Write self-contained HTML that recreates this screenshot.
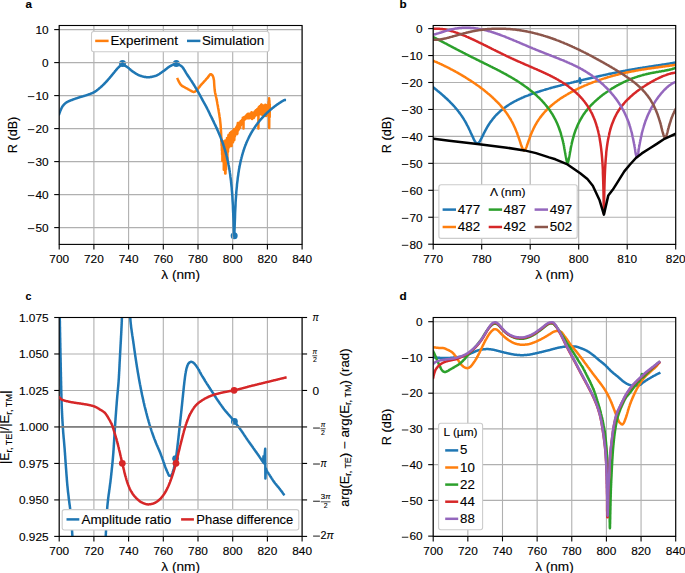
<!DOCTYPE html>
<html><head><meta charset="utf-8"><style>
html,body{margin:0;padding:0;background:#fff;}
svg{display:block;}
text{font-family:"Liberation Sans", sans-serif;fill:#000;stroke:#000;stroke-width:0.12px;}
</style></head><body>
<svg width="685" height="573" viewBox="0 0 685 573">
<rect width="685" height="573" fill="#fff"/>
<defs><clipPath id="ca"><rect x="59.2" y="25.5" width="242.90" height="218.90"/></clipPath><clipPath id="cb"><rect x="433.2" y="25.5" width="242.50" height="218.90"/></clipPath><clipPath id="cc"><rect x="59.2" y="317.5" width="242.90" height="218.90"/></clipPath><clipPath id="cd"><rect x="433.2" y="317.5" width="242.50" height="218.90"/></clipPath></defs>
<g>
<circle cx="122.53" cy="63.59" r="3.5" fill="#1f77b4" clip-path="url(#ca)"/>
<circle cx="176.31" cy="63.43" r="3.5" fill="#1f77b4" clip-path="url(#ca)"/>
<circle cx="234.17" cy="235.85" r="3.5" fill="#1f77b4" clip-path="url(#ca)"/>
<line x1="59.20" y1="25.50" x2="59.20" y2="244.40" stroke="#b0b0b0" stroke-width="1.1" />
<line x1="93.90" y1="25.50" x2="93.90" y2="244.40" stroke="#b0b0b0" stroke-width="1.1" />
<line x1="128.60" y1="25.50" x2="128.60" y2="244.40" stroke="#b0b0b0" stroke-width="1.1" />
<line x1="163.30" y1="25.50" x2="163.30" y2="244.40" stroke="#b0b0b0" stroke-width="1.1" />
<line x1="198.00" y1="25.50" x2="198.00" y2="244.40" stroke="#b0b0b0" stroke-width="1.1" />
<line x1="232.70" y1="25.50" x2="232.70" y2="244.40" stroke="#b0b0b0" stroke-width="1.1" />
<line x1="267.40" y1="25.50" x2="267.40" y2="244.40" stroke="#b0b0b0" stroke-width="1.1" />
<line x1="302.10" y1="25.50" x2="302.10" y2="244.40" stroke="#b0b0b0" stroke-width="1.1" />
<line x1="59.20" y1="29.60" x2="302.10" y2="29.60" stroke="#b0b0b0" stroke-width="1.1" />
<line x1="59.20" y1="62.60" x2="302.10" y2="62.60" stroke="#b0b0b0" stroke-width="1.1" />
<line x1="59.20" y1="95.60" x2="302.10" y2="95.60" stroke="#b0b0b0" stroke-width="1.1" />
<line x1="59.20" y1="128.60" x2="302.10" y2="128.60" stroke="#b0b0b0" stroke-width="1.1" />
<line x1="59.20" y1="161.60" x2="302.10" y2="161.60" stroke="#b0b0b0" stroke-width="1.1" />
<line x1="59.20" y1="194.60" x2="302.10" y2="194.60" stroke="#b0b0b0" stroke-width="1.1" />
<line x1="59.20" y1="227.60" x2="302.10" y2="227.60" stroke="#b0b0b0" stroke-width="1.1" />
<path d="M177.2,77.8L177.5,78.7L177.9,79.5L178.2,80.3L178.6,81.1L178.9,81.8L179.3,82.4L179.6,83.0L180.0,83.6L180.3,84.1L180.7,84.5L181.0,84.8L181.3,85.2L181.7,85.5L182.0,85.8L182.4,86.0L182.7,86.3L183.1,86.5L183.4,86.6L183.8,86.8L184.1,87.0L184.5,87.2L184.8,87.4L185.2,87.6L185.5,87.8L185.9,88.0L186.2,88.2L186.5,88.3L186.9,88.5L187.2,88.7L187.6,88.9L187.9,89.1L188.3,89.3L188.6,89.5L189.0,89.7L189.3,89.9L189.7,90.1L190.0,90.3L190.4,90.5L190.7,90.7L191.1,90.9L191.4,91.1L191.8,91.2L192.1,91.4L192.4,91.6L192.8,91.7L193.1,91.9L193.5,92.0L193.8,92.0L194.2,91.9L194.5,91.8L194.9,91.6L195.2,91.4L195.6,91.2L195.9,91.0L196.3,90.6L196.6,90.3L197.0,89.9L197.3,89.5L197.7,89.1L198.0,88.6L198.3,88.2L198.7,87.8L199.0,87.4L199.4,87.0L199.7,86.5L200.1,86.1L200.4,85.6L200.8,85.2L201.1,84.8L201.5,84.4L201.8,84.0L202.2,83.6L202.5,83.2L202.9,82.9L203.2,82.5L203.6,82.1L203.9,81.8L204.2,81.4L204.6,81.0L204.9,80.7L205.3,80.3L205.6,79.9L206.0,79.5L206.3,79.1L206.7,78.7L207.0,78.4L207.4,78.0L207.7,77.6L208.1,77.1L208.4,76.6L208.8,76.1L209.1,75.6L209.5,75.2L209.8,74.8L210.1,74.4L210.5,74.2L210.8,74.2L211.2,74.2L211.5,74.5L211.9,74.8L212.2,75.1L212.6,75.6L212.9,76.3L213.3,77.2L213.6,78.4L214.0,80.5L214.3,85.6L214.7,90.0L215.0,92.2L215.4,93.9L215.7,95.3L216.0,96.7L216.4,98.2L216.7,100.1L217.1,101.9L217.4,103.9L217.8,105.8L218.1,107.8L218.5,109.8L218.8,111.8L219.2,113.9L219.5,116.2L219.9,118.5L220.2,121.3L220.6,125.0L220.9,129.4L221.2,135.2L221.3,141.6L221.4,137.2L221.6,145.4L221.7,140.1L221.9,150.6L222.0,142.7L222.1,154.5L222.3,141.8L222.4,160.9L222.6,143.3L222.7,156.4L222.8,143.8L223.0,159.2L223.1,141.4L223.2,160.9L223.4,141.6L223.5,161.8L223.7,145.8L223.8,169.7L223.9,143.9L224.1,169.7L224.2,144.5L224.4,162.7L224.5,144.4L224.6,168.3L224.8,146.3L224.9,163.2L225.0,149.8L225.2,173.4L225.3,140.5L225.5,173.5L225.6,146.8L225.7,161.6L225.9,144.5L226.0,169.6L226.2,146.1L226.3,159.0L226.4,148.1L226.6,163.5L226.7,148.0L226.9,162.5L227.0,138.0L227.1,155.2L227.3,144.5L227.4,159.0L227.5,138.3L227.7,151.9L227.8,137.7L228.0,151.7L228.1,137.7L228.2,144.6L228.4,135.3L228.5,144.4L228.7,134.7L228.8,147.4L228.9,135.9L229.1,143.4L229.2,137.3L229.4,146.4L229.5,137.0L229.6,144.7L229.8,133.8L229.9,144.5L230.0,133.0L230.2,141.5L230.3,136.9L230.5,145.9L230.6,136.3L230.7,145.0L230.9,136.6L231.0,142.3L231.2,132.3L231.3,142.3L231.4,131.7L231.6,145.9L231.7,133.9L231.8,142.4L232.0,135.4L232.1,141.5L232.3,134.9L232.4,141.9L232.5,131.1L232.7,141.6L232.8,133.2L233.0,142.2L233.1,131.7L233.2,141.4L233.4,131.4L233.5,140.0L233.7,133.0L233.8,138.3L233.9,129.3L234.1,137.8L234.2,129.0L234.3,139.9L234.5,131.1L234.6,136.3L234.8,130.3L234.9,136.6L235.0,128.9L235.2,135.2L235.3,130.3L235.5,134.7L235.6,128.9L235.7,133.2L235.9,128.8L236.0,133.9L236.2,127.6L236.3,131.6L236.4,127.3L236.6,131.9L236.7,126.8L236.8,130.4L237.0,127.2L237.1,134.1L237.3,125.2L237.4,133.5L237.5,125.2L237.7,131.1L237.8,122.9L238.0,129.7L238.1,123.8L238.2,130.1L238.4,124.1L238.5,128.6L238.7,124.0L238.8,129.5L238.9,123.9L239.1,128.2L239.2,123.3L239.3,127.6L239.5,122.5L239.6,127.9L239.8,124.0L239.9,128.0L240.0,122.6L240.2,127.5L240.3,122.3L240.5,125.5L240.6,121.3L240.7,124.8L240.9,122.0L241.0,124.9L241.1,120.9L241.3,123.7L241.4,121.3L241.6,123.9L241.7,120.4L241.8,122.6L242.0,120.0L242.1,122.6L242.3,119.9L242.4,121.9L242.5,119.7L242.7,122.0L242.8,117.8L243.0,120.9L243.1,118.7L243.2,121.3L243.4,117.5L243.5,121.1L243.5,128.6L243.6,117.9L243.8,119.7L243.9,117.9L244.1,119.6L244.2,117.0L244.3,120.1L244.5,117.6L244.6,118.7L244.8,116.8L244.9,119.3L245.0,117.1L245.2,118.3L245.3,116.9L245.5,119.0L245.6,116.4L245.7,118.2L245.9,115.7L246.0,117.9L246.1,115.7L246.3,117.6L246.4,116.1L246.6,118.3L246.7,115.0L246.8,117.8L247.0,115.1L247.1,118.1L247.3,115.5L247.4,117.4L247.5,113.9L247.7,118.3L247.8,115.3L248.0,116.6L248.1,114.0L248.2,117.0L248.4,113.9L248.5,117.2L248.6,114.4L248.8,117.9L248.9,114.1L249.1,116.6L249.2,114.3L249.3,118.3L249.5,113.7L249.6,117.4L249.8,113.9L249.9,117.7L250.0,114.5L250.2,117.1L250.3,113.4L250.4,118.0L250.6,114.1L250.7,116.9L250.9,114.2L251.0,117.5L251.1,114.5L251.3,117.7L251.4,112.5L251.6,117.2L251.7,112.2L251.8,117.4L252.0,114.0L252.1,118.9L252.3,113.6L252.4,117.8L252.5,113.4L252.7,117.7L252.8,113.5L252.9,117.1L253.1,114.5L253.2,117.8L253.4,113.4L253.5,117.2L253.6,113.5L253.8,117.9L253.9,113.2L254.1,117.6L254.2,112.4L254.3,115.7L254.5,111.8L254.6,116.5L254.8,111.8L254.9,116.2L255.0,112.4L255.2,115.8L255.3,111.0L255.4,114.4L255.6,110.8L255.7,113.9L255.9,110.2L256.0,114.8L256.1,111.6L256.3,114.4L256.4,111.1L256.6,115.0L256.7,111.0L256.8,114.3L257.0,109.8L257.1,113.3L257.3,109.1L257.4,113.8L257.5,109.7L257.7,114.0L257.8,110.3L257.9,115.0L258.1,110.2L258.2,113.9L258.4,108.1L258.4,128.6L258.5,112.7L258.6,108.1L258.8,114.1L258.9,107.1L259.1,112.6L259.2,107.9L259.3,113.9L259.5,106.7L259.6,114.2L259.7,106.2L259.9,111.8L260.0,107.4L260.2,114.2L260.3,106.6L260.4,112.4L260.6,107.2L260.7,111.7L260.9,105.5L261.0,112.2L261.1,104.8L261.3,111.5L261.4,104.7L261.6,111.6L261.7,104.7L261.8,112.7L262.0,105.5L262.1,113.3L262.2,107.6L262.4,115.3L262.5,105.7L262.7,112.3L262.8,105.7L262.9,112.6L263.1,106.3L263.2,114.4L263.4,105.4L263.5,112.1L263.6,107.4L263.8,113.1L263.9,106.2L264.1,114.6L264.2,106.0L264.3,114.5L264.5,107.0L264.6,111.5L264.7,107.3L264.9,111.0L265.0,107.1L265.2,113.2L265.3,104.8L265.4,112.5L265.6,105.3L265.7,114.9L265.9,105.4L266.0,115.9L266.1,105.1L266.3,113.6L266.4,105.3L266.5,111.7L266.7,107.7L266.8,113.8L267.0,107.2L267.1,112.5L267.2,107.2L267.4,115.0L267.5,106.5L267.7,113.7L267.8,105.7L267.9,111.5L268.1,105.2L268.2,114.2L268.4,106.5L268.5,114.2L268.6,101.9L268.8,115.1L268.9,103.1L269.0,115.3L269.2,101.5L269.3,116.4L269.5,105.6L269.6,110.6L269.1,98.2L269.2,127.9L269.4,100.5L269.7,117.0L269.8,103.8" fill="none" stroke="#ff7f0e" stroke-width="2.5" stroke-linejoin="round" stroke-linecap="butt" clip-path="url(#ca)"/>
<path d="M59.2,114.1L59.4,113.6L59.5,113.0L59.7,112.5L59.9,112.1L60.1,111.6L60.2,111.1L60.4,110.7L60.6,110.3L60.8,109.9L60.9,109.5L61.1,109.1L61.3,108.7L61.5,108.3L61.6,108.0L61.8,107.6L62.0,107.3L62.1,107.0L62.3,106.7L62.5,106.4L62.7,106.2L62.8,105.9L63.0,105.7L63.2,105.5L63.4,105.3L63.5,105.1L63.7,104.9L63.9,104.7L64.1,104.5L64.2,104.3L64.4,104.1L64.6,103.9L64.8,103.8L64.9,103.6L65.1,103.5L65.3,103.3L65.4,103.2L65.6,103.0L65.8,102.9L66.0,102.8L66.1,102.6L66.3,102.5L66.5,102.4L66.7,102.3L66.8,102.2L67.0,102.1L67.2,102.0L67.4,101.9L67.5,101.8L67.7,101.7L67.9,101.6L68.0,101.5L68.2,101.5L68.4,101.4L68.6,101.3L68.7,101.2L68.9,101.1L69.1,101.1L69.3,101.0L69.4,100.9L69.6,100.8L69.8,100.8L70.0,100.7L70.1,100.6L70.3,100.6L70.5,100.5L70.7,100.4L70.8,100.4L71.0,100.3L71.2,100.2L71.3,100.2L71.5,100.1L71.7,100.0L71.9,100.0L72.0,99.9L72.2,99.8L72.4,99.8L72.6,99.7L72.7,99.6L72.9,99.6L73.1,99.5L73.3,99.4L73.4,99.4L73.6,99.3L73.8,99.2L73.9,99.2L74.1,99.1L74.3,99.0L74.5,99.0L74.6,98.9L74.8,98.9L75.0,98.8L75.2,98.7L75.3,98.7L75.5,98.6L75.7,98.6L75.9,98.5L76.0,98.4L76.2,98.4L76.4,98.3L76.6,98.3L76.7,98.2L76.9,98.2L77.1,98.1L77.2,98.0L77.4,98.0L77.6,97.9L77.8,97.9L77.9,97.8L78.1,97.8L78.3,97.7L78.5,97.6L78.6,97.6L78.8,97.5L79.0,97.5L79.2,97.4L79.3,97.4L79.5,97.3L79.7,97.2L79.8,97.2L80.0,97.1L80.2,97.1L80.4,97.0L80.5,97.0L80.7,96.9L80.9,96.9L81.1,96.8L81.2,96.8L81.4,96.7L81.6,96.7L81.8,96.6L81.9,96.6L82.1,96.5L82.3,96.5L82.4,96.4L82.6,96.4L82.8,96.3L83.0,96.3L83.1,96.2L83.3,96.2L83.5,96.1L83.7,96.1L83.8,96.0L84.0,96.0L84.2,95.9L84.4,95.9L84.5,95.8L84.7,95.8L84.9,95.7L85.1,95.7L85.2,95.6L85.4,95.6L85.6,95.5L85.7,95.5L85.9,95.4L86.1,95.3L86.3,95.3L86.4,95.2L86.6,95.2L86.8,95.1L87.0,95.1L87.1,95.0L87.3,94.9L87.5,94.9L87.7,94.8L87.8,94.8L88.0,94.7L88.2,94.6L88.3,94.6L88.5,94.5L88.7,94.5L88.9,94.4L89.0,94.3L89.2,94.3L89.4,94.2L89.6,94.2L89.7,94.1L89.9,94.0L90.1,94.0L90.3,93.9L90.4,93.8L90.6,93.8L90.8,93.7L91.0,93.6L91.1,93.6L91.3,93.5L91.5,93.4L91.6,93.3L91.8,93.3L92.0,93.2L92.2,93.1L92.3,93.1L92.5,93.0L92.7,92.9L92.9,92.8L93.0,92.7L93.2,92.6L93.4,92.6L93.6,92.5L93.7,92.4L93.9,92.3L94.1,92.2L94.2,92.1L94.4,92.0L94.6,91.9L94.8,91.8L94.9,91.7L95.1,91.6L95.3,91.5L95.5,91.4L95.6,91.2L95.8,91.1L96.0,91.0L96.2,90.9L96.3,90.8L96.5,90.6L96.7,90.5L96.8,90.4L97.0,90.2L97.2,90.1L97.4,90.0L97.5,89.8L97.7,89.7L97.9,89.5L98.1,89.4L98.2,89.3L98.4,89.1L98.6,89.0L98.8,88.8L98.9,88.7L99.1,88.5L99.3,88.4L99.5,88.2L99.6,88.1L99.8,87.9L100.0,87.8L100.1,87.6L100.3,87.5L100.5,87.3L100.7,87.2L100.8,87.1L101.0,86.9L101.2,86.7L101.4,86.6L101.5,86.4L101.7,86.3L101.9,86.1L102.1,85.9L102.2,85.8L102.4,85.6L102.6,85.5L102.7,85.3L102.9,85.1L103.1,84.9L103.3,84.8L103.4,84.6L103.6,84.4L103.8,84.3L104.0,84.1L104.1,83.9L104.3,83.7L104.5,83.6L104.7,83.4L104.8,83.2L105.0,83.0L105.2,82.8L105.4,82.7L105.5,82.5L105.7,82.3L105.9,82.1L106.0,81.9L106.2,81.7L106.4,81.6L106.6,81.4L106.7,81.2L106.9,81.0L107.1,80.8L107.3,80.6L107.4,80.4L107.6,80.2L107.8,80.0L108.0,79.8L108.1,79.6L108.3,79.4L108.5,79.2L108.6,79.0L108.8,78.8L109.0,78.6L109.2,78.4L109.3,78.2L109.5,78.0L109.7,77.8L109.9,77.6L110.0,77.4L110.2,77.2L110.4,77.0L110.6,76.8L110.7,76.6L110.9,76.4L111.1,76.2L111.3,76.0L111.4,75.8L111.6,75.6L111.8,75.3L111.9,75.1L112.1,74.9L112.3,74.7L112.5,74.5L112.6,74.3L112.8,74.1L113.0,73.9L113.2,73.7L113.3,73.4L113.5,73.2L113.7,73.0L113.9,72.8L114.0,72.6L114.2,72.4L114.4,72.1L114.5,71.9L114.7,71.7L114.9,71.5L115.1,71.3L115.2,71.0L115.4,70.8L115.6,70.6L115.8,70.4L115.9,70.2L116.1,70.0L116.3,69.8L116.5,69.6L116.6,69.4L116.8,69.2L117.0,69.0L117.1,68.8L117.3,68.6L117.5,68.4L117.7,68.2L117.8,68.0L118.0,67.9L118.2,67.7L118.4,67.5L118.5,67.3L118.7,67.2L118.9,67.0L119.1,66.8L119.2,66.7L119.4,66.5L119.6,66.4L119.8,66.2L119.9,66.0L120.1,65.9L120.3,65.7L120.4,65.6L120.6,65.4L120.8,65.2L121.0,65.1L121.1,64.9L121.3,64.7L121.5,64.5L121.7,64.3L121.8,64.0L122.0,63.9L122.2,63.7L122.4,63.6L122.5,63.6L122.7,63.6L122.9,63.7L123.0,63.9L123.2,64.1L123.4,64.3L123.6,64.5L123.7,64.7L123.9,64.9L124.1,65.1L124.3,65.2L124.4,65.3L124.6,65.4L124.8,65.6L125.0,65.7L125.1,65.8L125.3,65.9L125.5,66.0L125.7,66.1L125.8,66.2L126.0,66.3L126.2,66.4L126.3,66.5L126.5,66.6L126.7,66.7L126.9,66.8L127.0,66.9L127.2,67.0L127.4,67.1L127.6,67.3L127.7,67.4L127.9,67.5L128.1,67.7L128.3,67.8L128.4,68.0L128.6,68.1L128.8,68.2L128.9,68.4L129.1,68.5L129.3,68.7L129.5,68.8L129.6,69.0L129.8,69.1L130.0,69.3L130.2,69.4L130.3,69.6L130.5,69.7L130.7,69.9L130.9,70.0L131.0,70.2L131.2,70.3L131.4,70.5L131.5,70.6L131.7,70.7L131.9,70.9L132.1,71.0L132.2,71.1L132.4,71.3L132.6,71.4L132.8,71.5L132.9,71.6L133.1,71.7L133.3,71.9L133.5,72.0L133.6,72.1L133.8,72.2L134.0,72.3L134.2,72.4L134.3,72.6L134.5,72.7L134.7,72.8L134.8,72.9L135.0,73.0L135.2,73.1L135.4,73.3L135.5,73.4L135.7,73.5L135.9,73.6L136.1,73.7L136.2,73.8L136.4,73.9L136.6,74.0L136.8,74.1L136.9,74.2L137.1,74.3L137.3,74.4L137.4,74.5L137.6,74.6L137.8,74.7L138.0,74.8L138.1,74.9L138.3,75.0L138.5,75.1L138.7,75.1L138.8,75.2L139.0,75.3L139.2,75.4L139.4,75.4L139.5,75.5L139.7,75.6L139.9,75.6L140.1,75.7L140.2,75.7L140.4,75.8L140.6,75.9L140.7,75.9L140.9,76.0L141.1,76.0L141.3,76.1L141.4,76.1L141.6,76.1L141.8,76.2L142.0,76.2L142.1,76.3L142.3,76.3L142.5,76.4L142.7,76.4L142.8,76.5L143.0,76.5L143.2,76.6L143.3,76.6L143.5,76.7L143.7,76.7L143.9,76.7L144.0,76.8L144.2,76.8L144.4,76.9L144.6,76.9L144.7,76.9L144.9,77.0L145.1,77.0L145.3,77.0L145.4,77.1L145.6,77.1L145.8,77.1L146.0,77.1L146.1,77.2L146.3,77.2L146.5,77.2L146.6,77.2L146.8,77.2L147.0,77.2L147.2,77.3L147.3,77.3L147.5,77.3L147.7,77.3L147.9,77.3L148.0,77.3L148.2,77.3L148.4,77.3L148.6,77.3L148.7,77.3L148.9,77.3L149.1,77.2L149.2,77.2L149.4,77.2L149.6,77.2L149.8,77.2L149.9,77.2L150.1,77.1L150.3,77.1L150.5,77.1L150.6,77.1L150.8,77.0L151.0,77.0L151.2,77.0L151.3,76.9L151.5,76.9L151.7,76.9L151.8,76.8L152.0,76.8L152.2,76.7L152.4,76.7L152.5,76.7L152.7,76.6L152.9,76.6L153.1,76.5L153.2,76.5L153.4,76.4L153.6,76.4L153.8,76.3L153.9,76.3L154.1,76.3L154.3,76.2L154.5,76.2L154.6,76.1L154.8,76.1L155.0,76.0L155.1,76.0L155.3,75.9L155.5,75.9L155.7,75.8L155.8,75.7L156.0,75.7L156.2,75.6L156.4,75.6L156.5,75.5L156.7,75.4L156.9,75.3L157.1,75.3L157.2,75.2L157.4,75.1L157.6,75.0L157.7,74.9L157.9,74.8L158.1,74.7L158.3,74.6L158.4,74.5L158.6,74.4L158.8,74.3L159.0,74.2L159.1,74.1L159.3,74.0L159.5,73.8L159.7,73.7L159.8,73.6L160.0,73.5L160.2,73.4L160.4,73.2L160.5,73.1L160.7,73.0L160.9,72.9L161.0,72.8L161.2,72.6L161.4,72.5L161.6,72.4L161.7,72.3L161.9,72.1L162.1,72.0L162.3,71.9L162.4,71.8L162.6,71.6L162.8,71.5L163.0,71.4L163.1,71.3L163.3,71.2L163.5,71.1L163.6,70.9L163.8,70.8L164.0,70.7L164.2,70.6L164.3,70.5L164.5,70.3L164.7,70.2L164.9,70.1L165.0,69.9L165.2,69.8L165.4,69.7L165.6,69.5L165.7,69.4L165.9,69.2L166.1,69.1L166.2,69.0L166.4,68.8L166.6,68.7L166.8,68.6L166.9,68.4L167.1,68.3L167.3,68.2L167.5,68.0L167.6,67.9L167.8,67.7L168.0,67.6L168.2,67.5L168.3,67.4L168.5,67.2L168.7,67.1L168.9,67.0L169.0,66.9L169.2,66.7L169.4,66.6L169.5,66.5L169.7,66.4L169.9,66.3L170.1,66.2L170.2,66.1L170.4,66.0L170.6,65.9L170.8,65.8L170.9,65.7L171.1,65.6L171.3,65.6L171.5,65.5L171.6,65.4L171.8,65.3L172.0,65.2L172.1,65.2L172.3,65.1L172.5,65.0L172.7,64.9L172.8,64.9L173.0,64.8L173.2,64.7L173.4,64.7L173.5,64.6L173.7,64.5L173.9,64.4L174.1,64.4L174.2,64.3L174.4,64.2L174.6,64.2L174.8,64.1L174.9,64.0L175.1,63.9L175.3,63.8L175.4,63.7L175.6,63.6L175.8,63.5L176.0,63.5L176.1,63.4L176.3,63.4L176.5,63.4L176.7,63.5L176.8,63.6L177.0,63.6L177.2,63.7L177.4,63.8L177.5,64.0L177.7,64.1L177.9,64.2L178.0,64.3L178.2,64.4L178.4,64.5L178.6,64.6L178.7,64.7L178.9,64.8L179.1,64.8L179.3,64.9L179.4,65.0L179.6,65.1L179.8,65.2L180.0,65.3L180.1,65.4L180.3,65.4L180.5,65.5L180.7,65.6L180.8,65.7L181.0,65.9L181.2,66.0L181.3,66.1L181.5,66.2L181.7,66.4L181.9,66.5L182.0,66.7L182.2,66.9L182.4,67.1L182.6,67.3L182.7,67.5L182.9,67.7L183.1,68.0L183.3,68.2L183.4,68.5L183.6,68.7L183.8,69.0L183.9,69.3L184.1,69.6L184.3,69.9L184.5,70.1L184.6,70.4L184.8,70.7L185.0,71.0L185.2,71.3L185.3,71.6L185.5,71.9L185.7,72.2L185.9,72.5L186.0,72.8L186.2,73.1L186.4,73.4L186.5,73.7L186.7,73.9L186.9,74.2L187.1,74.5L187.2,74.7L187.4,75.0L187.6,75.3L187.8,75.5L187.9,75.8L188.1,76.0L188.3,76.3L188.5,76.5L188.6,76.8L188.8,77.0L189.0,77.3L189.2,77.6L189.3,77.8L189.5,78.1L189.7,78.3L189.8,78.6L190.0,78.8L190.2,79.1L190.4,79.4L190.5,79.6L190.7,79.9L190.9,80.1L191.1,80.4L191.2,80.7L191.4,80.9L191.6,81.2L191.8,81.4L191.9,81.7L192.1,82.0L192.3,82.2L192.4,82.5L192.6,82.8L192.8,83.1L193.0,83.3L193.1,83.6L193.3,83.9L193.5,84.2L193.7,84.4L193.8,84.7L194.0,85.0L194.2,85.3L194.4,85.6L194.5,85.9L194.7,86.1L194.9,86.4L195.1,86.7L195.2,87.0L195.4,87.3L195.6,87.6L195.7,87.9L195.9,88.2L196.1,88.4L196.3,88.7L196.4,89.0L196.6,89.3L196.8,89.6L197.0,89.9L197.1,90.2L197.3,90.5L197.5,90.8L197.7,91.1L197.8,91.4L198.0,91.7L198.2,92.0L198.3,92.3L198.5,92.6L198.7,92.9L198.9,93.2L199.0,93.6L199.2,93.9L199.4,94.2L199.6,94.5L199.7,94.8L199.9,95.1L200.1,95.4L200.3,95.8L200.4,96.1L200.6,96.4L200.8,96.7L200.9,97.1L201.1,97.4L201.3,97.7L201.5,98.0L201.6,98.4L201.8,98.7L202.0,99.0L202.2,99.3L202.3,99.7L202.5,100.0L202.7,100.3L202.9,100.6L203.0,101.0L203.2,101.3L203.4,101.6L203.6,101.9L203.7,102.2L203.9,102.5L204.1,102.8L204.2,103.1L204.4,103.4L204.6,103.8L204.8,104.1L204.9,104.4L205.1,104.7L205.3,105.0L205.5,105.3L205.6,105.6L205.8,105.9L206.0,106.2L206.2,106.6L206.3,106.9L206.5,107.2L206.7,107.5L206.8,107.9L207.0,108.2L207.2,108.5L207.4,108.9L207.5,109.2L207.7,109.6L207.9,109.9L208.1,110.3L208.2,110.6L208.4,111.0L208.6,111.4L208.8,111.7L208.9,112.1L209.1,112.4L209.3,112.8L209.5,113.2L209.6,113.6L209.8,113.9L210.0,114.3L210.1,114.7L210.3,115.0L210.5,115.4L210.7,115.7L210.8,116.1L211.0,116.4L211.2,116.8L211.4,117.1L211.5,117.5L211.7,117.8L211.9,118.2L212.1,118.5L212.2,118.9L212.4,119.3L212.6,119.6L212.7,120.0L212.9,120.3L213.1,120.7L213.3,121.0L213.4,121.4L213.6,121.8L213.8,122.1L214.0,122.5L214.1,122.9L214.3,123.2L214.5,123.6L214.7,123.9L214.8,124.3L215.0,124.7L215.2,125.0L215.4,125.4L215.5,125.8L215.7,126.2L215.9,126.5L216.0,126.9L216.2,127.3L216.4,127.7L216.6,128.0L216.7,128.4L216.9,128.8L217.1,129.2L217.3,129.6L217.4,130.0L217.6,130.3L217.8,130.7L218.0,131.1L218.1,131.5L218.3,131.9L218.5,132.3L218.6,132.7L218.8,133.1L219.0,133.5L219.2,133.9L219.3,134.4L219.5,134.8L219.7,135.2L219.9,135.6L220.0,136.0L220.2,136.5L220.4,136.9L220.6,137.3L220.7,137.8L220.9,138.2L221.1,138.6L221.2,139.1L221.4,139.5L221.6,140.0L221.8,140.5L221.9,140.9L222.1,141.4L222.3,141.9L222.5,142.4L222.6,142.8L222.8,143.3L223.0,143.8L223.2,144.3L223.3,144.8L223.5,145.3L223.7,145.9L223.9,146.4L224.0,146.9L224.2,147.5L224.4,148.0L224.5,148.6L224.7,149.1L224.9,149.7L225.1,150.3L225.2,150.9L225.4,151.5L225.6,152.1L225.8,152.7L225.9,153.4L226.1,154.0L226.3,154.7L226.5,155.4L226.6,156.0L226.8,156.7L227.0,157.5L227.1,158.2L227.3,158.9L227.5,159.7L227.7,160.5L227.8,161.3L228.0,162.1L228.2,162.9L228.4,163.8L228.5,164.7L228.7,165.6L228.9,166.6L229.1,167.5L229.2,168.5L229.4,169.6L229.6,170.7L229.8,171.8L229.9,172.9L230.1,174.1L230.3,175.4L230.4,176.7L230.6,178.0L230.8,179.5L231.0,181.0L231.1,182.5L231.3,184.2L231.5,186.0L231.7,187.8L231.8,189.8L232.0,191.9L232.2,194.2L232.4,196.7L232.5,199.4L232.7,202.3L232.9,205.5L233.0,209.1L233.2,213.0L233.4,217.5L233.6,222.3L233.7,227.5L233.9,232.4L234.1,235.7L234.3,235.7L234.4,232.4L234.6,227.5L234.8,222.4L235.0,217.5L235.1,213.1L235.3,209.2L235.5,205.6L235.6,202.4L235.8,199.5L236.0,196.8L236.2,194.4L236.3,192.1L236.5,190.0L236.7,188.0L236.9,186.2L237.0,184.4L237.2,182.8L237.4,181.3L237.6,179.8L237.7,178.4L237.9,177.0L238.1,175.7L238.3,174.5L238.4,173.3L238.6,172.2L238.8,171.1L238.9,170.1L239.1,169.0L239.3,168.1L239.5,167.1L239.6,166.2L239.8,165.3L240.0,164.4L240.2,163.6L240.3,162.8L240.5,162.0L240.7,161.2L240.9,160.4L241.0,159.7L241.2,159.0L241.4,158.3L241.5,157.6L241.7,156.9L241.9,156.3L242.1,155.6L242.2,155.0L242.4,154.4L242.6,153.8L242.8,153.2L242.9,152.6L243.1,152.0L243.3,151.5L243.5,150.9L243.6,150.4L243.8,149.8L244.0,149.3L244.2,148.8L244.3,148.3L244.5,147.8L244.7,147.3L244.8,146.9L245.0,146.4L245.2,145.9L245.4,145.5L245.5,145.0L245.7,144.6L245.9,144.1L246.1,143.7L246.2,143.3L246.4,142.8L246.6,142.4L246.8,142.0L246.9,141.6L247.1,141.2L247.3,140.8L247.4,140.4L247.6,140.1L247.8,139.7L248.0,139.3L248.1,138.9L248.3,138.6L248.5,138.2L248.7,137.8L248.8,137.5L249.0,137.1L249.2,136.8L249.4,136.5L249.5,136.1L249.7,135.8L249.9,135.4L250.1,135.1L250.2,134.8L250.4,134.5L250.6,134.2L250.7,133.8L250.9,133.5L251.1,133.2L251.3,132.9L251.4,132.6L251.6,132.3L251.8,132.0L252.0,131.7L252.1,131.4L252.3,131.1L252.5,130.9L252.7,130.6L252.8,130.3L253.0,130.0L253.2,129.7L253.3,129.5L253.5,129.2L253.7,128.9L253.9,128.6L254.0,128.4L254.2,128.1L254.4,127.9L254.6,127.6L254.7,127.3L254.9,127.1L255.1,126.8L255.3,126.6L255.4,126.3L255.6,126.1L255.8,125.8L255.9,125.6L256.1,125.4L256.3,125.1L256.5,124.9L256.6,124.6L256.8,124.4L257.0,124.2L257.2,123.9L257.3,123.7L257.5,123.5L257.7,123.2L257.9,123.0L258.0,122.8L258.2,122.6L258.4,122.4L258.6,122.1L258.7,121.9L258.9,121.7L259.1,121.5L259.2,121.3L259.4,121.1L259.6,120.9L259.8,120.6L259.9,120.4L260.1,120.2L260.3,120.0L260.5,119.8L260.6,119.6L260.8,119.4L261.0,119.2L261.2,119.0L261.3,118.8L261.5,118.6L261.7,118.4L261.8,118.2L262.0,118.0L262.2,117.8L262.4,117.6L262.5,117.5L262.7,117.3L262.9,117.1L263.1,116.9L263.2,116.7L263.4,116.5L263.6,116.3L263.8,116.2L263.9,116.0L264.1,115.8L264.3,115.6L264.5,115.4L264.6,115.3L264.8,115.1L265.0,114.9L265.1,114.7L265.3,114.6L265.5,114.4L265.7,114.2L265.8,114.0L266.0,113.9L266.2,113.7L266.4,113.5L266.5,113.4L266.7,113.2L266.9,113.0L267.1,112.9L267.2,112.7L267.4,112.5L267.6,112.4L267.7,112.2L267.9,112.1L268.1,111.9L268.3,111.7L268.4,111.6L268.6,111.4L268.8,111.3L269.0,111.1L269.1,111.0L269.3,110.8L269.5,110.6L269.7,110.5L269.8,110.3L270.0,110.2L270.2,110.0L270.3,109.9L270.5,109.7L270.7,109.6L270.9,109.4L271.0,109.3L271.2,109.2L271.4,109.0L271.6,108.9L271.7,108.7L271.9,108.6L272.1,108.4L272.3,108.3L272.4,108.1L272.6,108.0L272.8,107.9L273.0,107.7L273.1,107.6L273.3,107.5L273.5,107.3L273.6,107.2L273.8,107.0L274.0,106.9L274.2,106.8L274.3,106.6L274.5,106.5L274.7,106.4L274.9,106.2L275.0,106.1L275.2,106.0L275.4,105.9L275.6,105.7L275.7,105.6L275.9,105.5L276.1,105.3L276.2,105.2L276.4,105.1L276.6,105.0L276.8,104.8L276.9,104.7L277.1,104.6L277.3,104.5L277.5,104.3L277.6,104.2L277.8,104.1L278.0,104.0L278.2,103.9L278.3,103.8L278.5,103.6L278.7,103.5L278.9,103.4L279.0,103.3L279.2,103.2L279.4,103.1L279.5,102.9L279.7,102.8L279.9,102.7L280.1,102.6L280.2,102.5L280.4,102.4L280.6,102.3L280.8,102.2L280.9,102.1L281.1,101.9L281.3,101.8L281.5,101.7L281.6,101.6L281.8,101.5L282.0,101.4L282.1,101.3L282.3,101.2L282.5,101.1L282.7,101.0L282.8,100.9L283.0,100.8L283.2,100.7L283.4,100.6L283.5,100.5L283.7,100.4L283.9,100.3L284.1,100.2L284.2,100.1L284.4,100.0L284.6,99.9L284.8,99.9" fill="none" stroke="#1f77b4" stroke-width="2.5" stroke-linejoin="round" stroke-linecap="square" clip-path="url(#ca)"/>
<rect x="59.20" y="25.50" width="242.90" height="218.90" fill="none" stroke="#000" stroke-width="1.1" stroke-linejoin="miter"/>
<line x1="59.20" y1="244.40" x2="59.20" y2="249.40" stroke="#000" stroke-width="1.1" />
<text x="49.32" y="262.80" font-size="10.76" textLength="19.75" lengthAdjust="spacingAndGlyphs">700</text>
<line x1="93.90" y1="244.40" x2="93.90" y2="249.40" stroke="#000" stroke-width="1.1" />
<text x="84.02" y="262.80" font-size="10.76" textLength="19.75" lengthAdjust="spacingAndGlyphs">720</text>
<line x1="128.60" y1="244.40" x2="128.60" y2="249.40" stroke="#000" stroke-width="1.1" />
<text x="118.72" y="262.80" font-size="10.76" textLength="19.75" lengthAdjust="spacingAndGlyphs">740</text>
<line x1="163.30" y1="244.40" x2="163.30" y2="249.40" stroke="#000" stroke-width="1.1" />
<text x="153.42" y="262.80" font-size="10.76" textLength="19.75" lengthAdjust="spacingAndGlyphs">760</text>
<line x1="198.00" y1="244.40" x2="198.00" y2="249.40" stroke="#000" stroke-width="1.1" />
<text x="188.12" y="262.80" font-size="10.76" textLength="19.75" lengthAdjust="spacingAndGlyphs">780</text>
<line x1="232.70" y1="244.40" x2="232.70" y2="249.40" stroke="#000" stroke-width="1.1" />
<text x="222.82" y="262.80" font-size="10.76" textLength="19.75" lengthAdjust="spacingAndGlyphs">800</text>
<line x1="267.40" y1="244.40" x2="267.40" y2="249.40" stroke="#000" stroke-width="1.1" />
<text x="257.52" y="262.80" font-size="10.76" textLength="19.75" lengthAdjust="spacingAndGlyphs">820</text>
<line x1="302.10" y1="244.40" x2="302.10" y2="249.40" stroke="#000" stroke-width="1.1" />
<text x="292.22" y="262.80" font-size="10.76" textLength="19.75" lengthAdjust="spacingAndGlyphs">840</text>
<line x1="54.20" y1="29.60" x2="59.20" y2="29.60" stroke="#000" stroke-width="1.1" />
<text x="35.43" y="33.90" font-size="10.76" textLength="13.17" lengthAdjust="spacingAndGlyphs">10</text>
<line x1="54.20" y1="62.60" x2="59.20" y2="62.60" stroke="#000" stroke-width="1.1" />
<text x="42.02" y="66.90" font-size="10.76" textLength="6.58" lengthAdjust="spacingAndGlyphs">0</text>
<line x1="54.20" y1="95.60" x2="59.20" y2="95.60" stroke="#000" stroke-width="1.1" />
<rect x="27.85" y="96.23" width="6.48" height="0.86" fill="#000"/>
<text x="35.43" y="99.90" font-size="10.76" textLength="13.17" lengthAdjust="spacingAndGlyphs">10</text>
<line x1="54.20" y1="128.60" x2="59.20" y2="128.60" stroke="#000" stroke-width="1.1" />
<rect x="27.85" y="129.23" width="6.48" height="0.86" fill="#000"/>
<text x="35.43" y="132.90" font-size="10.76" textLength="13.17" lengthAdjust="spacingAndGlyphs">20</text>
<line x1="54.20" y1="161.60" x2="59.20" y2="161.60" stroke="#000" stroke-width="1.1" />
<rect x="27.85" y="162.23" width="6.48" height="0.86" fill="#000"/>
<text x="35.43" y="165.90" font-size="10.76" textLength="13.17" lengthAdjust="spacingAndGlyphs">30</text>
<line x1="54.20" y1="194.60" x2="59.20" y2="194.60" stroke="#000" stroke-width="1.1" />
<rect x="27.85" y="195.23" width="6.48" height="0.86" fill="#000"/>
<text x="35.43" y="198.90" font-size="10.76" textLength="13.17" lengthAdjust="spacingAndGlyphs">40</text>
<line x1="54.20" y1="227.60" x2="59.20" y2="227.60" stroke="#000" stroke-width="1.1" />
<rect x="27.85" y="228.23" width="6.48" height="0.86" fill="#000"/>
<text x="35.43" y="231.90" font-size="10.76" textLength="13.17" lengthAdjust="spacingAndGlyphs">50</text>
<text x="161.36" y="279.10" font-size="12.17" textLength="38.58" lengthAdjust="spacingAndGlyphs">λ (nm)</text>
<text transform="translate(17.00,134.95) rotate(-90)" x="-18.22" y="0" font-size="12.17" textLength="36.43" lengthAdjust="spacingAndGlyphs">R (dB)</text>
<text x="25.60" y="7.90" font-size="11.56" textLength="6.45" lengthAdjust="spacingAndGlyphs" font-weight="bold">a</text>
<rect x="91.50" y="31.50" width="177.50" height="20.30" rx="2.2" ry="2.2" fill="#fff" stroke="#cccccc" stroke-width="1.1"/>
<line x1="95.20" y1="40.90" x2="108.60" y2="40.90" stroke="#ff7f0e" stroke-width="2.5" stroke-linecap="butt"/>
<text x="110.40" y="44.60" font-size="12.17" textLength="67.60" lengthAdjust="spacingAndGlyphs">Experiment</text>
<line x1="187.00" y1="40.90" x2="200.40" y2="40.90" stroke="#1f77b4" stroke-width="2.5" stroke-linecap="butt"/>
<text x="201.90" y="44.60" font-size="12.17" textLength="62.32" lengthAdjust="spacingAndGlyphs">Simulation</text>
</g>
<g>
<line x1="433.20" y1="25.50" x2="433.20" y2="244.40" stroke="#b0b0b0" stroke-width="1.1" />
<line x1="481.70" y1="25.50" x2="481.70" y2="244.40" stroke="#b0b0b0" stroke-width="1.1" />
<line x1="530.20" y1="25.50" x2="530.20" y2="244.40" stroke="#b0b0b0" stroke-width="1.1" />
<line x1="578.70" y1="25.50" x2="578.70" y2="244.40" stroke="#b0b0b0" stroke-width="1.1" />
<line x1="627.20" y1="25.50" x2="627.20" y2="244.40" stroke="#b0b0b0" stroke-width="1.1" />
<line x1="675.70" y1="25.50" x2="675.70" y2="244.40" stroke="#b0b0b0" stroke-width="1.1" />
<line x1="433.20" y1="28.60" x2="675.70" y2="28.60" stroke="#b0b0b0" stroke-width="1.1" />
<line x1="433.20" y1="55.55" x2="675.70" y2="55.55" stroke="#b0b0b0" stroke-width="1.1" />
<line x1="433.20" y1="82.50" x2="675.70" y2="82.50" stroke="#b0b0b0" stroke-width="1.1" />
<line x1="433.20" y1="109.45" x2="675.70" y2="109.45" stroke="#b0b0b0" stroke-width="1.1" />
<line x1="433.20" y1="136.40" x2="675.70" y2="136.40" stroke="#b0b0b0" stroke-width="1.1" />
<line x1="433.20" y1="163.35" x2="675.70" y2="163.35" stroke="#b0b0b0" stroke-width="1.1" />
<line x1="433.20" y1="190.30" x2="675.70" y2="190.30" stroke="#b0b0b0" stroke-width="1.1" />
<line x1="433.20" y1="217.25" x2="675.70" y2="217.25" stroke="#b0b0b0" stroke-width="1.1" />
<line x1="433.20" y1="244.20" x2="675.70" y2="244.20" stroke="#b0b0b0" stroke-width="1.1" />
<path d="M430.8,85.3L431.5,85.9L432.2,86.5L433.0,87.0L433.7,87.6L434.4,88.2L435.1,88.8L435.9,89.4L436.6,90.0L437.3,90.6L438.0,91.2L438.8,91.8L439.5,92.4L440.2,93.0L441.0,93.6L441.7,94.3L442.4,94.9L443.1,95.5L443.9,96.2L444.6,96.8L445.3,97.5L446.1,98.2L446.8,98.8L447.5,99.5L448.2,100.2L449.0,100.9L449.7,101.6L450.4,102.4L451.1,103.1L451.9,103.9L452.6,104.6L453.3,105.4L454.1,106.2L454.8,107.0L455.5,107.9L456.2,108.7L457.0,109.6L457.7,110.5L458.4,111.4L459.1,112.4L459.9,113.4L460.6,114.4L461.3,115.4L462.1,116.5L462.8,117.6L463.5,118.7L464.2,119.9L465.0,121.1L465.7,122.4L466.4,123.7L467.1,125.1L467.9,126.5L468.6,128.0L469.3,129.5L470.1,131.0L470.1,131.0L470.2,131.2L470.3,131.5L470.4,131.7L470.4,131.9L470.5,132.1L470.6,132.3L470.7,132.5L470.8,132.7L470.9,133.0L471.0,133.2L471.1,133.4L471.2,133.6L471.3,133.8L471.4,134.0L471.5,134.3L471.6,134.5L471.7,134.7L471.8,134.9L471.9,135.1L472.0,135.3L472.1,135.6L472.2,135.8L472.3,136.0L472.4,136.2L472.5,136.4L472.6,136.6L472.7,136.8L472.8,137.1L472.9,137.3L473.0,137.5L473.1,137.7L473.2,137.9L473.3,138.1L473.4,138.3L473.5,138.5L473.6,138.7L473.6,138.9L473.7,139.1L473.8,139.3L473.9,139.5L474.0,139.7L474.1,139.9L474.2,140.1L474.3,140.3L474.4,140.4L474.5,140.6L474.6,140.8L474.7,141.0L474.8,141.1L474.9,141.3L475.0,141.4L475.1,141.6L475.2,141.7L475.3,141.9L475.4,142.0L475.5,142.1L475.6,142.3L475.7,142.4L475.8,142.5L475.9,142.6L476.0,142.7L476.1,142.8L476.2,142.9L476.3,143.0L476.4,143.0L476.5,143.1L476.6,143.2L476.7,143.2L476.8,143.3L476.8,143.3L476.9,143.3L477.0,143.4L477.1,143.4L477.2,143.4L477.3,143.4L477.4,143.4L477.5,143.4L477.6,143.4L477.7,143.3L477.8,143.3L477.9,143.3L478.0,143.2L478.1,143.2L478.2,143.1L478.3,143.0L478.4,143.0L478.5,142.9L478.6,142.8L478.7,142.7L478.8,142.6L478.9,142.5L479.0,142.4L479.1,142.3L479.2,142.2L479.3,142.0L479.4,141.9L479.5,141.8L479.6,141.6L479.7,141.5L479.8,141.4L479.9,141.2L480.0,141.0L480.1,140.9L480.1,140.7L480.2,140.6L480.3,140.4L480.4,140.2L480.5,140.1L480.6,139.9L480.7,139.7L480.8,139.5L480.9,139.3L481.0,139.1L481.1,139.0L481.2,138.8L481.3,138.6L481.4,138.4L481.5,138.2L481.6,138.0L481.7,137.8L481.8,137.6L481.9,137.4L482.0,137.2L482.1,137.0L482.2,136.8L482.3,136.6L482.4,136.4L482.5,136.2L482.6,136.0L482.7,135.9L482.8,135.7L482.9,135.5L483.0,135.3L483.1,135.1L483.2,134.9L483.3,134.7L483.3,134.5L483.4,134.3L483.5,134.1L483.6,133.9L483.7,133.7L483.8,133.5L483.9,133.3L484.0,133.1L484.1,132.9L484.2,132.7L484.3,132.5L484.4,132.3L484.5,132.1L484.6,132.0L485.3,130.6L486.1,129.2L486.8,127.9L487.5,126.7L488.2,125.5L489.0,124.3L489.7,123.2L490.4,122.1L491.2,121.1L491.9,120.2L492.6,119.2L493.3,118.3L494.1,117.5L494.8,116.6L495.5,115.8L496.2,115.0L497.0,114.3L497.7,113.6L498.4,112.9L499.2,112.2L499.9,111.5L500.6,110.9L501.3,110.3L502.1,109.7L502.8,109.1L503.5,108.5L504.3,108.0L505.0,107.4L505.7,106.9L506.4,106.4L507.2,105.9L507.9,105.4L508.6,104.9L509.3,104.5L510.1,104.0L510.8,103.6L511.5,103.2L512.3,102.7L513.0,102.3L513.7,101.9L514.4,101.5L515.2,101.1L515.9,100.8L516.6,100.4L517.3,100.0L518.1,99.7L518.8,99.3L519.5,99.0L520.3,98.6L521.0,98.3L521.7,98.0L522.4,97.7L523.2,97.4L523.9,97.0L524.6,96.7L525.3,96.4L526.1,96.1L526.8,95.9L527.5,95.6L528.3,95.3L529.0,95.0L529.7,94.7L530.4,94.5L531.2,94.2L531.9,93.9L532.6,93.7L533.4,93.4L534.1,93.2L534.8,92.9L535.5,92.7L536.3,92.4L537.0,92.2L537.7,92.0L538.4,91.7L539.2,91.5L539.9,91.3L540.6,91.0L541.4,90.8L542.1,90.6L542.8,90.4L543.5,90.1L544.3,89.9L545.0,89.7L545.7,89.5L546.4,89.3L547.2,89.1L547.9,88.9L548.6,88.6L549.4,88.4L550.1,88.2L550.8,88.0L551.5,87.8L552.3,87.6L553.0,87.4L553.7,87.2L554.4,87.0L555.2,86.8L555.9,86.6L556.6,86.4L557.4,86.3L558.1,86.1L558.8,85.9L559.5,85.7L560.3,85.5L561.0,85.3L561.7,85.1L562.5,84.9L563.2,84.7L563.9,84.6L564.6,84.4L565.4,84.2L566.1,84.0L566.8,83.8L567.5,83.6L568.3,83.5L569.0,83.3L569.7,83.1L570.5,82.9L571.2,82.7L571.9,82.6L572.6,82.4L573.4,82.2L574.1,82.0L574.8,81.8L575.5,81.7L576.3,81.5L577.0,81.3L577.7,81.1L578.5,81.0L579.2,80.8L579.9,78.4L580.2,83.0L580.5,80.6L580.6,80.4L581.4,80.3L582.1,80.1L582.8,79.9L583.5,79.7L584.3,79.6L585.0,79.4L585.7,79.2L586.5,79.0L587.2,78.9L587.9,78.7L588.6,78.5L589.4,78.4L590.1,78.2L590.8,78.0L591.6,77.9L592.3,77.7L593.0,77.5L593.7,77.4L594.5,77.2L595.2,77.0L595.9,76.9L596.6,76.7L597.4,76.5L598.1,76.4L598.8,76.2L599.6,76.0L600.3,75.9L601.0,75.7L601.7,75.6L602.5,75.4L603.2,75.2L603.9,75.1L604.6,74.9L605.4,74.8L606.1,74.6L606.8,74.4L607.6,74.3L608.3,74.1L609.0,74.0L609.7,73.8L610.5,73.7L611.2,73.5L611.9,73.4L612.6,73.2L613.4,73.1L614.1,72.9L614.8,72.8L615.6,72.6L616.3,72.5L617.0,72.3L617.7,72.2L618.5,72.0L619.2,71.9L619.9,71.7L620.7,71.6L621.4,71.5L622.1,71.3L622.8,71.2L623.6,71.0L624.3,70.9L625.0,70.8L625.7,70.6L626.5,70.5L627.2,70.4L627.9,70.2L628.7,70.1L629.4,70.0L630.1,69.8L630.8,69.7L631.6,69.6L632.3,69.4L633.0,69.3L633.7,69.2L634.5,69.1L635.2,68.9L635.9,68.8L636.7,68.7L637.4,68.6L638.1,68.5L638.8,68.3L639.6,68.2L640.3,68.1L641.0,68.0L641.7,67.9L642.5,67.7L643.2,67.6L643.9,67.5L644.7,67.4L645.4,67.3L646.1,67.2L646.8,67.1L647.6,66.9L648.3,66.8L649.0,66.7L649.8,66.6L650.5,66.5L651.2,66.4L651.9,66.3L652.7,66.2L653.4,66.0L654.1,65.9L654.8,65.8L655.6,65.7L656.3,65.6L657.0,65.5L657.8,65.4L658.5,65.3L659.2,65.2L659.9,65.1L660.7,64.9L661.4,64.8L662.1,64.7L662.8,64.6L663.6,64.5L664.3,64.4L665.0,64.3L665.8,64.2L666.5,64.0L667.2,63.9L667.9,63.8L668.7,63.7L669.4,63.6L670.1,63.4L670.8,63.3L671.6,63.2L672.3,63.1L673.0,62.9L673.8,62.8L674.5,62.7L675.2,62.5L675.9,62.4L676.7,62.3L677.4,62.1L678.1,62.0" fill="none" stroke="#1f77b4" stroke-width="2.5" stroke-linejoin="round" stroke-linecap="square" clip-path="url(#cb)"/>
<path d="M430.8,59.8L431.5,60.1L432.2,60.4L433.0,60.7L433.7,61.0L434.4,61.3L435.1,61.6L435.9,61.9L436.6,62.2L437.3,62.5L438.0,62.9L438.8,63.2L439.5,63.5L440.2,63.9L441.0,64.2L441.7,64.5L442.4,64.9L443.1,65.2L443.9,65.6L444.6,65.9L445.3,66.3L446.1,66.6L446.8,67.0L447.5,67.4L448.2,67.7L449.0,68.1L449.7,68.5L450.4,68.9L451.1,69.3L451.9,69.6L452.6,70.0L453.3,70.4L454.1,70.8L454.8,71.2L455.5,71.6L456.2,72.0L457.0,72.4L457.7,72.8L458.4,73.2L459.1,73.7L459.9,74.1L460.6,74.5L461.3,74.9L462.1,75.4L462.8,75.8L463.5,76.2L464.2,76.7L465.0,77.1L465.7,77.6L466.4,78.0L467.1,78.5L467.9,78.9L468.6,79.4L469.3,79.9L470.1,80.3L470.8,80.8L471.5,81.3L472.2,81.8L473.0,82.2L473.7,82.7L474.4,83.2L475.2,83.7L475.9,84.2L476.6,84.8L477.3,85.3L478.1,85.8L478.8,86.3L479.5,86.8L480.2,87.4L481.0,87.9L481.7,88.5L482.4,89.0L483.2,89.6L483.9,90.1L484.6,90.7L485.3,91.3L486.1,91.9L486.8,92.5L487.5,93.1L488.2,93.7L489.0,94.3L489.7,94.9L490.4,95.6L491.2,96.2L491.9,96.9L492.6,97.5L493.3,98.2L494.1,98.9L494.8,99.6L495.5,100.3L496.2,101.0L497.0,101.7L497.7,102.5L498.4,103.2L499.2,104.0L499.9,104.8L500.6,105.6L501.3,106.5L502.1,107.3L502.8,108.2L503.5,109.1L504.3,110.0L505.0,111.0L505.7,111.9L506.4,112.9L507.2,114.0L507.9,115.1L508.6,116.2L509.3,117.3L510.1,118.5L510.8,119.7L511.5,121.0L512.3,122.4L513.0,123.8L513.7,125.3L514.4,126.8L515.2,128.5L515.9,130.2L516.6,132.0L516.9,132.6L517.0,132.9L517.1,133.1L517.2,133.4L517.3,133.6L517.3,133.9L517.4,134.2L517.5,134.4L517.6,134.7L517.7,135.0L517.8,135.2L517.9,135.5L518.0,135.8L518.1,136.0L518.2,136.3L518.3,136.6L518.4,136.9L518.5,137.1L518.6,137.4L518.7,137.7L518.8,138.0L518.9,138.3L519.0,138.6L519.1,138.8L519.2,139.1L519.3,139.4L519.4,139.7L519.5,140.0L519.6,140.3L519.7,140.6L519.8,140.9L519.9,141.2L520.0,141.5L520.1,141.8L520.2,142.1L520.3,142.4L520.4,142.7L520.5,143.0L520.5,143.2L520.6,143.5L520.7,143.8L520.8,144.1L520.9,144.4L521.0,144.7L521.1,145.0L521.2,145.3L521.3,145.5L521.4,145.8L521.5,146.1L521.6,146.4L521.7,146.6L521.8,146.9L521.9,147.1L522.0,147.4L522.1,147.6L522.2,147.9L522.3,148.1L522.4,148.3L522.5,148.5L522.6,148.7L522.7,148.9L522.8,149.1L522.9,149.3L523.0,149.4L523.1,149.6L523.2,149.7L523.3,149.9L523.4,150.0L523.5,150.1L523.6,150.2L523.7,150.2L523.7,150.3L523.8,150.4L523.9,150.4L524.0,150.4L524.1,150.4L524.2,150.4L524.3,150.4L524.4,150.4L524.5,150.3L524.6,150.2L524.7,150.2L524.8,150.1L524.9,150.0L525.0,149.9L525.1,149.7L525.2,149.6L525.3,149.4L525.4,149.3L525.5,149.1L525.6,148.9L525.7,148.7L525.8,148.6L525.9,148.3L526.0,148.1L526.1,147.9L526.2,147.7L526.3,147.5L526.4,147.2L526.5,147.0L526.6,146.7L526.7,146.5L526.8,146.2L526.9,145.9L527.0,145.7L527.0,145.4L527.1,145.1L527.2,144.9L527.3,144.6L527.4,144.3L527.5,144.0L527.6,143.8L527.7,143.5L527.8,143.2L527.9,142.9L528.0,142.6L528.1,142.4L528.2,142.1L528.3,141.8L528.4,141.5L528.5,141.2L528.6,140.9L528.7,140.7L528.8,140.4L528.9,140.1L529.0,139.8L529.1,139.6L529.2,139.3L529.3,139.0L529.4,138.7L529.5,138.5L529.6,138.2L529.7,137.9L529.8,137.7L529.9,137.4L530.0,137.1L530.1,136.9L530.2,136.6L530.2,136.4L530.3,136.1L530.4,135.9L530.5,135.6L530.6,135.4L530.7,135.1L530.8,134.9L530.9,134.6L531.0,134.4L531.1,134.1L531.2,133.9L531.3,133.7L531.4,133.4L532.1,131.7L532.9,130.1L533.6,128.5L534.3,127.1L535.0,125.7L535.8,124.3L536.5,123.1L537.2,121.9L538.0,120.7L538.7,119.6L539.4,118.6L540.1,117.6L540.9,116.6L541.6,115.7L542.3,114.8L543.1,113.9L543.8,113.0L544.5,112.2L545.2,111.4L546.0,110.7L546.7,109.9L547.4,109.2L548.1,108.5L548.9,107.8L549.6,107.1L550.3,106.5L551.1,105.8L551.8,105.2L552.5,104.6L553.2,104.0L554.0,103.4L554.7,102.8L555.4,102.3L556.1,101.7L556.9,101.2L557.6,100.6L558.3,100.1L559.1,99.6L559.8,99.1L560.5,98.6L561.2,98.1L562.0,97.6L562.7,97.2L563.4,96.7L564.1,96.2L564.9,95.8L565.6,95.4L566.3,94.9L567.1,94.5L567.8,94.1L568.5,93.7L569.2,93.2L570.0,92.8L570.7,92.4L571.4,92.0L572.2,91.7L572.9,91.3L573.6,90.9L574.3,90.5L575.1,90.1L575.8,89.8L576.5,89.4L577.2,89.1L578.0,88.7L578.7,88.4L579.4,88.0L580.2,87.7L580.9,87.3L581.6,87.0L582.3,86.7L583.1,86.4L583.8,86.0L584.5,85.7L585.2,85.4L586.0,85.1L586.7,84.8L587.4,84.5L588.2,84.2L588.9,83.9L589.6,83.6L590.3,83.3L591.1,83.0L591.8,82.7L592.5,82.5L593.2,82.2L594.0,81.9L594.7,81.6L595.4,81.4L596.2,81.1L596.9,80.9L597.6,80.6L598.3,80.3L599.1,80.1L599.8,79.8L600.5,79.6L601.3,79.4L602.0,79.1L602.7,78.9L603.4,78.6L604.2,78.4L604.9,78.2L605.6,78.0L606.3,77.7L607.1,77.5L607.8,77.3L608.5,77.1L609.3,76.9L610.0,76.7L610.7,76.4L611.4,76.2L612.2,76.0L612.9,75.8L613.6,75.6L614.3,75.4L615.1,75.3L615.8,75.1L616.5,74.9L617.3,74.7L618.0,74.5L618.7,74.3L619.4,74.1L620.2,74.0L620.9,73.8L621.6,73.6L622.3,73.5L623.1,73.3L623.8,73.1L624.5,73.0L625.3,72.8L626.0,72.6L626.7,72.5L627.4,72.3L628.2,72.2L628.9,72.0L629.6,71.9L630.4,71.7L631.1,71.6L631.8,71.4L632.5,71.3L633.3,71.2L634.0,71.0L634.7,70.9L635.4,70.8L636.2,70.6L636.9,70.5L637.6,70.4L638.4,70.2L639.1,70.1L639.8,70.0L640.5,69.9L641.3,69.7L642.0,69.6L642.7,69.5L643.4,69.4L644.2,69.3L644.9,69.2L645.6,69.0L646.4,68.9L647.1,68.8L647.8,68.7L648.5,68.6L649.3,68.5L650.0,68.4L650.7,68.3L651.4,68.2L652.2,68.1L652.9,68.0L653.6,67.9L654.4,67.8L655.1,67.7L655.8,67.6L656.5,67.5L657.3,67.4L658.0,67.3L658.7,67.2L659.5,67.1L660.2,67.0L660.9,66.9L661.6,66.8L662.4,66.7L663.1,66.6L663.8,66.5L664.5,66.4L665.3,66.3L666.0,66.2L666.7,66.1L667.5,66.0L668.2,65.9L668.9,65.8L669.6,65.7L670.4,65.6L671.1,65.5L671.8,65.4L672.5,65.3L673.3,65.2L674.0,65.1L674.7,65.0L675.5,64.9L676.2,64.7L676.9,64.6L677.6,64.5L678.4,64.4" fill="none" stroke="#ff7f0e" stroke-width="2.5" stroke-linejoin="round" stroke-linecap="square" clip-path="url(#cb)"/>
<path d="M430.8,35.8L431.5,36.2L432.2,36.6L433.0,36.9L433.7,37.3L434.4,37.7L435.1,38.0L435.9,38.4L436.6,38.8L437.3,39.2L438.0,39.5L438.8,39.9L439.5,40.3L440.2,40.7L441.0,41.1L441.7,41.4L442.4,41.8L443.1,42.2L443.9,42.6L444.6,43.0L445.3,43.4L446.1,43.7L446.8,44.1L447.5,44.5L448.2,44.9L449.0,45.3L449.7,45.7L450.4,46.0L451.1,46.4L451.9,46.8L452.6,47.2L453.3,47.6L454.1,48.0L454.8,48.3L455.5,48.7L456.2,49.1L457.0,49.5L457.7,49.9L458.4,50.2L459.1,50.6L459.9,51.0L460.6,51.4L461.3,51.7L462.1,52.1L462.8,52.5L463.5,52.9L464.2,53.2L465.0,53.6L465.7,54.0L466.4,54.4L467.1,54.7L467.9,55.1L468.6,55.5L469.3,55.8L470.1,56.2L470.8,56.6L471.5,56.9L472.2,57.3L473.0,57.6L473.7,58.0L474.4,58.4L475.2,58.7L475.9,59.1L476.6,59.5L477.3,59.8L478.1,60.2L478.8,60.5L479.5,60.9L480.2,61.3L481.0,61.6L481.7,62.0L482.4,62.3L483.2,62.7L483.9,63.1L484.6,63.4L485.3,63.8L486.1,64.1L486.8,64.5L487.5,64.9L488.2,65.2L489.0,65.6L489.7,65.9L490.4,66.3L491.2,66.7L491.9,67.0L492.6,67.4L493.3,67.8L494.1,68.1L494.8,68.5L495.5,68.9L496.2,69.2L497.0,69.6L497.7,70.0L498.4,70.4L499.2,70.7L499.9,71.1L500.6,71.5L501.3,71.9L502.1,72.3L502.8,72.7L503.5,73.1L504.3,73.5L505.0,73.8L505.7,74.2L506.4,74.6L507.2,75.1L507.9,75.5L508.6,75.9L509.3,76.3L510.1,76.7L510.8,77.1L511.5,77.5L512.3,78.0L513.0,78.4L513.7,78.8L514.4,79.3L515.2,79.7L515.9,80.2L516.6,80.6L517.3,81.1L518.1,81.5L518.8,82.0L519.5,82.5L520.3,83.0L521.0,83.4L521.7,83.9L522.4,84.4L523.2,84.9L523.9,85.4L524.6,86.0L525.3,86.5L526.1,87.0L526.8,87.5L527.5,88.1L528.3,88.6L529.0,89.2L529.7,89.7L530.4,90.3L531.2,90.9L531.9,91.5L532.6,92.1L533.4,92.7L534.1,93.3L534.8,93.9L535.5,94.6L536.3,95.2L537.0,95.9L537.7,96.6L538.4,97.2L539.2,97.9L539.9,98.7L540.6,99.4L541.4,100.1L542.1,100.9L542.8,101.7L543.5,102.5L544.3,103.3L545.0,104.2L545.7,105.0L546.4,105.9L547.2,106.8L547.9,107.8L548.6,108.7L549.4,109.7L550.1,110.8L550.8,111.9L551.5,113.0L552.3,114.1L553.0,115.3L553.7,116.6L554.4,117.9L555.2,119.3L555.9,120.8L556.6,122.3L557.4,124.0L558.1,125.7L558.8,127.5L559.5,129.5L560.3,131.7L560.3,131.7L560.4,132.0L560.5,132.3L560.6,132.6L560.7,132.9L560.8,133.2L560.9,133.5L560.9,133.9L561.0,134.2L561.1,134.5L561.2,134.9L561.3,135.2L561.4,135.5L561.5,135.9L561.6,136.2L561.7,136.6L561.8,136.9L561.9,137.3L562.0,137.7L562.1,138.0L562.2,138.4L562.3,138.8L562.4,139.2L562.5,139.6L562.6,140.0L562.7,140.4L562.8,140.8L562.9,141.2L563.0,141.6L563.1,142.0L563.2,142.5L563.3,142.9L563.4,143.4L563.5,143.8L563.6,144.3L563.7,144.7L563.8,145.2L563.9,145.7L564.0,146.2L564.1,146.6L564.1,147.1L564.2,147.6L564.3,148.2L564.4,148.7L564.5,149.2L564.6,149.7L564.7,150.2L564.8,150.8L564.9,151.3L565.0,151.9L565.1,152.4L565.2,153.0L565.3,153.5L565.4,154.1L565.5,154.7L565.6,155.2L565.7,155.8L565.8,156.3L565.9,156.9L566.0,157.4L566.1,158.0L566.2,158.5L566.3,159.0L566.4,159.5L566.5,160.0L566.6,160.4L566.7,160.8L566.8,161.2L566.9,161.6L567.0,161.9L567.1,162.2L567.2,162.4L567.3,162.6L567.4,162.7L567.4,162.8L567.5,162.8L567.6,162.8L567.7,162.7L567.8,162.6L567.9,162.4L568.0,162.2L568.1,161.9L568.2,161.6L568.3,161.2L568.4,160.9L568.5,160.4L568.6,160.0L568.7,159.5L568.8,159.0L568.9,158.5L569.0,158.0L569.1,157.5L569.2,157.0L569.3,156.4L569.4,155.9L569.5,155.3L569.6,154.8L569.7,154.2L569.8,153.7L569.9,153.1L570.0,152.6L570.1,152.0L570.2,151.5L570.3,151.0L570.4,150.4L570.5,149.9L570.6,149.4L570.6,148.9L570.7,148.4L570.8,147.9L570.9,147.4L571.0,146.9L571.1,146.4L571.2,146.0L571.3,145.5L571.4,145.1L571.5,144.6L571.6,144.2L571.7,143.7L571.8,143.3L571.9,142.9L572.0,142.4L572.1,142.0L572.2,141.6L572.3,141.2L572.4,140.8L572.5,140.4L572.6,140.0L572.7,139.7L572.8,139.3L572.9,138.9L573.0,138.5L573.1,138.2L573.2,137.8L573.3,137.5L573.4,137.1L573.5,136.8L573.6,136.5L573.7,136.1L573.8,135.8L573.8,135.5L573.9,135.1L574.0,134.8L574.1,134.5L574.2,134.2L574.3,133.9L574.4,133.6L574.5,133.3L574.6,133.0L574.7,132.7L574.8,132.4L575.5,130.3L576.3,128.4L577.0,126.7L577.7,125.0L578.5,123.4L579.2,122.0L579.9,120.6L580.6,119.3L581.4,118.0L582.1,116.8L582.8,115.7L583.5,114.6L584.3,113.5L585.0,112.5L585.7,111.6L586.5,110.6L587.2,109.7L587.9,108.8L588.6,108.0L589.4,107.1L590.1,106.3L590.8,105.5L591.6,104.8L592.3,104.0L593.0,103.3L593.7,102.6L594.5,101.9L595.2,101.2L595.9,100.6L596.6,99.9L597.4,99.3L598.1,98.7L598.8,98.0L599.6,97.4L600.3,96.8L601.0,96.3L601.7,95.7L602.5,95.1L603.2,94.6L603.9,94.0L604.6,93.5L605.4,93.0L606.1,92.5L606.8,92.0L607.6,91.5L608.3,91.0L609.0,90.5L609.7,90.0L610.5,89.5L611.2,89.1L611.9,88.6L612.6,88.2L613.4,87.7L614.1,87.3L614.8,86.9L615.6,86.4L616.3,86.0L617.0,85.6L617.7,85.2L618.5,84.8L619.2,84.4L619.9,84.1L620.7,83.7L621.4,83.3L622.1,82.9L622.8,82.6L623.6,82.2L624.3,81.9L625.0,81.6L625.7,81.2L626.5,80.9L627.2,80.6L627.9,80.3L628.7,79.9L629.4,79.6L630.1,79.3L630.8,79.0L631.6,78.8L632.3,78.5L633.0,78.2L633.7,77.9L634.5,77.7L635.2,77.4L635.9,77.2L636.7,76.9L637.4,76.7L638.1,76.4L638.8,76.2L639.6,76.0L640.3,75.8L641.0,75.6L641.7,75.4L642.5,75.1L643.2,75.0L643.9,74.8L644.7,74.6L645.4,74.4L646.1,74.2L646.8,74.0L647.6,73.9L648.3,73.7L649.0,73.5L649.8,73.4L650.5,73.2L651.2,73.1L651.9,72.9L652.7,72.8L653.4,72.7L654.1,72.5L654.8,72.4L655.6,72.3L656.3,72.1L657.0,72.0L657.8,71.9L658.5,71.8L659.2,71.6L659.9,71.5L660.7,71.4L661.4,71.3L662.1,71.1L662.8,71.0L663.6,70.9L664.3,70.8L665.0,70.6L665.8,70.5L666.5,70.3L667.2,70.2L667.9,70.0L668.7,69.9L669.4,69.7L670.1,69.5L670.8,69.4L671.6,69.2L672.3,69.0L673.0,68.7L673.8,68.5L674.5,68.3L675.2,68.0L675.9,67.8L676.7,67.5L677.4,67.2L678.1,66.9" fill="none" stroke="#2ca02c" stroke-width="2.5" stroke-linejoin="round" stroke-linecap="square" clip-path="url(#cb)"/>
<path d="M430.8,29.2L431.5,29.0L432.2,28.9L433.0,28.9L433.7,28.8L434.4,28.7L435.1,28.7L435.9,28.7L436.6,28.7L437.3,28.7L438.0,28.7L438.8,28.7L439.5,28.8L440.2,28.9L441.0,28.9L441.7,29.0L442.4,29.1L443.1,29.2L443.9,29.3L444.6,29.5L445.3,29.6L446.1,29.7L446.8,29.9L447.5,30.1L448.2,30.2L449.0,30.4L449.7,30.6L450.4,30.8L451.1,31.0L451.9,31.2L452.6,31.4L453.3,31.6L454.1,31.9L454.8,32.1L455.5,32.4L456.2,32.6L457.0,32.8L457.7,33.1L458.4,33.4L459.1,33.6L459.9,33.9L460.6,34.2L461.3,34.5L462.1,34.8L462.8,35.0L463.5,35.3L464.2,35.6L465.0,35.9L465.7,36.2L466.4,36.6L467.1,36.9L467.9,37.2L468.6,37.5L469.3,37.8L470.1,38.2L470.8,38.5L471.5,38.8L472.2,39.2L473.0,39.5L473.7,39.8L474.4,40.2L475.2,40.5L475.9,40.9L476.6,41.2L477.3,41.6L478.1,41.9L478.8,42.3L479.5,42.6L480.2,43.0L481.0,43.3L481.7,43.7L482.4,44.0L483.2,44.4L483.9,44.8L484.6,45.1L485.3,45.5L486.1,45.8L486.8,46.2L487.5,46.6L488.2,46.9L489.0,47.3L489.7,47.7L490.4,48.0L491.2,48.4L491.9,48.8L492.6,49.1L493.3,49.5L494.1,49.9L494.8,50.2L495.5,50.6L496.2,50.9L497.0,51.3L497.7,51.7L498.4,52.0L499.2,52.4L499.9,52.7L500.6,53.1L501.3,53.4L502.1,53.8L502.8,54.2L503.5,54.5L504.3,54.9L505.0,55.2L505.7,55.6L506.4,55.9L507.2,56.3L507.9,56.6L508.6,56.9L509.3,57.3L510.1,57.6L510.8,58.0L511.5,58.3L512.3,58.6L513.0,59.0L513.7,59.3L514.4,59.6L515.2,60.0L515.9,60.3L516.6,60.6L517.3,61.0L518.1,61.3L518.8,61.6L519.5,61.9L520.3,62.2L521.0,62.6L521.7,62.9L522.4,63.2L523.2,63.5L523.9,63.8L524.6,64.2L525.3,64.5L526.1,64.8L526.8,65.1L527.5,65.4L528.3,65.7L529.0,66.1L529.7,66.4L530.4,66.7L531.2,67.0L531.9,67.3L532.6,67.6L533.4,67.9L534.1,68.3L534.8,68.6L535.5,68.9L536.3,69.2L537.0,69.5L537.7,69.9L538.4,70.2L539.2,70.5L539.9,70.8L540.6,71.1L541.4,71.5L542.1,71.8L542.8,72.1L543.5,72.5L544.3,72.8L545.0,73.1L545.7,73.5L546.4,73.8L547.2,74.2L547.9,74.5L548.6,74.9L549.4,75.2L550.1,75.6L550.8,76.0L551.5,76.3L552.3,76.7L553.0,77.1L553.7,77.4L554.4,77.8L555.2,78.2L555.9,78.6L556.6,79.0L557.4,79.4L558.1,79.8L558.8,80.3L559.5,80.7L560.3,81.1L561.0,81.5L561.7,82.0L562.5,82.4L563.2,82.9L563.9,83.4L564.6,83.8L565.4,84.3L566.1,84.8L566.8,85.3L567.5,85.8L568.3,86.3L569.0,86.9L569.7,87.4L570.5,88.0L571.2,88.5L571.9,89.1L572.6,89.7L573.4,90.3L574.1,90.9L574.8,91.5L575.5,92.2L576.3,92.8L577.0,93.5L577.7,94.2L578.5,94.9L579.2,95.6L579.9,96.4L580.6,97.2L581.4,98.0L582.1,98.8L582.8,99.6L583.5,100.5L584.3,101.4L585.0,102.4L585.7,103.3L586.5,104.4L587.2,105.4L587.9,106.5L588.6,107.7L589.4,108.9L590.1,110.1L590.8,111.5L591.6,112.9L592.3,114.3L593.0,115.9L593.7,117.6L594.5,119.4L595.2,121.3L595.9,123.4L596.6,125.7L596.6,125.7L596.7,126.0L596.8,126.3L596.9,126.7L597.0,127.0L597.1,127.3L597.2,127.7L597.3,128.0L597.4,128.4L597.5,128.7L597.6,129.1L597.7,129.5L597.8,129.9L597.9,130.2L598.0,130.6L598.1,131.0L598.2,131.4L598.3,131.8L598.4,132.2L598.5,132.7L598.6,133.1L598.7,133.5L598.8,134.0L598.9,134.4L599.0,134.9L599.1,135.4L599.2,135.8L599.3,136.3L599.4,136.8L599.5,137.3L599.6,137.9L599.7,138.4L599.7,138.9L599.8,139.5L599.9,140.1L600.0,140.7L600.1,141.3L600.2,141.9L600.3,142.5L600.4,143.1L600.5,143.8L600.6,144.5L600.7,145.2L600.8,145.9L600.9,146.7L601.0,147.4L601.1,148.2L601.2,149.1L601.3,149.9L601.4,150.8L601.5,151.7L601.6,152.7L601.7,153.7L601.8,154.7L601.9,155.8L602.0,157.0L602.1,158.2L602.2,159.4L602.3,160.7L602.4,162.2L602.5,163.7L602.6,165.3L602.7,167.0L602.8,168.8L602.9,170.8L602.9,173.0L603.0,175.4L603.1,178.0L603.2,181.0L603.3,184.3L603.4,188.2L603.5,192.7L603.6,198.0L603.7,204.1L603.8,210.3L603.9,213.5L604.0,210.4L604.1,204.1L604.2,198.0L604.3,192.7L604.4,188.2L604.5,184.4L604.6,181.1L604.7,178.1L604.8,175.5L604.9,173.1L605.0,171.0L605.1,169.0L605.2,167.1L605.3,165.4L605.4,163.9L605.5,162.4L605.6,161.0L605.7,159.7L605.8,158.4L605.9,157.2L606.0,156.1L606.1,155.0L606.2,154.0L606.2,153.0L606.3,152.1L606.4,151.2L606.5,150.3L606.6,149.5L606.7,148.6L606.8,147.9L606.9,147.1L607.0,146.4L607.1,145.7L607.2,145.0L607.3,144.3L607.4,143.6L607.5,143.0L607.6,142.4L607.7,141.8L607.8,141.2L607.9,140.6L608.0,140.1L608.1,139.5L608.2,139.0L608.3,138.5L608.4,138.0L608.5,137.5L608.6,137.0L608.7,136.5L608.8,136.1L608.9,135.6L609.0,135.2L609.1,134.7L609.2,134.3L609.3,133.9L609.4,133.4L609.4,133.0L609.5,132.6L609.6,132.2L609.7,131.9L609.8,131.5L609.9,131.1L610.0,130.7L610.1,130.4L610.2,130.0L610.3,129.7L610.4,129.3L610.5,129.0L610.6,128.6L610.7,128.3L610.8,128.0L610.9,127.7L611.0,127.3L611.1,127.0L611.2,126.7L611.9,124.5L612.7,122.5L613.4,120.7L614.1,119.0L614.8,117.4L615.6,115.9L616.3,114.5L617.0,113.2L617.7,112.0L618.5,110.8L619.2,109.7L619.9,108.6L620.7,107.6L621.4,106.6L622.1,105.7L622.8,104.8L623.6,103.9L624.3,103.0L625.0,102.2L625.7,101.4L626.5,100.6L627.2,99.9L627.9,99.2L628.7,98.5L629.4,97.8L630.1,97.1L630.8,96.4L631.6,95.8L632.3,95.2L633.0,94.5L633.7,93.9L634.5,93.3L635.2,92.8L635.9,92.2L636.7,91.6L637.4,91.1L638.1,90.5L638.8,90.0L639.6,89.5L640.3,88.9L641.0,88.4L641.7,87.9L642.5,87.4L643.2,86.9L643.9,86.5L644.7,86.0L645.4,85.5L646.1,85.1L646.8,84.6L647.6,84.1L648.3,83.7L649.0,83.3L649.8,82.8L650.5,82.4L651.2,82.0L651.9,81.6L652.7,81.2L653.4,80.8L654.1,80.4L654.8,80.0L655.6,79.6L656.3,79.2L657.0,78.9L657.8,78.5L658.5,78.2L659.2,77.8L659.9,77.5L660.7,77.2L661.4,76.8L662.1,76.5L662.8,76.2L663.6,75.9L664.3,75.6L665.0,75.4L665.8,75.1L666.5,74.8L667.2,74.6L667.9,74.3L668.7,74.1L669.4,73.9L670.1,73.7L670.8,73.5L671.6,73.3L672.3,73.2L673.0,73.0L673.8,72.9L674.5,72.8L675.2,72.7L675.9,72.6L676.7,72.6L677.4,72.5L678.1,72.5" fill="none" stroke="#d62728" stroke-width="2.5" stroke-linejoin="round" stroke-linecap="square" clip-path="url(#cb)"/>
<path d="M430.8,34.9L431.5,34.8L432.2,34.7L433.0,34.6L433.7,34.5L434.4,34.4L435.1,34.2L435.9,34.0L436.6,33.8L437.3,33.6L438.0,33.4L438.8,33.2L439.5,32.9L440.2,32.7L441.0,32.5L441.7,32.2L442.4,32.0L443.1,31.8L443.9,31.5L444.6,31.3L445.3,31.1L446.1,30.9L446.8,30.6L447.5,30.4L448.2,30.2L449.0,30.0L449.7,29.8L450.4,29.7L451.1,29.5L451.9,29.3L452.6,29.2L453.3,29.0L454.1,28.9L454.8,28.7L455.5,28.6L456.2,28.5L457.0,28.4L457.7,28.3L458.4,28.2L459.1,28.1L459.9,28.0L460.6,27.9L461.3,27.9L462.1,27.8L462.8,27.8L463.5,27.8L464.2,27.7L465.0,27.7L465.7,27.7L466.4,27.7L467.1,27.7L467.9,27.7L468.6,27.8L469.3,27.8L470.1,27.8L470.8,27.9L471.5,27.9L472.2,28.0L473.0,28.1L473.7,28.1L474.4,28.2L475.2,28.3L475.9,28.4L476.6,28.5L477.3,28.6L478.1,28.7L478.8,28.9L479.5,29.0L480.2,29.1L481.0,29.3L481.7,29.4L482.4,29.6L483.2,29.7L483.9,29.9L484.6,30.1L485.3,30.2L486.1,30.4L486.8,30.6L487.5,30.8L488.2,31.0L489.0,31.2L489.7,31.4L490.4,31.6L491.2,31.8L491.9,32.1L492.6,32.3L493.3,32.5L494.1,32.8L494.8,33.0L495.5,33.2L496.2,33.5L497.0,33.7L497.7,34.0L498.4,34.2L499.2,34.5L499.9,34.8L500.6,35.0L501.3,35.3L502.1,35.6L502.8,35.9L503.5,36.1L504.3,36.4L505.0,36.7L505.7,37.0L506.4,37.3L507.2,37.6L507.9,37.9L508.6,38.2L509.3,38.5L510.1,38.8L510.8,39.1L511.5,39.4L512.3,39.7L513.0,40.0L513.7,40.3L514.4,40.6L515.2,40.9L515.9,41.2L516.6,41.5L517.3,41.8L518.1,42.1L518.8,42.4L519.5,42.7L520.3,43.1L521.0,43.4L521.7,43.7L522.4,44.0L523.2,44.3L523.9,44.6L524.6,44.9L525.3,45.2L526.1,45.5L526.8,45.8L527.5,46.2L528.3,46.5L529.0,46.8L529.7,47.1L530.4,47.4L531.2,47.7L531.9,48.0L532.6,48.3L533.4,48.6L534.1,48.9L534.8,49.2L535.5,49.5L536.3,49.8L537.0,50.1L537.7,50.4L538.4,50.7L539.2,51.0L539.9,51.3L540.6,51.5L541.4,51.8L542.1,52.1L542.8,52.4L543.5,52.7L544.3,53.0L545.0,53.3L545.7,53.6L546.4,53.8L547.2,54.1L547.9,54.4L548.6,54.7L549.4,55.0L550.1,55.3L550.8,55.5L551.5,55.8L552.3,56.1L553.0,56.4L553.7,56.7L554.4,57.0L555.2,57.2L555.9,57.5L556.6,57.8L557.4,58.1L558.1,58.4L558.8,58.7L559.5,59.0L560.3,59.3L561.0,59.6L561.7,59.9L562.5,60.1L563.2,60.4L563.9,60.7L564.6,61.1L565.4,61.4L566.1,61.7L566.8,62.0L567.5,62.3L568.3,62.6L569.0,62.9L569.7,63.3L570.5,63.6L571.2,63.9L571.9,64.2L572.6,64.6L573.4,64.9L574.1,65.3L574.8,65.6L575.5,66.0L576.3,66.3L577.0,66.7L577.7,67.1L578.5,67.5L579.2,67.8L579.9,68.2L580.6,68.6L581.4,69.0L582.1,69.4L582.8,69.8L583.5,70.3L584.3,70.7L585.0,71.1L585.7,71.6L586.5,72.0L587.2,72.5L587.9,72.9L588.6,73.4L589.4,73.9L590.1,74.3L590.8,74.8L591.6,75.3L592.3,75.9L593.0,76.4L593.7,76.9L594.5,77.4L595.2,78.0L595.9,78.5L596.6,79.1L597.4,79.7L598.1,80.3L598.8,80.9L599.6,81.5L600.3,82.1L601.0,82.7L601.7,83.4L602.5,84.0L603.2,84.7L603.9,85.4L604.6,86.1L605.4,86.8L606.1,87.5L606.8,88.2L607.6,89.0L608.3,89.7L609.0,90.5L609.7,91.3L610.5,92.1L611.2,92.9L611.9,93.8L612.6,94.6L613.4,95.5L614.1,96.4L614.8,97.4L615.6,98.3L616.3,99.3L617.0,100.3L617.7,101.3L618.5,102.4L619.2,103.5L619.9,104.6L620.7,105.8L621.4,107.0L622.1,108.2L622.8,109.5L623.6,110.9L624.3,112.3L625.0,113.8L625.7,115.3L626.5,117.0L627.2,118.7L627.9,120.5L628.7,122.5L629.4,124.6L629.6,125.4L629.7,125.7L629.8,126.0L629.9,126.3L630.0,126.6L630.1,126.9L630.2,127.2L630.3,127.5L630.4,127.9L630.5,128.2L630.6,128.5L630.7,128.9L630.8,129.2L630.9,129.6L631.0,129.9L631.1,130.3L631.2,130.6L631.3,131.0L631.4,131.4L631.5,131.7L631.6,132.1L631.7,132.5L631.8,132.9L631.9,133.3L632.0,133.7L632.0,134.1L632.1,134.5L632.2,134.9L632.3,135.3L632.4,135.7L632.5,136.2L632.6,136.6L632.7,137.1L632.8,137.5L632.9,138.0L633.0,138.4L633.1,138.9L633.2,139.4L633.3,139.9L633.4,140.4L633.5,140.9L633.6,141.4L633.7,141.9L633.8,142.4L633.9,142.9L634.0,143.4L634.1,144.0L634.2,144.5L634.3,145.1L634.4,145.6L634.5,146.2L634.6,146.8L634.7,147.3L634.8,147.9L634.9,148.5L635.0,149.0L635.1,149.6L635.2,150.2L635.3,150.7L635.3,151.3L635.4,151.9L635.5,152.4L635.6,152.9L635.7,153.4L635.8,153.9L635.9,154.4L636.0,154.8L636.1,155.2L636.2,155.6L636.3,155.9L636.4,156.2L636.5,156.4L636.6,156.6L636.7,156.8L636.8,156.9L636.9,156.9L637.0,156.9L637.1,156.8L637.2,156.6L637.3,156.4L637.4,156.2L637.5,155.9L637.6,155.6L637.7,155.2L637.8,154.8L637.9,154.4L638.0,153.9L638.1,153.4L638.2,152.9L638.3,152.4L638.4,151.8L638.5,151.3L638.5,150.7L638.6,150.1L638.7,149.6L638.8,149.0L638.9,148.4L639.0,147.8L639.1,147.3L639.2,146.7L639.3,146.1L639.4,145.6L639.5,145.0L639.6,144.4L639.7,143.9L639.8,143.3L639.9,142.8L640.0,142.3L640.1,141.8L640.2,141.2L640.3,140.7L640.4,140.2L640.5,139.7L640.6,139.2L640.7,138.8L640.8,138.3L640.9,137.8L641.0,137.3L641.1,136.9L641.2,136.4L641.3,136.0L641.4,135.6L641.5,135.1L641.6,134.7L641.7,134.3L641.7,133.9L641.8,133.4L641.9,133.0L642.0,132.6L642.1,132.2L642.2,131.9L642.3,131.5L642.4,131.1L642.5,130.7L642.6,130.4L642.7,130.0L642.8,129.6L642.9,129.3L643.0,128.9L643.1,128.6L643.2,128.2L643.3,127.9L643.4,127.6L643.5,127.2L643.6,126.9L643.7,126.6L643.8,126.2L643.9,125.9L644.0,125.6L644.1,125.3L644.2,125.0L644.9,122.8L645.6,120.7L646.4,118.8L647.1,117.0L647.8,115.3L648.5,113.7L649.3,112.1L650.0,110.6L650.7,109.2L651.4,107.8L652.2,106.5L652.9,105.3L653.6,104.1L654.4,102.9L655.1,101.7L655.8,100.6L656.5,99.6L657.3,98.5L658.0,97.5L658.7,96.5L659.5,95.6L660.2,94.7L660.9,93.8L661.6,92.9L662.4,92.1L663.1,91.3L663.8,90.5L664.5,89.7L665.3,89.0L666.0,88.3L666.7,87.6L667.5,87.0L668.2,86.3L668.9,85.8L669.6,85.2L670.4,84.7L671.1,84.2L671.8,83.7L672.5,83.3L673.3,82.9L674.0,82.6L674.7,82.3L675.5,82.1L676.2,81.9L676.9,81.7L677.6,81.6L678.4,81.6" fill="none" stroke="#9467bd" stroke-width="2.5" stroke-linejoin="round" stroke-linecap="square" clip-path="url(#cb)"/>
<path d="M430.8,39.4L431.5,39.5L432.2,39.6L433.0,39.7L433.7,39.7L434.4,39.7L435.1,39.7L435.9,39.7L436.6,39.7L437.3,39.7L438.0,39.6L438.8,39.6L439.5,39.5L440.2,39.4L441.0,39.3L441.7,39.2L442.4,39.0L443.1,38.9L443.9,38.7L444.6,38.6L445.3,38.4L446.1,38.3L446.8,38.1L447.5,37.9L448.2,37.7L449.0,37.5L449.7,37.3L450.4,37.1L451.1,36.9L451.9,36.7L452.6,36.5L453.3,36.3L454.1,36.1L454.8,35.9L455.5,35.7L456.2,35.5L457.0,35.3L457.7,35.1L458.4,34.9L459.1,34.7L459.9,34.4L460.6,34.2L461.3,34.0L462.1,33.9L462.8,33.7L463.5,33.5L464.2,33.3L465.0,33.1L465.7,32.9L466.4,32.7L467.1,32.5L467.9,32.4L468.6,32.2L469.3,32.0L470.1,31.9L470.8,31.7L471.5,31.5L472.2,31.4L473.0,31.2L473.7,31.1L474.4,31.0L475.2,30.8L475.9,30.7L476.6,30.6L477.3,30.4L478.1,30.3L478.8,30.2L479.5,30.1L480.2,30.0L481.0,29.9L481.7,29.8L482.4,29.7L483.2,29.6L483.9,29.5L484.6,29.4L485.3,29.3L486.1,29.3L486.8,29.2L487.5,29.1L488.2,29.1L489.0,29.0L489.7,29.0L490.4,28.9L491.2,28.9L491.9,28.8L492.6,28.8L493.3,28.8L494.1,28.7L494.8,28.7L495.5,28.7L496.2,28.7L497.0,28.7L497.7,28.7L498.4,28.7L499.2,28.7L499.9,28.7L500.6,28.7L501.3,28.7L502.1,28.7L502.8,28.7L503.5,28.7L504.3,28.8L505.0,28.8L505.7,28.8L506.4,28.9L507.2,28.9L507.9,29.0L508.6,29.0L509.3,29.1L510.1,29.1L510.8,29.2L511.5,29.3L512.3,29.3L513.0,29.4L513.7,29.5L514.4,29.6L515.2,29.6L515.9,29.7L516.6,29.8L517.3,29.9L518.1,30.0L518.8,30.1L519.5,30.2L520.3,30.3L521.0,30.5L521.7,30.6L522.4,30.7L523.2,30.8L523.9,30.9L524.6,31.1L525.3,31.2L526.1,31.3L526.8,31.5L527.5,31.6L528.3,31.8L529.0,31.9L529.7,32.1L530.4,32.2L531.2,32.4L531.9,32.6L532.6,32.7L533.4,32.9L534.1,33.1L534.8,33.3L535.5,33.4L536.3,33.6L537.0,33.8L537.7,34.0L538.4,34.2L539.2,34.4L539.9,34.6L540.6,34.8L541.4,35.0L542.1,35.2L542.8,35.4L543.5,35.7L544.3,35.9L545.0,36.1L545.7,36.3L546.4,36.6L547.2,36.8L547.9,37.0L548.6,37.3L549.4,37.5L550.1,37.7L550.8,38.0L551.5,38.2L552.3,38.5L553.0,38.8L553.7,39.0L554.4,39.3L555.2,39.5L555.9,39.8L556.6,40.1L557.4,40.4L558.1,40.6L558.8,40.9L559.5,41.2L560.3,41.5L561.0,41.8L561.7,42.1L562.5,42.4L563.2,42.7L563.9,43.0L564.6,43.3L565.4,43.6L566.1,43.9L566.8,44.2L567.5,44.5L568.3,44.8L569.0,45.1L569.7,45.5L570.5,45.8L571.2,46.1L571.9,46.4L572.6,46.8L573.4,47.1L574.1,47.4L574.8,47.8L575.5,48.1L576.3,48.4L577.0,48.8L577.7,49.1L578.5,49.5L579.2,49.8L579.9,50.2L580.6,50.6L581.4,50.9L582.1,51.3L582.8,51.6L583.5,52.0L584.3,52.4L585.0,52.7L585.7,53.1L586.5,53.5L587.2,53.8L587.9,54.2L588.6,54.6L589.4,55.0L590.1,55.4L590.8,55.7L591.6,56.1L592.3,56.5L593.0,56.9L593.7,57.3L594.5,57.7L595.2,58.1L595.9,58.5L596.6,58.9L597.4,59.3L598.1,59.7L598.8,60.1L599.6,60.5L600.3,60.9L601.0,61.3L601.7,61.7L602.5,62.1L603.2,62.5L603.9,62.9L604.6,63.3L605.4,63.7L606.1,64.2L606.8,64.6L607.6,65.0L608.3,65.4L609.0,65.8L609.7,66.3L610.5,66.7L611.2,67.1L611.9,67.5L612.6,68.0L613.4,68.4L614.1,68.8L614.8,69.3L615.6,69.7L616.3,70.2L617.0,70.6L617.7,71.0L618.5,71.5L619.2,71.9L619.9,72.4L620.7,72.9L621.4,73.3L622.1,73.8L622.8,74.3L623.6,74.7L624.3,75.2L625.0,75.7L625.7,76.2L626.5,76.7L627.2,77.2L627.9,77.7L628.7,78.2L629.4,78.7L630.1,79.2L630.8,79.8L631.6,80.3L632.3,80.9L633.0,81.4L633.7,82.0L634.5,82.6L635.2,83.1L635.9,83.7L636.7,84.4L637.4,85.0L638.1,85.6L638.8,86.3L639.6,86.9L640.3,87.6L641.0,88.3L641.7,89.1L642.5,89.8L643.2,90.6L643.9,91.4L644.7,92.2L645.4,93.0L646.1,93.9L646.8,94.8L647.6,95.7L648.3,96.7L649.0,97.7L649.8,98.8L650.5,99.9L651.2,101.1L651.9,102.3L652.7,103.6L653.4,104.9L654.1,106.4L654.8,107.9L655.6,109.5L656.3,111.2L657.0,113.0L657.8,115.0L657.9,115.3L657.9,115.5L658.0,115.8L658.1,116.1L658.2,116.4L658.3,116.7L658.4,116.9L658.5,117.2L658.6,117.5L658.7,117.8L658.8,118.1L658.9,118.4L659.0,118.7L659.1,119.0L659.2,119.4L659.3,119.7L659.4,120.0L659.5,120.3L659.6,120.6L659.7,121.0L659.8,121.3L659.9,121.6L660.0,122.0L660.1,122.3L660.2,122.6L660.3,123.0L660.4,123.3L660.5,123.7L660.6,124.0L660.7,124.4L660.8,124.7L660.9,125.1L661.0,125.5L661.1,125.8L661.1,126.2L661.2,126.6L661.3,127.0L661.4,127.3L661.5,127.7L661.6,128.1L661.7,128.5L661.8,128.8L661.9,129.2L662.0,129.6L662.1,130.0L662.2,130.4L662.3,130.8L662.4,131.1L662.5,131.5L662.6,131.9L662.7,132.2L662.8,132.6L662.9,133.0L663.0,133.3L663.1,133.7L663.2,134.0L663.3,134.4L663.4,134.7L663.5,135.0L663.6,135.3L663.7,135.6L663.8,135.9L663.9,136.1L664.0,136.4L664.1,136.6L664.2,136.8L664.3,137.0L664.4,137.2L664.4,137.3L664.5,137.5L664.6,137.6L664.7,137.6L664.8,137.7L664.9,137.7L665.0,137.7L665.1,137.7L665.2,137.7L665.3,137.6L665.4,137.6L665.5,137.5L665.6,137.3L665.7,137.2L665.8,137.0L665.9,136.8L666.0,136.6L666.1,136.4L666.2,136.2L666.3,135.9L666.4,135.6L666.5,135.4L666.6,135.1L666.7,134.8L666.8,134.4L666.9,134.1L667.0,133.8L667.1,133.5L667.2,133.1L667.3,132.8L667.4,132.4L667.5,132.1L667.6,131.7L667.6,131.3L667.7,131.0L667.8,130.6L667.9,130.3L668.0,129.9L668.1,129.5L668.2,129.2L668.3,128.8L668.4,128.5L668.5,128.1L668.6,127.7L668.7,127.4L668.8,127.0L668.9,126.7L669.0,126.3L669.1,126.0L669.2,125.6L669.3,125.3L669.4,125.0L669.5,124.6L669.6,124.3L669.7,124.0L669.8,123.7L669.9,123.3L670.0,123.0L670.1,122.7L670.2,122.4L670.3,122.1L670.4,121.8L670.5,121.5L670.6,121.2L670.7,120.9L670.8,120.6L670.8,120.3L670.9,120.0L671.0,119.7L671.1,119.4L671.2,119.2L671.3,118.9L671.4,118.6L671.5,118.3L671.6,118.1L671.7,117.8L671.8,117.5L671.9,117.3L672.0,117.0L672.1,116.8L672.2,116.5L672.3,116.3L673.0,114.5L673.8,112.9L674.5,111.4L675.2,110.0L675.9,108.7L676.7,107.5L677.4,106.4L678.1,105.3" fill="none" stroke="#8c564b" stroke-width="2.5" stroke-linejoin="round" stroke-linecap="square" clip-path="url(#cb)"/>
<path d="M430.8,138.6L433.7,138.8L449.2,140.7L477.3,143.9L506.9,147.7L524.4,150.4L536.0,153.1L549.1,157.4L555.4,159.3L567.5,164.4L580.2,173.3L587.4,179.0L592.8,185.7L599.6,200.3L603.9,214.6L608.3,195.4L612.7,189.8L616.5,183.8L624.3,171.4L629.6,165.0L635.9,158.0L641.8,153.4L649.5,148.5L656.8,143.9L664.5,138.8L669.4,136.7L675.2,134.0L678.1,133.2" fill="none" stroke="#000" stroke-width="2.5" stroke-linejoin="round" stroke-linecap="square" clip-path="url(#cb)"/>
<rect x="433.20" y="25.50" width="242.50" height="218.90" fill="none" stroke="#000" stroke-width="1.1" stroke-linejoin="miter"/>
<line x1="433.20" y1="244.40" x2="433.20" y2="249.40" stroke="#000" stroke-width="1.1" />
<text x="423.32" y="262.80" font-size="10.76" textLength="19.75" lengthAdjust="spacingAndGlyphs">770</text>
<line x1="481.70" y1="244.40" x2="481.70" y2="249.40" stroke="#000" stroke-width="1.1" />
<text x="471.82" y="262.80" font-size="10.76" textLength="19.75" lengthAdjust="spacingAndGlyphs">780</text>
<line x1="530.20" y1="244.40" x2="530.20" y2="249.40" stroke="#000" stroke-width="1.1" />
<text x="520.32" y="262.80" font-size="10.76" textLength="19.75" lengthAdjust="spacingAndGlyphs">790</text>
<line x1="578.70" y1="244.40" x2="578.70" y2="249.40" stroke="#000" stroke-width="1.1" />
<text x="568.82" y="262.80" font-size="10.76" textLength="19.75" lengthAdjust="spacingAndGlyphs">800</text>
<line x1="627.20" y1="244.40" x2="627.20" y2="249.40" stroke="#000" stroke-width="1.1" />
<text x="617.32" y="262.80" font-size="10.76" textLength="19.75" lengthAdjust="spacingAndGlyphs">810</text>
<line x1="675.70" y1="244.40" x2="675.70" y2="249.40" stroke="#000" stroke-width="1.1" />
<text x="665.82" y="262.80" font-size="10.76" textLength="19.75" lengthAdjust="spacingAndGlyphs">820</text>
<line x1="428.20" y1="28.60" x2="433.20" y2="28.60" stroke="#000" stroke-width="1.1" />
<text x="416.02" y="32.90" font-size="10.76" textLength="6.58" lengthAdjust="spacingAndGlyphs">0</text>
<line x1="428.20" y1="55.55" x2="433.20" y2="55.55" stroke="#000" stroke-width="1.1" />
<rect x="401.85" y="56.18" width="6.48" height="0.86" fill="#000"/>
<text x="409.43" y="59.85" font-size="10.76" textLength="13.17" lengthAdjust="spacingAndGlyphs">10</text>
<line x1="428.20" y1="82.50" x2="433.20" y2="82.50" stroke="#000" stroke-width="1.1" />
<rect x="401.85" y="83.13" width="6.48" height="0.86" fill="#000"/>
<text x="409.43" y="86.80" font-size="10.76" textLength="13.17" lengthAdjust="spacingAndGlyphs">20</text>
<line x1="428.20" y1="109.45" x2="433.20" y2="109.45" stroke="#000" stroke-width="1.1" />
<rect x="401.85" y="110.08" width="6.48" height="0.86" fill="#000"/>
<text x="409.43" y="113.75" font-size="10.76" textLength="13.17" lengthAdjust="spacingAndGlyphs">30</text>
<line x1="428.20" y1="136.40" x2="433.20" y2="136.40" stroke="#000" stroke-width="1.1" />
<rect x="401.85" y="137.03" width="6.48" height="0.86" fill="#000"/>
<text x="409.43" y="140.70" font-size="10.76" textLength="13.17" lengthAdjust="spacingAndGlyphs">40</text>
<line x1="428.20" y1="163.35" x2="433.20" y2="163.35" stroke="#000" stroke-width="1.1" />
<rect x="401.85" y="163.98" width="6.48" height="0.86" fill="#000"/>
<text x="409.43" y="167.65" font-size="10.76" textLength="13.17" lengthAdjust="spacingAndGlyphs">50</text>
<line x1="428.20" y1="190.30" x2="433.20" y2="190.30" stroke="#000" stroke-width="1.1" />
<rect x="401.85" y="190.93" width="6.48" height="0.86" fill="#000"/>
<text x="409.43" y="194.60" font-size="10.76" textLength="13.17" lengthAdjust="spacingAndGlyphs">60</text>
<line x1="428.20" y1="217.25" x2="433.20" y2="217.25" stroke="#000" stroke-width="1.1" />
<rect x="401.85" y="217.88" width="6.48" height="0.86" fill="#000"/>
<text x="409.43" y="221.55" font-size="10.76" textLength="13.17" lengthAdjust="spacingAndGlyphs">70</text>
<line x1="428.20" y1="244.20" x2="433.20" y2="244.20" stroke="#000" stroke-width="1.1" />
<rect x="401.85" y="244.83" width="6.48" height="0.86" fill="#000"/>
<text x="409.43" y="248.50" font-size="10.76" textLength="13.17" lengthAdjust="spacingAndGlyphs">80</text>
<text x="535.16" y="279.10" font-size="12.17" textLength="38.58" lengthAdjust="spacingAndGlyphs">λ (nm)</text>
<text transform="translate(390.90,134.95) rotate(-90)" x="-18.22" y="0" font-size="12.17" textLength="36.43" lengthAdjust="spacingAndGlyphs">R (dB)</text>
<text x="399.40" y="7.90" font-size="11.56" textLength="7.16" lengthAdjust="spacingAndGlyphs" font-weight="bold">b</text>
<rect x="438.90" y="184.80" width="138.30" height="53.60" rx="2.2" ry="2.2" fill="#fff" stroke="#cccccc" stroke-width="1.1"/>
<text x="490.09" y="195.90" font-size="10.87" textLength="35.43" lengthAdjust="spacingAndGlyphs">Λ (nm)</text>
<line x1="442.60" y1="209.60" x2="456.00" y2="209.60" stroke="#1f77b4" stroke-width="2.5" stroke-linecap="butt"/>
<text x="457.80" y="213.65" font-size="12.17" textLength="22.33" lengthAdjust="spacingAndGlyphs">477</text>
<line x1="488.70" y1="209.60" x2="502.10" y2="209.60" stroke="#2ca02c" stroke-width="2.5" stroke-linecap="butt"/>
<text x="503.50" y="213.65" font-size="12.17" textLength="22.33" lengthAdjust="spacingAndGlyphs">487</text>
<line x1="534.60" y1="209.60" x2="548.00" y2="209.60" stroke="#9467bd" stroke-width="2.5" stroke-linecap="butt"/>
<text x="549.80" y="213.65" font-size="12.17" textLength="22.33" lengthAdjust="spacingAndGlyphs">497</text>
<line x1="442.60" y1="227.00" x2="456.00" y2="227.00" stroke="#ff7f0e" stroke-width="2.5" stroke-linecap="butt"/>
<text x="457.80" y="231.05" font-size="12.17" textLength="22.33" lengthAdjust="spacingAndGlyphs">482</text>
<line x1="488.70" y1="227.00" x2="502.10" y2="227.00" stroke="#d62728" stroke-width="2.5" stroke-linecap="butt"/>
<text x="503.50" y="231.05" font-size="12.17" textLength="22.33" lengthAdjust="spacingAndGlyphs">492</text>
<line x1="534.60" y1="227.00" x2="548.00" y2="227.00" stroke="#8c564b" stroke-width="2.5" stroke-linecap="butt"/>
<text x="549.80" y="231.05" font-size="12.17" textLength="22.33" lengthAdjust="spacingAndGlyphs">502</text>
</g>
<g>
<circle cx="175.60" cy="458.60" r="3.4" fill="#1f77b4" clip-path="url(#cc)"/>
<circle cx="234.40" cy="421.40" r="3.4" fill="#1f77b4" clip-path="url(#cc)"/>
<line x1="59.20" y1="317.50" x2="59.20" y2="536.40" stroke="#b0b0b0" stroke-width="1.1" />
<line x1="93.90" y1="317.50" x2="93.90" y2="536.40" stroke="#b0b0b0" stroke-width="1.1" />
<line x1="128.60" y1="317.50" x2="128.60" y2="536.40" stroke="#b0b0b0" stroke-width="1.1" />
<line x1="163.30" y1="317.50" x2="163.30" y2="536.40" stroke="#b0b0b0" stroke-width="1.1" />
<line x1="198.00" y1="317.50" x2="198.00" y2="536.40" stroke="#b0b0b0" stroke-width="1.1" />
<line x1="232.70" y1="317.50" x2="232.70" y2="536.40" stroke="#b0b0b0" stroke-width="1.1" />
<line x1="267.40" y1="317.50" x2="267.40" y2="536.40" stroke="#b0b0b0" stroke-width="1.1" />
<line x1="302.10" y1="317.50" x2="302.10" y2="536.40" stroke="#b0b0b0" stroke-width="1.1" />
<line x1="59.20" y1="317.50" x2="302.10" y2="317.50" stroke="#b0b0b0" stroke-width="1.1" />
<line x1="59.20" y1="353.98" x2="302.10" y2="353.98" stroke="#b0b0b0" stroke-width="1.1" />
<line x1="59.20" y1="390.47" x2="302.10" y2="390.47" stroke="#b0b0b0" stroke-width="1.1" />
<line x1="59.20" y1="426.95" x2="302.10" y2="426.95" stroke="#b0b0b0" stroke-width="1.1" />
<line x1="59.20" y1="463.43" x2="302.10" y2="463.43" stroke="#b0b0b0" stroke-width="1.1" />
<line x1="59.20" y1="499.92" x2="302.10" y2="499.92" stroke="#b0b0b0" stroke-width="1.1" />
<line x1="59.20" y1="536.40" x2="302.10" y2="536.40" stroke="#b0b0b0" stroke-width="1.1" />
<path d="M59.3,280.0L59.3,280.4L59.3,280.8L59.3,281.2L59.3,281.6L59.3,282.0L59.3,282.4L59.3,282.8L59.3,283.2L59.3,283.6L59.3,284.0L59.3,284.4L59.4,284.8L59.4,285.2L59.4,285.6L59.4,286.0L59.4,286.4L59.4,286.8L59.4,287.2L59.4,287.6L59.4,288.0L59.4,288.4L59.4,288.8L59.4,289.2L59.4,289.6L59.4,290.0L59.4,290.4L59.4,290.8L59.4,291.2L59.4,291.6L59.4,292.0L59.4,292.4L59.4,292.8L59.5,293.2L59.5,293.6L59.5,294.0L59.5,294.4L59.5,294.8L59.5,295.2L59.5,295.6L59.5,296.0L59.5,296.4L59.5,296.8L59.5,297.2L59.5,297.6L59.5,298.0L59.5,298.4L59.5,298.8L59.5,299.2L59.5,299.6L59.5,300.0L59.5,300.4L59.6,300.8L59.6,301.2L59.6,301.6L59.6,302.0L59.6,302.4L59.6,302.8L59.6,303.2L59.6,303.6L59.6,304.0L59.6,304.4L59.6,304.8L59.6,305.2L59.6,305.6L59.6,306.0L59.6,306.4L59.6,306.8L59.6,307.2L59.6,307.6L59.7,308.0L59.7,308.4L59.7,308.8L59.7,309.2L59.7,309.6L59.7,310.0L59.7,310.4L59.7,310.8L59.7,311.2L59.7,311.6L59.7,312.0L59.7,312.4L59.7,312.8L59.7,313.2L59.7,313.6L59.7,314.0L59.7,314.4L59.8,314.8L59.8,315.2L59.8,315.6L59.8,316.0L59.8,316.4L59.8,316.8L59.8,317.2L59.8,317.6L59.8,318.0L59.8,318.4L59.8,318.8L59.8,319.2L59.8,319.6L59.8,320.0L59.8,320.4L59.8,320.8L59.9,321.2L59.9,321.6L59.9,322.0L59.9,322.4L59.9,322.8L59.9,323.2L59.9,323.6L59.9,324.0L59.9,324.4L59.9,324.8L59.9,325.1L59.9,325.5L59.9,325.9L59.9,326.3L59.9,326.7L60.0,327.1L60.0,327.5L60.0,327.9L60.0,328.3L60.0,328.7L60.0,329.1L60.0,329.5L60.0,329.9L60.0,330.3L60.0,330.7L60.0,331.1L60.0,331.5L60.0,331.9L60.0,332.3L60.1,332.7L60.1,333.1L60.1,333.5L60.1,333.9L60.1,334.3L60.1,334.7L60.1,335.1L60.1,335.5L60.1,335.9L60.1,336.3L60.1,336.7L60.1,337.1L60.1,337.5L60.2,337.9L60.2,338.3L60.2,338.7L60.2,339.1L60.2,339.5L60.2,339.9L60.2,340.3L60.2,340.7L60.2,341.1L60.2,341.5L60.2,341.9L60.2,342.3L60.2,342.7L60.3,343.1L60.3,343.5L60.3,343.9L60.3,344.3L60.3,344.7L60.3,345.1L60.3,345.5L60.3,345.9L60.3,346.3L60.3,346.7L60.3,347.1L60.3,347.5L60.3,347.9L60.4,348.3L60.4,348.7L60.4,349.1L60.4,349.5L60.4,349.9L60.4,350.3L60.4,350.7L60.4,351.1L60.4,351.5L60.4,351.9L60.4,352.3L60.4,352.7L60.5,353.1L60.5,353.5L60.5,353.9L60.5,354.3L60.5,354.7L60.5,355.1L60.5,355.5L60.5,355.9L60.5,356.3L60.5,356.7L60.5,357.1L60.5,357.5L60.6,357.9L60.6,358.3L60.6,358.7L60.6,359.1L60.6,359.5L60.6,359.9L60.6,360.3L60.6,360.7L60.6,361.1L60.6,361.5L60.6,361.9L60.6,362.3L60.7,362.7L60.7,363.1L60.7,363.5L60.7,363.9L60.7,364.3L60.7,364.7L60.7,365.1L60.7,365.5L60.7,365.9L60.7,366.3L60.7,366.7L60.7,367.1L60.8,367.5L60.8,367.9L60.8,368.3L60.8,368.7L60.8,369.1L60.8,369.5L60.8,369.9L60.8,370.3L60.8,370.7L60.8,371.1L60.8,371.5L60.8,371.9L60.9,372.3L60.9,372.7L60.9,373.1L60.9,373.5L60.9,373.9L60.9,374.3L60.9,374.7L60.9,375.1L60.9,375.5L60.9,375.9L60.9,376.3L60.9,376.7L61.0,377.1L61.0,377.5L61.0,377.9L61.0,378.3L61.0,378.7L61.0,379.1L61.0,379.5L61.0,379.9L61.0,380.3L61.0,380.7L61.0,381.1L61.1,381.5L61.1,381.9L61.1,382.3L61.1,382.7L61.1,383.1L61.1,383.5L61.1,383.9L61.1,384.3L61.1,384.7L61.1,385.1L61.1,385.5L61.2,385.9L61.2,386.3L61.2,386.7L61.2,387.1L61.2,387.5L61.2,387.9L61.2,388.3L61.2,388.7L61.2,389.1L61.2,389.5L61.3,389.9L61.3,390.3L61.3,390.7L61.3,391.1L61.3,391.5L61.3,391.9L61.3,392.3L61.3,392.7L61.3,393.1L61.3,393.5L61.4,393.9L61.4,394.3L61.4,394.7L61.4,395.1L61.4,395.5L61.4,395.9L61.4,396.3L61.4,396.7L61.4,397.1L61.5,397.5L61.5,397.9L61.5,398.3L61.5,398.7L61.5,399.1L61.5,399.5L61.5,399.9L61.5,400.3L61.6,400.7L61.6,401.1L61.6,401.5L61.6,401.9L61.6,402.3L61.6,402.7L61.6,403.1L61.6,403.5L61.7,403.9L61.7,404.2L61.7,404.6L61.7,405.0L61.7,405.4L61.7,405.8L61.7,406.2L61.8,406.6L61.8,407.0L61.8,407.4L61.8,407.8L61.8,408.2L61.8,408.6L61.9,409.0L61.9,409.4L61.9,409.8L61.9,410.2L61.9,410.6L61.9,411.0L62.0,411.4L62.0,411.8L62.0,412.2L62.0,412.6L62.0,413.0L62.1,413.4L62.1,413.8L62.1,414.2L62.1,414.6L62.1,415.0L62.2,415.4L62.2,415.8L62.2,416.2L62.2,416.6L62.2,417.0L62.3,417.4L62.3,417.8L62.3,418.2L62.3,418.6L62.4,419.0L62.4,419.4L62.4,419.8L62.4,420.2L62.4,420.6L62.5,421.0L62.5,421.4L62.5,421.8L62.5,422.2L62.6,422.6L62.6,423.0L62.6,423.4L62.6,423.8L62.7,424.2L62.7,424.6L62.7,425.0L62.7,425.4L62.8,425.8L62.8,426.2L62.8,426.6L62.8,427.0L62.9,427.4L62.9,427.8L62.9,428.2L62.9,428.6L63.0,429.0L63.0,429.4L63.0,429.8L63.1,430.2L63.1,430.6L63.1,431.0L63.1,431.4L63.2,431.8L63.2,432.2L63.2,432.6L63.3,433.0L63.3,433.4L63.3,433.8L63.4,434.2L63.4,434.6L63.4,435.0L63.5,435.4L63.5,435.8L63.5,436.2L63.6,436.6L63.6,437.0L63.6,437.4L63.7,437.8L63.7,438.1L63.7,438.5L63.8,438.9L63.8,439.3L63.9,439.7L63.9,440.1L63.9,440.5L64.0,440.9L64.0,441.3L64.0,441.7L64.1,442.1L64.1,442.5L64.1,442.9L64.2,443.3L64.2,443.7L64.2,444.1L64.3,444.5L64.3,444.9L64.3,445.3L64.4,445.7L64.4,446.1L64.4,446.5L64.5,446.9L64.5,447.3L64.5,447.7L64.6,448.1L64.6,448.5L64.6,448.9L64.7,449.3L64.7,449.7L64.7,450.1L64.8,450.5L64.8,450.9L64.8,451.3L64.8,451.7L64.9,452.1L64.9,452.5L64.9,452.9L65.0,453.3L65.0,453.7L65.0,454.1L65.0,454.5L65.1,454.9L65.1,455.3L65.1,455.7L65.2,456.1L65.2,456.5L65.2,456.9L65.2,457.3L65.3,457.7L65.3,458.1L65.3,458.5L65.3,458.9L65.4,459.3L65.4,459.7L65.4,460.1L65.5,460.5L65.5,460.9L65.5,461.3L65.5,461.7L65.6,462.1L65.6,462.5L65.6,462.9L65.7,463.2L65.7,463.6L65.7,464.0L65.7,464.4L65.8,464.8L65.8,465.2L65.8,465.6L65.9,466.0L65.9,466.4L65.9,466.8L65.9,467.2L66.0,467.6L66.0,468.0L66.0,468.4L66.1,468.8L66.1,469.2L66.1,469.6L66.2,470.0L66.2,470.4L66.2,470.8L66.2,471.2L66.3,471.6L66.3,472.0L66.3,472.4L66.4,472.8L66.4,473.2L66.4,473.6L66.4,474.0L66.5,474.4L66.5,474.8L66.5,475.2L66.6,475.6L66.6,476.0L66.6,476.4L66.7,476.8L66.7,477.2L66.7,477.6L66.8,478.0L66.8,478.4L66.8,478.8L66.8,479.2L66.9,479.6L66.9,480.0L66.9,480.4L67.0,480.8L67.0,481.2L67.0,481.6L67.1,482.0L67.1,482.4L67.1,482.8L67.2,483.2L67.2,483.6L67.2,484.0L67.3,484.4L67.3,484.8L67.3,485.2L67.4,485.6L67.4,486.0L67.5,486.4L67.5,486.8L67.5,487.2L67.6,487.5L67.6,487.9L67.7,488.3L67.7,488.7L67.7,489.1L67.8,489.5L67.8,489.9L67.9,490.3L67.9,490.7L67.9,491.1L68.0,491.5L68.0,491.9L68.1,492.3L68.1,492.7L68.2,493.1L68.2,493.5L68.3,493.9L68.3,494.3L68.4,494.7L68.4,495.1L68.5,495.5L68.5,495.9L68.6,496.3L68.6,496.7L68.6,497.1L68.7,497.5L68.7,497.9L68.8,498.3L68.8,498.7L68.9,499.1L68.9,499.5L69.0,499.9L69.0,500.3L69.1,500.6L69.1,501.0L69.2,501.4L69.2,501.8L69.3,502.2L69.3,502.6L69.4,503.0L69.4,503.4L69.5,503.8L69.5,504.2L69.6,504.6L69.7,505.0L69.7,505.4L69.8,505.8L69.8,506.2L69.9,506.6L69.9,507.0L70.0,507.4L70.0,507.8L70.1,508.2L70.1,508.6L70.2,509.0L70.2,509.4L70.3,509.8L70.3,510.2L70.4,510.6L70.4,511.0L70.4,511.4L70.5,511.7L70.5,512.1L70.6,512.5L70.6,512.9L70.6,513.3L70.7,513.7L70.7,514.1L70.8,514.5L70.8,514.9L70.8,515.3L70.9,515.7L70.9,516.1L70.9,516.5L71.0,516.9L71.0,517.3L71.0,517.7L71.1,518.1L71.1,518.5L71.2,518.9L71.2,519.3L71.2,519.7L71.3,520.1L71.3,520.5L71.3,520.9L71.4,521.3L71.4,521.7L71.4,522.1L71.5,522.5L71.5,522.9L71.5,523.3L71.6,523.7L71.6,524.1L71.6,524.5L71.6,524.9L71.7,525.3L71.7,525.7L71.7,526.1L71.8,526.5L71.8,526.9L71.8,527.3L71.8,527.7L71.9,528.1L71.9,528.5L71.9,528.9L72.0,529.3L72.0,529.7L72.0,530.1L72.0,530.5L72.1,530.9L72.1,531.3L72.1,531.7L72.1,532.1L72.2,532.5L72.2,532.9L72.2,533.3L72.2,533.7L72.3,534.1L72.3,534.5L72.3,534.9L72.3,535.3L72.4,535.6L72.4,536.0L72.4,536.4L72.4,536.8L72.4,537.2L72.5,537.6L72.5,538.0L72.5,538.4L72.5,538.8L72.6,539.2L72.6,539.6L72.6,540.0L72.6,540.4L72.7,540.8L72.7,541.2L72.7,541.6L72.7,542.0L72.7,542.4L72.8,542.8L72.8,543.2L72.8,543.6L72.8,544.0L72.9,544.4L72.9,544.8L72.9,545.2L72.9,545.6L72.9,546.0L73.0,546.4L73.0,546.8L73.0,547.2L73.0,547.6L73.0,548.0L73.1,548.4L73.1,548.8L73.1,549.2L73.1,549.6L73.1,550.0L73.1,550.4L73.2,550.8L73.2,551.2L73.2,551.6L73.2,552.0L73.2,552.4L73.2,552.8L73.3,553.2L73.3,553.6L73.3,554.0L73.3,554.4L73.3,554.8L73.3,555.2L73.4,555.6L73.4,556.0L73.4,556.4L73.4,556.8L73.4,557.2L73.4,557.6L73.4,558.0L73.5,558.4L73.5,558.8L73.5,559.2L73.5,559.6L73.5,560.0" fill="none" stroke="#1f77b4" stroke-width="2.5" stroke-linejoin="round" stroke-linecap="square" clip-path="url(#cc)"/>
<path d="M104.6,560.0L104.6,559.6L104.6,559.2L104.7,558.8L104.7,558.4L104.7,558.0L104.7,557.6L104.7,557.2L104.7,556.8L104.8,556.4L104.8,556.0L104.8,555.6L104.8,555.2L104.8,554.8L104.9,554.4L104.9,554.0L104.9,553.6L104.9,553.2L104.9,552.8L105.0,552.4L105.0,552.0L105.0,551.6L105.0,551.2L105.0,550.8L105.0,550.4L105.1,550.0L105.1,549.6L105.1,549.2L105.1,548.8L105.1,548.4L105.2,548.0L105.2,547.6L105.2,547.2L105.2,546.8L105.2,546.4L105.3,546.0L105.3,545.6L105.3,545.2L105.3,544.8L105.3,544.4L105.4,544.0L105.4,543.6L105.4,543.2L105.4,542.8L105.4,542.4L105.5,542.0L105.5,541.6L105.5,541.2L105.5,540.8L105.5,540.4L105.5,540.0L105.6,539.6L105.6,539.2L105.6,538.8L105.6,538.4L105.6,538.0L105.7,537.7L105.7,537.3L105.7,536.9L105.7,536.5L105.7,536.1L105.8,535.7L105.8,535.3L105.8,534.9L105.8,534.5L105.8,534.1L105.9,533.7L105.9,533.3L105.9,532.9L105.9,532.5L105.9,532.1L106.0,531.7L106.0,531.3L106.0,530.9L106.0,530.5L106.0,530.1L106.1,529.7L106.1,529.3L106.1,528.9L106.1,528.5L106.1,528.1L106.1,527.7L106.2,527.3L106.2,526.9L106.2,526.5L106.2,526.1L106.2,525.7L106.3,525.3L106.3,524.9L106.3,524.5L106.3,524.1L106.3,523.7L106.3,523.3L106.4,522.9L106.4,522.5L106.4,522.1L106.4,521.7L106.4,521.3L106.5,520.9L106.5,520.5L106.5,520.1L106.5,519.7L106.5,519.3L106.6,518.9L106.6,518.5L106.6,518.1L106.6,517.7L106.6,517.3L106.7,516.9L106.7,516.5L106.7,516.1L106.7,515.7L106.8,515.3L106.8,514.9L106.8,514.5L106.8,514.1L106.8,513.7L106.9,513.3L106.9,512.9L106.9,512.5L106.9,512.1L107.0,511.7L107.0,511.3L107.0,510.9L107.0,510.5L107.1,510.1L107.1,509.7L107.1,509.3L107.2,508.9L107.2,508.5L107.2,508.1L107.2,507.7L107.3,507.3L107.3,506.9L107.3,506.5L107.4,506.1L107.4,505.7L107.4,505.3L107.5,504.9L107.5,504.5L107.6,504.1L107.6,503.8L107.6,503.4L107.7,503.0L107.7,502.6L107.8,502.2L107.8,501.8L107.9,501.4L107.9,501.0L107.9,500.6L108.0,500.2L108.0,499.8L108.1,499.4L108.1,499.0L108.2,498.6L108.2,498.2L108.3,497.8L108.3,497.4L108.4,497.0L108.4,496.6L108.5,496.2L108.5,495.8L108.6,495.4L108.6,495.0L108.7,494.6L108.7,494.2L108.8,493.8L108.9,493.4L108.9,493.0L109.0,492.6L109.0,492.3L109.1,491.9L109.1,491.5L109.2,491.1L109.2,490.7L109.3,490.3L109.3,489.9L109.4,489.5L109.5,489.1L109.5,488.7L109.6,488.3L109.6,487.9L109.7,487.5L109.7,487.1L109.8,486.7L109.8,486.3L109.9,485.9L109.9,485.5L110.0,485.1L110.0,484.7L110.1,484.3L110.1,483.9L110.2,483.5L110.3,483.1L110.3,482.7L110.4,482.3L110.4,481.9L110.5,481.6L110.5,481.2L110.5,480.8L110.6,480.4L110.6,480.0L110.7,479.6L110.7,479.2L110.8,478.8L110.8,478.4L110.9,478.0L110.9,477.6L111.0,477.2L111.0,476.8L111.0,476.4L111.1,476.0L111.1,475.6L111.2,475.2L111.2,474.8L111.3,474.4L111.3,474.0L111.3,473.6L111.4,473.2L111.4,472.8L111.5,472.4L111.5,472.0L111.6,471.6L111.6,471.2L111.6,470.8L111.7,470.4L111.7,470.0L111.8,469.6L111.8,469.2L111.8,468.8L111.9,468.4L111.9,468.0L112.0,467.6L112.0,467.3L112.1,466.9L112.1,466.5L112.1,466.1L112.2,465.7L112.2,465.3L112.3,464.9L112.3,464.5L112.3,464.1L112.4,463.7L112.4,463.3L112.5,462.9L112.5,462.5L112.5,462.1L112.6,461.7L112.6,461.3L112.6,460.9L112.7,460.5L112.7,460.1L112.8,459.7L112.8,459.3L112.8,458.9L112.9,458.5L112.9,458.1L112.9,457.7L113.0,457.3L113.0,456.9L113.0,456.5L113.1,456.1L113.1,455.7L113.1,455.3L113.2,454.9L113.2,454.5L113.2,454.1L113.3,453.7L113.3,453.3L113.3,452.9L113.4,452.5L113.4,452.1L113.4,451.7L113.4,451.3L113.5,450.9L113.5,450.5L113.5,450.1L113.6,449.7L113.6,449.3L113.6,448.9L113.6,448.5L113.7,448.1L113.7,447.7L113.7,447.3L113.7,447.0L113.8,446.6L113.8,446.2L113.8,445.8L113.8,445.4L113.9,445.0L113.9,444.6L113.9,444.2L113.9,443.8L114.0,443.4L114.0,443.0L114.0,442.6L114.0,442.2L114.1,441.8L114.1,441.4L114.1,441.0L114.1,440.6L114.2,440.2L114.2,439.8L114.2,439.4L114.2,439.0L114.3,438.6L114.3,438.2L114.3,437.8L114.3,437.4L114.3,437.0L114.4,436.6L114.4,436.2L114.4,435.8L114.4,435.4L114.5,435.0L114.5,434.6L114.5,434.2L114.5,433.8L114.6,433.4L114.6,433.0L114.6,432.6L114.6,432.2L114.7,431.8L114.7,431.4L114.7,431.0L114.7,430.6L114.8,430.2L114.8,429.8L114.8,429.4L114.8,429.0L114.9,428.6L114.9,428.2L114.9,427.8L114.9,427.4L115.0,427.0L115.0,426.6L115.0,426.2L115.0,425.8L115.1,425.4L115.1,425.0L115.1,424.6L115.2,424.2L115.2,423.8L115.2,423.4L115.2,423.0L115.3,422.6L115.3,422.2L115.3,421.8L115.3,421.4L115.4,421.0L115.4,420.6L115.4,420.2L115.5,419.8L115.5,419.4L115.5,419.0L115.5,418.6L115.6,418.2L115.6,417.8L115.6,417.4L115.7,417.0L115.7,416.6L115.7,416.2L115.7,415.8L115.8,415.5L115.8,415.1L115.8,414.7L115.9,414.3L115.9,413.9L115.9,413.5L116.0,413.1L116.0,412.7L116.0,412.3L116.0,411.9L116.1,411.5L116.1,411.1L116.1,410.7L116.2,410.3L116.2,409.9L116.2,409.5L116.3,409.1L116.3,408.7L116.3,408.3L116.3,407.9L116.4,407.5L116.4,407.1L116.4,406.7L116.5,406.3L116.5,405.9L116.5,405.5L116.6,405.1L116.6,404.7L116.6,404.3L116.7,403.9L116.7,403.5L116.7,403.1L116.7,402.7L116.8,402.3L116.8,401.9L116.8,401.5L116.9,401.1L116.9,400.7L116.9,400.3L117.0,399.9L117.0,399.5L117.0,399.1L117.1,398.7L117.1,398.3L117.1,397.9L117.2,397.5L117.2,397.1L117.2,396.7L117.3,396.3L117.3,395.9L117.3,395.5L117.4,395.1L117.4,394.7L117.5,394.3L117.5,393.9L117.5,393.5L117.6,393.1L117.6,392.7L117.6,392.4L117.7,392.0L117.7,391.6L117.8,391.2L117.8,390.8L117.8,390.4L117.9,390.0L117.9,389.6L117.9,389.2L118.0,388.8L118.0,388.4L118.0,388.0L118.1,387.6L118.1,387.2L118.2,386.8L118.2,386.4L118.2,386.0L118.3,385.6L118.3,385.2L118.3,384.8L118.4,384.4L118.4,384.0L118.4,383.6L118.5,383.2L118.5,382.8L118.5,382.4L118.6,382.0L118.6,381.6L118.6,381.2L118.6,380.8L118.7,380.4L118.7,380.0L118.7,379.6L118.8,379.2L118.8,378.8L118.8,378.4L118.8,378.0L118.9,377.6L118.9,377.2L118.9,376.8L118.9,376.4L118.9,376.0L119.0,375.6L119.0,375.2L119.0,374.8L119.0,374.4L119.1,374.0L119.1,373.6L119.1,373.2L119.1,372.8L119.1,372.4L119.2,372.0L119.2,371.6L119.2,371.2L119.2,370.8L119.3,370.4L119.3,370.0L119.3,369.6L119.3,369.2L119.3,368.8L119.4,368.4L119.4,368.0L119.4,367.6L119.4,367.2L119.4,366.8L119.5,366.4L119.5,366.0L119.5,365.6L119.5,365.3L119.5,364.9L119.5,364.5L119.6,364.1L119.6,363.7L119.6,363.3L119.6,362.9L119.6,362.5L119.7,362.1L119.7,361.7L119.7,361.3L119.7,360.9L119.8,360.5L119.8,360.1L119.8,359.7L119.8,359.3L119.8,358.9L119.9,358.5L119.9,358.1L119.9,357.7L119.9,357.3L119.9,356.9L120.0,356.5L120.0,356.1L120.0,355.7L120.0,355.3L120.0,354.9L120.1,354.5L120.1,354.1L120.1,353.7L120.1,353.3L120.2,352.9L120.2,352.5L120.2,352.1L120.2,351.7L120.2,351.3L120.3,350.9L120.3,350.5L120.3,350.1L120.3,349.7L120.4,349.3L120.4,348.9L120.4,348.5L120.4,348.1L120.4,347.7L120.5,347.3L120.5,346.9L120.5,346.5L120.5,346.1L120.5,345.7L120.6,345.3L120.6,344.9L120.6,344.5L120.6,344.1L120.7,343.7L120.7,343.3L120.7,342.9L120.7,342.5L120.7,342.1L120.8,341.7L120.8,341.3L120.8,340.9L120.8,340.5L120.9,340.1L120.9,339.7L120.9,339.3L120.9,338.9L120.9,338.5L121.0,338.1L121.0,337.7L121.0,337.3L121.0,336.9L121.0,336.5L121.1,336.1L121.1,335.7L121.1,335.3L121.1,334.9L121.2,334.5L121.2,334.1L121.2,333.7L121.2,333.3L121.2,332.9L121.3,332.5L121.3,332.1L121.3,331.7L121.3,331.3L121.3,330.9L121.4,330.5L121.4,330.1L121.4,329.7L121.4,329.3L121.4,328.9L121.4,328.5L121.5,328.1L121.5,327.7L121.5,327.3L121.5,326.9L121.5,326.5L121.6,326.1L121.6,325.7L121.6,325.3L121.6,324.9L121.6,324.5L121.7,324.2L121.7,323.8L121.7,323.4L121.7,323.0L121.7,322.6L121.7,322.2L121.8,321.8L121.8,321.4L121.8,321.0L121.8,320.6L121.8,320.2L121.8,319.8L121.8,319.4L121.9,319.0L121.9,318.6L121.9,318.2L121.9,317.8L121.9,317.4L121.9,317.0L122.0,316.6L122.0,316.2L122.0,315.8L122.0,315.4L122.0,315.0L122.0,314.6L122.0,314.2L122.1,313.8L122.1,313.4L122.1,313.0L122.1,312.6L122.1,312.2L122.1,311.8L122.1,311.4L122.1,311.0L122.2,310.6L122.2,310.2L122.2,309.8L122.2,309.4L122.2,309.0L122.2,308.6L122.2,308.2L122.3,307.8L122.3,307.4L122.3,307.0L122.3,306.6L122.3,306.2L122.3,305.8L122.3,305.4L122.3,305.0L122.3,304.6L122.4,304.2L122.4,303.8L122.4,303.4L122.4,303.0L122.4,302.6L122.4,302.2L122.4,301.8L122.4,301.4L122.4,301.0L122.5,300.6L122.5,300.2L122.5,299.8L122.5,299.4L122.5,299.0L122.5,298.6L122.5,298.2L122.5,297.8L122.5,297.4L122.6,297.0L122.6,296.6L122.6,296.2L122.6,295.8L122.6,295.4L122.6,295.0" fill="none" stroke="#1f77b4" stroke-width="2.5" stroke-linejoin="round" stroke-linecap="square" clip-path="url(#cc)"/>
<path d="M129.4,295.0L129.4,295.4L129.4,295.8L129.4,296.2L129.4,296.6L129.4,297.0L129.4,297.4L129.4,297.8L129.4,298.2L129.4,298.6L129.4,299.0L129.4,299.4L129.5,299.8L129.5,300.2L129.5,300.6L129.5,301.0L129.5,301.4L129.5,301.8L129.5,302.2L129.5,302.6L129.5,303.0L129.6,303.4L129.6,303.8L129.6,304.2L129.6,304.6L129.6,305.0L129.6,305.4L129.6,305.8L129.7,306.2L129.7,306.6L129.7,307.0L129.7,307.4L129.7,307.8L129.8,308.2L129.8,308.6L129.8,309.0L129.8,309.4L129.8,309.8L129.9,310.2L129.9,310.6L129.9,311.0L129.9,311.4L129.9,311.8L130.0,312.2L130.0,312.6L130.0,313.0L130.0,313.4L130.1,313.8L130.1,314.2L130.1,314.6L130.1,315.0L130.1,315.4L130.2,315.8L130.2,316.2L130.2,316.6L130.2,317.0L130.3,317.4L130.3,317.8L130.3,318.2L130.3,318.6L130.4,319.0L130.4,319.4L130.4,319.8L130.4,320.2L130.5,320.6L130.5,321.0L130.5,321.4L130.6,321.8L130.6,322.2L130.7,322.6L130.7,323.0L130.7,323.3L130.8,323.7L130.8,324.1L130.9,324.5L130.9,324.9L131.0,325.3L131.0,325.7L131.0,326.1L131.1,326.5L131.1,326.9L131.2,327.3L131.2,327.7L131.3,328.1L131.3,328.5L131.4,328.9L131.5,329.3L131.5,329.7L131.6,330.1L131.6,330.5L131.7,330.9L131.7,331.3L131.8,331.7L131.8,332.1L131.9,332.5L132.0,332.9L132.0,333.3L132.1,333.7L132.1,334.1L132.2,334.5L132.2,334.9L132.3,335.3L132.4,335.6L132.4,336.0L132.5,336.4L132.5,336.8L132.6,337.2L132.7,337.6L132.7,338.0L132.8,338.4L132.8,338.8L132.9,339.2L133.0,339.6L133.0,340.0L133.1,340.4L133.1,340.8L133.2,341.2L133.3,341.6L133.3,342.0L133.4,342.4L133.4,342.8L133.5,343.2L133.5,343.6L133.6,344.0L133.7,344.4L133.7,344.8L133.8,345.2L133.8,345.5L133.9,345.9L133.9,346.3L134.0,346.7L134.0,347.1L134.1,347.5L134.1,347.9L134.2,348.3L134.3,348.7L134.3,349.1L134.4,349.5L134.4,349.9L134.5,350.3L134.5,350.7L134.6,351.1L134.7,351.5L134.7,351.9L134.8,352.3L134.8,352.7L134.9,353.1L134.9,353.5L135.0,353.9L135.1,354.3L135.1,354.7L135.2,355.1L135.2,355.4L135.3,355.8L135.3,356.2L135.4,356.6L135.5,357.0L135.5,357.4L135.6,357.8L135.6,358.2L135.7,358.6L135.8,359.0L135.8,359.4L135.9,359.8L135.9,360.2L136.0,360.6L136.1,361.0L136.1,361.4L136.2,361.8L136.2,362.2L136.3,362.6L136.4,363.0L136.4,363.4L136.5,363.8L136.5,364.2L136.6,364.5L136.7,364.9L136.7,365.3L136.8,365.7L136.8,366.1L136.9,366.5L137.0,366.9L137.0,367.3L137.1,367.7L137.2,368.1L137.2,368.5L137.3,368.9L137.4,369.3L137.4,369.7L137.5,370.1L137.6,370.5L137.6,370.9L137.7,371.3L137.7,371.7L137.8,372.0L137.9,372.4L137.9,372.8L138.0,373.2L138.1,373.6L138.2,374.0L138.2,374.4L138.3,374.8L138.4,375.2L138.4,375.6L138.5,376.0L138.6,376.4L138.6,376.8L138.7,377.2L138.8,377.6L138.8,378.0L138.9,378.3L139.0,378.7L139.0,379.1L139.1,379.5L139.2,379.9L139.3,380.3L139.3,380.7L139.4,381.1L139.5,381.5L139.5,381.9L139.6,382.3L139.7,382.7L139.8,383.1L139.8,383.5L139.9,383.9L140.0,384.3L140.1,384.6L140.1,385.0L140.2,385.4L140.3,385.8L140.4,386.2L140.4,386.6L140.5,387.0L140.6,387.4L140.7,387.8L140.7,388.2L140.8,388.6L140.9,389.0L141.0,389.4L141.0,389.8L141.1,390.1L141.2,390.5L141.3,390.9L141.4,391.3L141.4,391.7L141.5,392.1L141.6,392.5L141.7,392.9L141.8,393.3L141.8,393.7L141.9,394.1L142.0,394.5L142.1,394.9L142.2,395.2L142.2,395.6L142.3,396.0L142.4,396.4L142.5,396.8L142.6,397.2L142.7,397.6L142.8,398.0L142.8,398.4L142.9,398.8L143.0,399.2L143.1,399.5L143.2,399.9L143.3,400.3L143.4,400.7L143.4,401.1L143.5,401.5L143.6,401.9L143.7,402.3L143.8,402.7L143.9,403.1L144.0,403.4L144.1,403.8L144.2,404.2L144.2,404.6L144.3,405.0L144.4,405.4L144.5,405.8L144.6,406.2L144.7,406.6L144.8,406.9L144.9,407.3L145.0,407.7L145.1,408.1L145.2,408.5L145.3,408.9L145.4,409.3L145.5,409.7L145.6,410.0L145.7,410.4L145.8,410.8L145.9,411.2L146.0,411.6L146.1,412.0L146.2,412.4L146.3,412.8L146.4,413.1L146.5,413.5L146.6,413.9L146.7,414.3L146.8,414.7L146.9,415.1L147.0,415.5L147.1,415.9L147.2,416.2L147.3,416.6L147.4,417.0L147.5,417.4L147.6,417.8L147.7,418.2L147.8,418.6L147.9,418.9L148.1,419.3L148.2,419.7L148.3,420.1L148.4,420.5L148.5,420.9L148.6,421.3L148.7,421.6L148.8,422.0L148.9,422.4L149.1,422.8L149.2,423.2L149.3,423.6L149.4,423.9L149.5,424.3L149.6,424.7L149.7,425.1L149.9,425.5L150.0,425.9L150.1,426.2L150.2,426.6L150.3,427.0L150.5,427.4L150.6,427.8L150.7,428.1L150.8,428.5L150.9,428.9L151.0,429.3L151.2,429.7L151.3,430.0L151.4,430.4L151.5,430.8L151.7,431.2L151.8,431.6L151.9,431.9L152.0,432.3L152.2,432.7L152.3,433.1L152.4,433.5L152.6,433.8L152.7,434.2L152.8,434.6L153.0,435.0L153.1,435.3L153.2,435.7L153.4,436.1L153.5,436.5L153.6,436.9L153.8,437.2L153.9,437.6L154.1,438.0L154.2,438.4L154.3,438.7L154.5,439.1L154.6,439.5L154.8,439.8L154.9,440.2L155.1,440.6L155.2,441.0L155.3,441.3L155.5,441.7L155.6,442.1L155.8,442.5L155.9,442.8L156.1,443.2L156.2,443.6L156.4,443.9L156.5,444.3L156.7,444.7L156.8,445.0L157.0,445.4L157.2,445.8L157.3,446.1L157.5,446.5L157.7,446.9L157.8,447.2L158.0,447.6L158.1,448.0L158.3,448.3L158.5,448.7L158.6,449.1L158.8,449.4L158.9,449.8L159.1,450.2L159.3,450.5L159.4,450.9L159.6,451.3L159.7,451.6L159.9,452.0L160.0,452.4L160.2,452.8L160.3,453.1L160.5,453.5L160.6,453.9L160.8,454.2L160.9,454.6L161.0,455.0L161.2,455.4L161.3,455.7L161.5,456.1L161.6,456.5L161.8,456.9L161.9,457.2L162.0,457.6L162.2,458.0L162.3,458.4L162.4,458.7L162.6,459.1L162.7,459.5L162.8,459.9L163.0,460.2L163.1,460.6L163.2,461.0L163.4,461.4L163.5,461.8L163.6,462.1L163.7,462.5L163.9,462.9L164.0,463.3L164.1,463.7L164.2,464.0L164.4,464.4L164.5,464.8L164.6,465.2L164.8,465.6L164.9,465.9L165.0,466.3L165.2,466.7L165.3,467.1L165.4,467.4L165.6,467.8L165.7,468.2L165.9,468.6L166.0,468.9L166.2,469.3L166.3,469.7L166.5,470.0L166.6,470.4L166.8,470.8L167.0,471.1L167.1,471.5L167.3,471.9L167.5,472.2L167.6,472.6L167.8,473.0L168.0,473.5L168.2,473.9L168.4,474.4L168.5,474.8L168.8,475.2L169.0,475.5L169.2,475.7L169.5,475.8L169.8,475.8L170.2,475.8L170.7,475.7L171.0,475.6L171.3,475.4L171.5,475.2L171.7,474.8L171.9,474.4L172.1,474.0L172.2,473.6L172.4,473.1L172.5,472.8L172.7,472.4L172.8,472.0L172.9,471.6L173.0,471.3L173.2,470.9L173.3,470.5L173.4,470.1L173.5,469.7L173.6,469.3L173.7,468.9L173.8,468.6L173.9,468.2L174.0,467.8L174.1,467.4L174.2,467.0L174.3,466.6L174.4,466.2L174.5,465.8L174.6,465.5L174.7,465.1L174.8,464.7L174.9,464.3L174.9,463.9L175.0,463.5L175.1,463.1L175.2,462.7L175.3,462.3L175.3,461.9L175.4,461.5L175.5,461.1L175.6,460.7L175.6,460.4L175.7,460.0L175.8,459.6L175.8,459.2L175.9,458.8L175.9,458.4L176.0,458.0L176.1,457.6L176.1,457.2L176.2,456.8L176.2,456.4L176.3,456.0L176.3,455.6L176.4,455.2L176.4,454.8L176.5,454.4L176.5,454.0L176.6,453.6L176.6,453.2L176.7,452.8L176.7,452.4L176.8,452.0L176.8,451.6L176.9,451.2L176.9,450.8L177.0,450.4L177.0,450.1L177.1,449.7L177.1,449.3L177.2,448.9L177.2,448.5L177.3,448.1L177.3,447.7L177.4,447.3L177.4,446.9L177.4,446.5L177.5,446.1L177.5,445.7L177.6,445.3L177.6,444.9L177.7,444.5L177.7,444.1L177.8,443.7L177.8,443.3L177.9,442.9L177.9,442.5L178.0,442.1L178.0,441.7L178.0,441.3L178.1,440.9L178.1,440.5L178.2,440.1L178.2,439.7L178.3,439.3L178.3,438.9L178.4,438.5L178.4,438.1L178.5,437.7L178.5,437.3L178.5,436.9L178.6,436.5L178.6,436.1L178.7,435.7L178.7,435.4L178.8,435.0L178.8,434.6L178.8,434.2L178.9,433.8L178.9,433.4L179.0,433.0L179.0,432.6L179.1,432.2L179.1,431.8L179.1,431.4L179.2,431.0L179.2,430.6L179.3,430.2L179.3,429.8L179.4,429.4L179.4,429.0L179.4,428.6L179.5,428.2L179.5,427.8L179.6,427.4L179.6,427.0L179.7,426.6L179.7,426.2L179.7,425.8L179.8,425.4L179.8,425.0L179.9,424.6L179.9,424.2L180.0,423.8L180.0,423.4L180.0,423.0L180.1,422.6L180.1,422.2L180.2,421.8L180.2,421.4L180.2,421.0L180.3,420.6L180.3,420.2L180.4,419.8L180.4,419.4L180.5,419.0L180.5,418.7L180.6,418.3L180.6,417.9L180.6,417.5L180.7,417.1L180.7,416.7L180.8,416.3L180.8,415.9L180.9,415.5L180.9,415.1L180.9,414.7L181.0,414.3L181.0,413.9L181.1,413.5L181.1,413.1L181.2,412.7L181.2,412.3L181.2,411.9L181.3,411.5L181.3,411.1L181.4,410.7L181.4,410.3L181.5,409.9L181.5,409.5L181.5,409.1L181.6,408.7L181.6,408.3L181.7,407.9L181.7,407.5L181.7,407.1L181.8,406.7L181.8,406.3L181.9,405.9L181.9,405.5L182.0,405.1L182.0,404.7L182.0,404.3L182.1,403.9L182.1,403.5L182.2,403.1L182.2,402.7L182.2,402.3L182.3,401.9L182.3,401.6L182.4,401.2L182.4,400.8L182.4,400.4L182.5,400.0L182.5,399.6L182.6,399.2L182.6,398.8L182.6,398.4L182.7,398.0L182.7,397.6L182.8,397.2L182.8,396.8L182.9,396.4L182.9,396.0L182.9,395.6L183.0,395.2L183.0,394.8L183.1,394.4L183.1,394.0L183.1,393.6L183.2,393.2L183.2,392.8L183.3,392.4L183.3,392.0L183.4,391.6L183.4,391.2L183.4,390.8L183.5,390.4L183.5,390.0L183.6,389.6L183.6,389.2L183.6,388.8L183.7,388.4L183.7,388.0L183.8,387.6L183.8,387.2L183.8,386.8L183.9,386.4L183.9,386.0L184.0,385.6L184.0,385.2L184.1,384.8L184.1,384.4L184.2,384.0L184.2,383.7L184.2,383.3L184.3,382.9L184.3,382.5L184.4,382.1L184.4,381.7L184.5,381.3L184.5,380.9L184.6,380.5L184.6,380.1L184.7,379.7L184.7,379.3L184.8,378.9L184.8,378.5L184.9,378.1L184.9,377.7L185.0,377.3L185.0,376.9L185.1,376.5L185.1,376.1L185.2,375.7L185.3,375.3L185.3,374.9L185.4,374.5L185.4,374.1L185.5,373.7L185.6,373.3L185.6,372.9L185.7,372.6L185.8,372.2L185.8,371.8L185.9,371.4L186.0,371.0L186.1,370.6L186.2,370.2L186.2,369.8L186.3,369.4L186.4,369.0L186.5,368.6L186.6,368.2L186.7,367.8L186.8,367.5L187.0,367.1L187.1,366.7L187.2,366.3L187.3,366.0L187.5,365.6L187.6,365.2L187.8,364.8L188.0,364.4L188.2,364.0L188.4,363.7L188.6,363.3L188.9,363.0L189.1,362.8L189.4,362.5L189.7,362.3L190.1,362.1L190.5,362.0L190.9,361.8L191.2,361.8L191.6,361.9L192.0,362.0L192.4,362.1L192.8,362.3L193.1,362.5L193.4,362.7L193.7,363.0L194.0,363.2L194.3,363.5L194.6,363.8L194.9,364.1L195.1,364.4L195.4,364.8L195.6,365.1L195.9,365.4L196.1,365.7L196.4,366.1L196.6,366.4L196.8,366.7L197.0,367.0L197.3,367.4L197.5,367.7L197.7,368.0L197.9,368.4L198.1,368.7L198.3,369.1L198.5,369.4L198.7,369.8L198.9,370.1L199.1,370.5L199.3,370.8L199.5,371.2L199.6,371.5L199.8,371.9L200.0,372.2L200.2,372.6L200.4,373.0L200.6,373.3L200.8,373.7L201.0,374.0L201.2,374.4L201.4,374.7L201.6,375.1L201.8,375.4L202.0,375.7L202.2,376.1L202.4,376.4L202.6,376.8L202.8,377.1L203.0,377.5L203.2,377.8L203.4,378.1L203.7,378.5L203.9,378.8L204.1,379.2L204.3,379.5L204.5,379.8L204.7,380.2L204.9,380.5L205.1,380.9L205.3,381.2L205.5,381.5L205.8,381.9L206.0,382.2L206.2,382.6L206.4,382.9L206.6,383.2L206.8,383.6L207.0,383.9L207.2,384.3L207.5,384.6L207.7,384.9L207.9,385.3L208.1,385.6L208.3,385.9L208.5,386.3L208.7,386.6L209.0,387.0L209.2,387.3L209.4,387.6L209.6,388.0L209.8,388.3L210.0,388.6L210.3,389.0L210.5,389.3L210.7,389.6L210.9,390.0L211.1,390.3L211.4,390.6L211.6,391.0L211.8,391.3L212.0,391.6L212.2,392.0L212.5,392.3L212.7,392.6L212.9,393.0L213.1,393.3L213.3,393.6L213.6,394.0L213.8,394.3L214.0,394.7L214.2,395.0L214.4,395.3L214.6,395.7L214.8,396.0L215.1,396.3L215.3,396.7L215.5,397.0L215.7,397.3L215.9,397.7L216.2,398.0L216.4,398.4L216.6,398.7L216.8,399.0L217.0,399.4L217.3,399.7L217.5,400.0L217.7,400.3L217.9,400.7L218.2,401.0L218.4,401.3L218.6,401.7L218.9,402.0L219.1,402.3L219.3,402.6L219.5,403.0L219.8,403.3L220.0,403.6L220.2,403.9L220.5,404.3L220.7,404.6L220.9,404.9L221.2,405.2L221.4,405.6L221.6,405.9L221.9,406.2L222.1,406.5L222.3,406.9L222.6,407.2L222.8,407.5L223.0,407.8L223.3,408.2L223.5,408.5L223.8,408.8L224.0,409.1L224.2,409.4L224.5,409.8L224.7,410.1L225.0,410.4L225.2,410.7L225.5,411.0L225.7,411.3L226.0,411.6L226.2,411.9L226.5,412.2L226.8,412.5L227.0,412.8L227.3,413.1L227.5,413.4L227.8,413.7L228.1,414.0L228.3,414.3L228.6,414.6L228.9,414.9L229.1,415.2L229.4,415.5L229.7,415.8L229.9,416.1L230.2,416.4L230.5,416.7L230.7,417.0L231.0,417.3L231.3,417.6L231.5,417.9L231.8,418.2L232.0,418.5L232.3,418.9L232.6,419.2L232.8,419.5L233.1,419.8L233.3,420.1L233.6,420.4L233.8,420.7L234.1,421.0L234.3,421.3L234.6,421.6L234.8,422.0L235.1,422.3L235.3,422.6L235.6,422.9L235.8,423.2L236.1,423.5L236.3,423.8L236.6,424.2L236.8,424.5L237.0,424.8L237.3,425.1L237.5,425.4L237.8,425.8L238.0,426.1L238.2,426.4L238.5,426.7L238.7,427.0L239.0,427.4L239.2,427.7L239.4,428.0L239.7,428.3L239.9,428.6L240.1,429.0L240.4,429.3L240.6,429.6L240.8,429.9L241.1,430.3L241.3,430.6L241.5,430.9L241.7,431.3L242.0,431.6L242.2,431.9L242.4,432.3L242.6,432.6L242.9,432.9L243.1,433.2L243.3,433.6L243.5,433.9L243.8,434.2L244.0,434.6L244.2,434.9L244.4,435.2L244.6,435.6L244.9,435.9L245.1,436.2L245.3,436.6L245.5,436.9L245.8,437.2L246.0,437.6L246.2,437.9L246.4,438.2L246.6,438.6L246.9,438.9L247.1,439.2L247.3,439.6L247.5,439.9L247.8,440.2L248.0,440.6L248.2,440.9L248.5,441.2L248.7,441.5L248.9,441.9L249.1,442.2L249.4,442.5L249.6,442.8L249.8,443.2L250.1,443.5L250.3,443.8L250.5,444.2L250.8,444.5L251.0,444.8L251.2,445.1L251.5,445.5L251.7,445.8L251.9,446.1L252.2,446.4L252.4,446.8L252.6,447.1L252.8,447.4L253.1,447.7L253.3,448.1L253.5,448.4L253.8,448.7L254.0,449.0L254.2,449.4L254.5,449.7L254.7,450.0L254.9,450.3L255.2,450.7L255.4,451.0L255.6,451.3L255.8,451.7L256.1,452.0L256.3,452.3L256.5,452.6L256.8,453.0L257.0,453.3L257.2,453.6L257.5,453.9L257.7,454.3L257.9,454.6L258.2,454.9L258.4,455.3L258.6,455.6L258.8,455.9L259.1,456.2L259.3,456.6L259.5,456.9L259.8,457.2L260.0,457.5L260.2,457.9L260.4,458.2L260.7,458.5L260.9,458.9L261.1,459.2L261.3,459.5L261.6,459.9L261.8,460.2L262.0,460.5L262.2,460.9L262.5,461.2L262.7,461.5L262.9,461.9L263.1,462.2L263.5,456.2L263.9,463.3L265.2,448.8L265.4,478.5L265.9,468.5L266.6,470.6L266.8,470.9L267.1,471.2L267.3,471.6L267.5,471.9L267.7,472.2L268.0,472.6L268.2,472.9L268.4,473.2L268.6,473.6L268.8,473.9L269.0,474.2L269.3,474.6L269.5,474.9L269.7,475.2L269.9,475.6L270.1,475.9L270.3,476.2L270.5,476.6L270.8,476.9L271.0,477.2L271.2,477.6L271.4,477.9L271.6,478.2L271.8,478.6L272.0,478.9L272.3,479.2L272.5,479.6L272.7,479.9L272.9,480.2L273.1,480.6L273.4,480.9L273.6,481.2L273.8,481.5L274.0,481.9L274.3,482.2L274.5,482.5L274.7,482.8L275.0,483.1L275.2,483.4L275.5,483.8L275.7,484.1L276.0,484.4L276.2,484.7L276.5,485.0L276.7,485.3L277.0,485.6L277.2,485.9L277.5,486.2L277.7,486.5L278.0,486.8L278.3,487.1L278.5,487.4L278.8,487.7L279.0,488.0L279.3,488.3L279.5,488.7L279.8,489.0L280.0,489.3L280.2,489.6L280.5,489.9L280.7,490.2L280.9,490.5L281.2,490.9L281.4,491.2L281.7,491.5L281.9,491.8L282.1,492.1L282.4,492.5L282.6,492.8L282.8,493.1L283.0,493.4L283.3,493.8L283.5,494.1L283.7,494.4L284.0,494.7L284.2,495.1L284.4,495.4" fill="none" stroke="#1f77b4" stroke-width="2.5" stroke-linejoin="round" stroke-linecap="butt" clip-path="url(#cc)"/>
<line x1="59.20" y1="426.95" x2="302.10" y2="426.95" stroke="#808080" stroke-width="1.8" />
<rect x="59.20" y="317.50" width="242.90" height="218.90" fill="none" stroke="#000" stroke-width="1.1" stroke-linejoin="miter"/>
<circle cx="122.30" cy="463.30" r="3.4" fill="#d62728" clip-path="url(#cc)"/>
<circle cx="176.00" cy="463.30" r="3.4" fill="#d62728" clip-path="url(#cc)"/>
<circle cx="234.10" cy="390.30" r="3.4" fill="#d62728" clip-path="url(#cc)"/>
<path d="M59.4,397.4L59.7,397.7L59.9,398.0L60.2,398.3L60.5,398.6L60.8,398.9L61.1,399.1L61.4,399.4L61.8,399.6L62.1,399.8L62.5,399.9L62.8,400.1L63.2,400.2L63.6,400.3L63.9,400.4L64.3,400.5L64.7,400.7L65.1,400.8L65.5,400.9L65.9,401.0L66.3,401.1L66.7,401.2L67.1,401.2L67.5,401.3L67.9,401.4L68.3,401.5L68.6,401.6L69.0,401.7L69.4,401.8L69.8,401.9L70.2,402.0L70.6,402.0L71.0,402.1L71.4,402.2L71.8,402.3L72.2,402.3L72.6,402.4L73.0,402.5L73.3,402.5L73.7,402.6L74.1,402.6L74.5,402.7L74.9,402.8L75.3,402.8L75.7,402.9L76.1,402.9L76.5,403.0L76.9,403.0L77.3,403.1L77.7,403.2L78.1,403.2L78.5,403.3L78.9,403.3L79.3,403.4L79.7,403.4L80.1,403.5L80.5,403.6L80.9,403.6L81.3,403.7L81.7,403.7L82.1,403.8L82.4,403.9L82.8,403.9L83.2,404.0L83.6,404.0L84.0,404.1L84.4,404.2L84.8,404.2L85.2,404.3L85.6,404.4L86.0,404.4L86.4,404.5L86.8,404.6L87.2,404.6L87.6,404.7L88.0,404.8L88.4,404.9L88.7,404.9L89.1,405.0L89.5,405.1L89.9,405.2L90.3,405.3L90.7,405.4L91.1,405.5L91.5,405.6L91.9,405.7L92.3,405.8L92.6,405.9L93.0,406.0L93.4,406.1L93.8,406.3L94.2,406.4L94.5,406.5L94.9,406.7L95.3,406.8L95.6,407.0L96.0,407.1L96.3,407.3L96.7,407.5L97.0,407.7L97.4,407.9L97.7,408.1L98.1,408.3L98.4,408.5L98.8,408.7L99.1,408.9L99.5,409.2L99.8,409.4L100.1,409.6L100.5,409.8L100.8,410.0L101.2,410.2L101.5,410.4L101.9,410.6L102.2,410.8L102.6,411.1L102.9,411.3L103.2,411.5L103.6,411.8L103.9,412.0L104.2,412.2L104.5,412.5L104.7,412.8L105.0,413.0L105.3,413.3L105.5,413.6L105.8,413.9L106.0,414.2L106.2,414.5L106.5,414.9L106.7,415.2L106.9,415.6L107.1,415.9L107.3,416.3L107.5,416.6L107.8,417.0L108.0,417.3L108.2,417.7L108.4,418.0L108.6,418.4L108.8,418.7L109.0,419.1L109.2,419.4L109.4,419.7L109.6,420.1L109.8,420.4L110.0,420.8L110.2,421.1L110.3,421.5L110.5,421.9L110.7,422.2L110.9,422.6L111.1,422.9L111.3,423.3L111.4,423.6L111.6,424.0L111.8,424.4L111.9,424.7L112.1,425.1L112.2,425.5L112.3,425.8L112.5,426.2L112.6,426.6L112.8,427.0L112.9,427.3L113.0,427.7L113.1,428.1L113.2,428.5L113.4,428.9L113.5,429.3L113.6,429.6L113.7,430.0L113.8,430.4L113.9,430.8L114.1,431.2L114.2,431.6L114.3,431.9L114.4,432.3L114.5,432.7L114.6,433.1L114.7,433.5L114.9,433.9L115.0,434.2L115.1,434.6L115.2,435.0L115.3,435.4L115.4,435.8L115.6,436.1L115.7,436.5L115.8,436.9L115.9,437.3L116.0,437.7L116.1,438.1L116.3,438.4L116.4,438.8L116.5,439.2L116.6,439.6L116.7,440.0L116.8,440.4L116.9,440.8L117.0,441.1L117.1,441.5L117.2,441.9L117.3,442.3L117.4,442.7L117.5,443.1L117.6,443.5L117.7,443.8L117.8,444.2L117.9,444.6L118.0,445.0L118.1,445.4L118.2,445.8L118.3,446.2L118.4,446.6L118.5,446.9L118.6,447.3L118.7,447.7L118.8,448.1L118.8,448.5L118.9,448.9L119.0,449.3L119.1,449.7L119.2,450.1L119.3,450.4L119.4,450.8L119.5,451.2L119.6,451.6L119.7,452.0L119.8,452.4L119.9,452.8L120.0,453.2L120.1,453.6L120.1,453.9L120.2,454.3L120.3,454.7L120.4,455.1L120.5,455.5L120.6,455.9L120.7,456.3L120.8,456.7L120.9,457.1L121.0,457.4L121.0,457.8L121.1,458.2L121.2,458.6L121.3,459.0L121.4,459.4L121.5,459.8L121.6,460.2L121.7,460.6L121.8,461.0L121.9,461.3L122.0,461.7L122.0,462.1L122.1,462.5L122.2,462.9L122.3,463.3L122.4,463.7L122.5,464.1L122.6,464.5L122.7,464.8L122.8,465.2L122.9,465.6L123.0,466.0L123.0,466.4L123.1,466.8L123.2,467.2L123.3,467.6L123.4,468.0L123.5,468.3L123.6,468.7L123.7,469.1L123.8,469.5L123.9,469.9L124.0,470.3L124.1,470.7L124.2,471.1L124.2,471.5L124.3,471.8L124.4,472.2L124.5,472.6L124.6,473.0L124.7,473.4L124.8,473.8L124.9,474.2L125.0,474.5L125.1,474.9L125.2,475.3L125.3,475.7L125.4,476.1L125.6,476.5L125.7,476.9L125.8,477.3L125.9,477.6L126.0,478.0L126.1,478.4L126.2,478.8L126.3,479.2L126.4,479.6L126.5,479.9L126.6,480.3L126.8,480.7L126.9,481.1L127.0,481.5L127.1,481.9L127.2,482.2L127.4,482.6L127.5,483.0L127.6,483.4L127.8,483.7L127.9,484.1L128.0,484.5L128.2,484.9L128.3,485.2L128.5,485.6L128.6,486.0L128.8,486.4L128.9,486.7L129.1,487.1L129.2,487.5L129.4,487.8L129.5,488.2L129.7,488.6L129.9,488.9L130.0,489.3L130.2,489.6L130.4,490.0L130.6,490.4L130.8,490.7L131.0,491.1L131.2,491.4L131.4,491.8L131.6,492.1L131.8,492.5L132.0,492.8L132.2,493.1L132.4,493.5L132.6,493.8L132.9,494.1L133.1,494.4L133.3,494.8L133.6,495.1L133.8,495.4L134.1,495.7L134.3,496.0L134.6,496.3L134.8,496.6L135.1,496.9L135.4,497.2L135.7,497.5L135.9,497.8L136.2,498.1L136.5,498.4L136.8,498.7L137.1,498.9L137.4,499.2L137.7,499.5L138.0,499.7L138.3,500.0L138.6,500.3L138.9,500.5L139.2,500.8L139.5,501.0L139.8,501.3L140.2,501.5L140.5,501.8L140.8,502.0L141.2,502.2L141.5,502.4L141.9,502.5L142.2,502.7L142.6,502.9L142.9,503.0L143.3,503.2L143.7,503.3L144.1,503.5L144.5,503.6L144.8,503.8L145.2,503.9L145.6,504.0L146.0,504.1L146.4,504.2L146.8,504.3L147.2,504.3L147.6,504.4L148.0,504.4L148.4,504.4L148.8,504.4L149.2,504.3L149.6,504.3L150.0,504.2L150.4,504.2L150.8,504.1L151.2,504.0L151.6,503.9L152.0,503.9L152.3,503.8L152.7,503.7L153.1,503.6L153.5,503.5L153.8,503.3L154.2,503.2L154.6,503.0L154.9,502.8L155.3,502.7L155.6,502.5L156.0,502.2L156.3,502.0L156.7,501.8L157.0,501.6L157.4,501.3L157.7,501.1L158.0,500.8L158.3,500.6L158.6,500.4L158.9,500.1L159.2,499.9L159.5,499.6L159.8,499.3L160.1,499.0L160.4,498.8L160.7,498.5L160.9,498.2L161.2,497.9L161.5,497.6L161.7,497.2L162.0,496.9L162.2,496.6L162.5,496.3L162.7,496.0L163.0,495.7L163.2,495.4L163.4,495.0L163.7,494.7L163.9,494.4L164.1,494.0L164.3,493.7L164.6,493.4L164.8,493.0L165.0,492.7L165.2,492.3L165.4,492.0L165.6,491.7L165.8,491.3L166.0,491.0L166.2,490.6L166.4,490.3L166.6,489.9L166.7,489.6L166.9,489.2L167.1,488.8L167.3,488.5L167.4,488.1L167.6,487.8L167.8,487.4L168.0,487.0L168.1,486.7L168.3,486.3L168.4,485.9L168.6,485.6L168.8,485.2L168.9,484.8L169.1,484.5L169.2,484.1L169.4,483.7L169.5,483.3L169.7,483.0L169.8,482.6L170.0,482.2L170.1,481.9L170.2,481.5L170.4,481.1L170.5,480.7L170.7,480.4L170.8,480.0L170.9,479.6L171.1,479.2L171.2,478.9L171.3,478.5L171.5,478.1L171.6,477.7L171.7,477.4L171.9,477.0L172.0,476.6L172.1,476.2L172.2,475.8L172.4,475.5L172.5,475.1L172.6,474.7L172.7,474.3L172.9,473.9L173.0,473.6L173.1,473.2L173.2,472.8L173.3,472.4L173.5,472.0L173.6,471.6L173.7,471.3L173.8,470.9L173.9,470.5L174.0,470.1L174.2,469.7L174.3,469.4L174.4,469.0L174.5,468.6L174.6,468.2L174.7,467.8L174.8,467.4L174.9,467.1L175.1,466.7L175.2,466.3L175.3,465.9L175.4,465.5L175.5,465.1L175.6,464.7L175.7,464.4L175.8,464.0L175.9,463.6L176.0,463.2L176.1,462.8L176.2,462.4L176.3,462.0L176.4,461.7L176.5,461.3L176.6,460.9L176.7,460.5L176.8,460.1L176.9,459.7L177.0,459.3L177.1,458.9L177.2,458.5L177.3,458.2L177.3,457.8L177.4,457.4L177.5,457.0L177.6,456.6L177.7,456.2L177.8,455.8L177.9,455.4L178.0,455.0L178.1,454.7L178.2,454.3L178.3,453.9L178.3,453.5L178.4,453.1L178.5,452.7L178.6,452.3L178.7,451.9L178.8,451.5L178.9,451.2L179.0,450.8L179.1,450.4L179.2,450.0L179.3,449.6L179.4,449.2L179.5,448.8L179.6,448.4L179.7,448.0L179.7,447.7L179.8,447.3L179.9,446.9L180.0,446.5L180.1,446.1L180.2,445.7L180.3,445.3L180.4,444.9L180.5,444.6L180.6,444.2L180.7,443.8L180.8,443.4L180.9,443.0L181.0,442.6L181.1,442.2L181.2,441.8L181.3,441.5L181.4,441.1L181.5,440.7L181.6,440.3L181.7,439.9L181.8,439.5L181.9,439.1L182.0,438.7L182.1,438.4L182.2,438.0L182.3,437.6L182.4,437.2L182.5,436.8L182.6,436.4L182.7,436.0L182.8,435.7L182.9,435.3L183.0,434.9L183.1,434.5L183.2,434.1L183.3,433.7L183.4,433.3L183.5,432.9L183.6,432.6L183.7,432.2L183.8,431.8L183.9,431.4L184.0,431.0L184.1,430.6L184.2,430.2L184.4,429.9L184.5,429.5L184.6,429.1L184.7,428.7L184.8,428.3L184.9,427.9L185.0,427.6L185.1,427.2L185.2,426.8L185.4,426.4L185.5,426.0L185.6,425.6L185.7,425.3L185.8,424.9L186.0,424.5L186.1,424.1L186.2,423.8L186.3,423.4L186.5,423.0L186.6,422.6L186.7,422.2L186.9,421.9L187.0,421.5L187.2,421.1L187.3,420.7L187.4,420.4L187.6,420.0L187.7,419.6L187.9,419.2L188.0,418.9L188.2,418.5L188.3,418.1L188.5,417.7L188.6,417.4L188.8,417.0L188.9,416.6L189.1,416.3L189.3,415.9L189.4,415.5L189.6,415.2L189.8,414.8L190.0,414.5L190.1,414.1L190.3,413.8L190.5,413.4L190.7,413.1L190.9,412.7L191.1,412.4L191.3,412.0L191.5,411.7L191.7,411.3L191.9,411.0L192.1,410.6L192.3,410.3L192.5,409.9L192.7,409.6L192.9,409.2L193.2,408.9L193.4,408.6L193.6,408.2L193.9,407.9L194.1,407.6L194.3,407.2L194.6,406.9L194.8,406.6L195.1,406.3L195.3,406.0L195.6,405.7L195.9,405.4L196.1,405.1L196.4,404.8L196.6,404.6L196.9,404.3L197.2,404.0L197.5,403.8L197.8,403.5L198.1,403.2L198.4,403.0L198.7,402.7L199.0,402.5L199.3,402.2L199.6,402.0L200.0,401.8L200.3,401.5L200.6,401.3L201.0,401.1L201.3,400.8L201.7,400.6L202.0,400.4L202.3,400.2L202.7,400.0L203.0,399.8L203.4,399.5L203.7,399.3L204.1,399.1L204.4,398.9L204.8,398.7L205.1,398.5L205.5,398.4L205.8,398.2L206.2,398.0L206.5,397.8L206.9,397.6L207.2,397.4L207.6,397.3L208.0,397.1L208.3,396.9L208.7,396.7L209.1,396.6L209.4,396.4L209.8,396.3L210.2,396.1L210.5,396.0L210.9,395.8L211.3,395.7L211.7,395.5L212.0,395.4L212.4,395.3L212.8,395.1L213.2,395.0L213.5,394.9L213.9,394.8L214.3,394.6L214.7,394.5L215.1,394.4L215.4,394.3L215.8,394.2L216.2,394.1L216.6,394.0L217.0,393.9L217.4,393.8L217.8,393.7L218.2,393.6L218.5,393.5L218.9,393.4L219.3,393.3L219.7,393.2L220.1,393.1L220.5,393.0L220.9,392.9L221.3,392.8L221.7,392.7L222.0,392.6L222.4,392.5L222.8,392.5L223.2,392.4L223.6,392.3L224.0,392.2L224.4,392.1L224.8,392.0L225.2,392.0L225.6,391.9L226.0,391.8L226.3,391.7L226.7,391.7L227.1,391.6L227.5,391.5L227.9,391.4L228.3,391.4L228.7,391.3L229.1,391.2L229.5,391.1L229.9,391.1L230.3,391.0L230.7,390.9L231.1,390.9L231.5,390.8L231.9,390.7L232.2,390.7L232.6,390.6L233.0,390.5L233.4,390.4L233.8,390.4L234.2,390.3L234.6,390.2L235.0,390.1L235.4,390.0L235.8,389.9L236.2,389.9L236.5,389.8L236.9,389.7L237.3,389.6L237.7,389.5L238.1,389.4L238.5,389.3L238.9,389.2L239.3,389.1L239.6,389.0L240.0,388.9L240.4,388.8L240.8,388.7L241.2,388.6L241.6,388.5L242.0,388.4L242.4,388.3L242.7,388.2L243.1,388.1L243.5,388.0L243.9,387.9L244.3,387.8L244.7,387.7L245.1,387.6L245.4,387.5L245.8,387.4L246.2,387.3L246.6,387.2L247.0,387.1L247.4,387.0L247.8,386.8L248.1,386.7L248.5,386.6L248.9,386.5L249.3,386.4L249.7,386.3L250.1,386.2L250.5,386.1L250.9,386.0L251.2,385.9L251.6,385.8L252.0,385.7L252.4,385.6L252.8,385.6L253.2,385.5L253.6,385.4L254.0,385.3L254.3,385.2L254.7,385.1L255.1,385.0L255.5,384.9L255.9,384.8L256.3,384.7L256.7,384.6L257.1,384.5L257.4,384.4L257.8,384.3L258.2,384.2L258.6,384.1L259.0,384.0L259.4,383.9L259.8,383.8L260.2,383.7L260.6,383.7L260.9,383.6L261.3,383.5L261.7,383.4L262.1,383.3L262.5,383.2L262.9,383.1L263.3,383.0L263.7,382.9L264.0,382.8L264.4,382.7L264.8,382.6L265.2,382.5L265.6,382.4L266.0,382.3L266.4,382.2L266.8,382.1L267.2,382.0L267.5,382.0L267.9,381.9L268.3,381.8L268.7,381.7L269.1,381.6L269.5,381.5L269.9,381.4L270.3,381.3L270.6,381.2L271.0,381.1L271.4,381.0L271.8,380.9L272.2,380.8L272.6,380.7L273.0,380.6L273.4,380.5L273.8,380.4L274.1,380.3L274.5,380.3L274.9,380.2L275.3,380.1L275.7,380.0L276.1,379.9L276.5,379.8L276.9,379.7L277.2,379.6L277.6,379.5L278.0,379.4L278.4,379.3L278.8,379.2L279.2,379.1L279.6,379.0L280.0,378.9L280.4,378.8L280.7,378.7L281.1,378.6L281.5,378.5L281.9,378.5L282.3,378.4L282.7,378.3L283.1,378.2L283.5,378.1L283.8,378.0L284.2,377.9L284.6,377.8L285.0,377.7L285.4,377.6" fill="none" stroke="#d62728" stroke-width="2.5" stroke-linejoin="round" stroke-linecap="square" clip-path="url(#cc)"/>
<line x1="59.20" y1="536.40" x2="59.20" y2="541.40" stroke="#000" stroke-width="1.1" />
<text x="49.32" y="554.90" font-size="10.76" textLength="19.75" lengthAdjust="spacingAndGlyphs">700</text>
<line x1="93.90" y1="536.40" x2="93.90" y2="541.40" stroke="#000" stroke-width="1.1" />
<text x="84.02" y="554.90" font-size="10.76" textLength="19.75" lengthAdjust="spacingAndGlyphs">720</text>
<line x1="128.60" y1="536.40" x2="128.60" y2="541.40" stroke="#000" stroke-width="1.1" />
<text x="118.72" y="554.90" font-size="10.76" textLength="19.75" lengthAdjust="spacingAndGlyphs">740</text>
<line x1="163.30" y1="536.40" x2="163.30" y2="541.40" stroke="#000" stroke-width="1.1" />
<text x="153.42" y="554.90" font-size="10.76" textLength="19.75" lengthAdjust="spacingAndGlyphs">760</text>
<line x1="198.00" y1="536.40" x2="198.00" y2="541.40" stroke="#000" stroke-width="1.1" />
<text x="188.12" y="554.90" font-size="10.76" textLength="19.75" lengthAdjust="spacingAndGlyphs">780</text>
<line x1="232.70" y1="536.40" x2="232.70" y2="541.40" stroke="#000" stroke-width="1.1" />
<text x="222.82" y="554.90" font-size="10.76" textLength="19.75" lengthAdjust="spacingAndGlyphs">800</text>
<line x1="267.40" y1="536.40" x2="267.40" y2="541.40" stroke="#000" stroke-width="1.1" />
<text x="257.52" y="554.90" font-size="10.76" textLength="19.75" lengthAdjust="spacingAndGlyphs">820</text>
<line x1="302.10" y1="536.40" x2="302.10" y2="541.40" stroke="#000" stroke-width="1.1" />
<text x="292.22" y="554.90" font-size="10.76" textLength="19.75" lengthAdjust="spacingAndGlyphs">840</text>
<line x1="54.20" y1="317.50" x2="59.20" y2="317.50" stroke="#000" stroke-width="1.1" />
<text x="18.97" y="321.80" font-size="10.76" textLength="29.63" lengthAdjust="spacingAndGlyphs">1.075</text>
<line x1="54.20" y1="353.98" x2="59.20" y2="353.98" stroke="#000" stroke-width="1.1" />
<text x="18.97" y="358.28" font-size="10.76" textLength="29.63" lengthAdjust="spacingAndGlyphs">1.050</text>
<line x1="54.20" y1="390.47" x2="59.20" y2="390.47" stroke="#000" stroke-width="1.1" />
<text x="18.97" y="394.77" font-size="10.76" textLength="29.63" lengthAdjust="spacingAndGlyphs">1.025</text>
<line x1="54.20" y1="426.95" x2="59.20" y2="426.95" stroke="#000" stroke-width="1.1" />
<text x="18.97" y="431.25" font-size="10.76" textLength="29.63" lengthAdjust="spacingAndGlyphs">1.000</text>
<line x1="54.20" y1="463.43" x2="59.20" y2="463.43" stroke="#000" stroke-width="1.1" />
<text x="18.97" y="467.73" font-size="10.76" textLength="29.63" lengthAdjust="spacingAndGlyphs">0.975</text>
<line x1="54.20" y1="499.92" x2="59.20" y2="499.92" stroke="#000" stroke-width="1.1" />
<text x="18.97" y="504.22" font-size="10.76" textLength="29.63" lengthAdjust="spacingAndGlyphs">0.950</text>
<line x1="54.20" y1="536.40" x2="59.20" y2="536.40" stroke="#000" stroke-width="1.1" />
<text x="18.97" y="540.70" font-size="10.76" textLength="29.63" lengthAdjust="spacingAndGlyphs">0.925</text>
<line x1="302.10" y1="317.50" x2="307.10" y2="317.50" stroke="#000" stroke-width="1.1" />
<line x1="302.10" y1="353.98" x2="307.10" y2="353.98" stroke="#000" stroke-width="1.1" />
<line x1="302.10" y1="390.47" x2="307.10" y2="390.47" stroke="#000" stroke-width="1.1" />
<line x1="302.10" y1="426.95" x2="307.10" y2="426.95" stroke="#000" stroke-width="1.1" />
<line x1="302.10" y1="463.43" x2="307.10" y2="463.43" stroke="#000" stroke-width="1.1" />
<line x1="302.10" y1="499.92" x2="307.10" y2="499.92" stroke="#000" stroke-width="1.1" />
<line x1="302.10" y1="536.40" x2="307.10" y2="536.40" stroke="#000" stroke-width="1.1" />
<text x="312.4" y="320.9" font-size="10.76" font-style="italic" textLength="6.2" lengthAdjust="spacingAndGlyphs">π</text>
<text x="314.80" y="353.78" font-size="6.86" font-style="italic" text-anchor="middle">π</text>
<line x1="312.40" y1="355.78" x2="317.20" y2="355.78" stroke="#000" stroke-width="0.7" />
<text x="314.80" y="361.58" font-size="6.86" text-anchor="middle">2</text>
<text x="312.40" y="394.77" font-size="10.76" textLength="6.58" lengthAdjust="spacingAndGlyphs">0</text>
<line x1="313.10" y1="428.05" x2="319.90" y2="428.05" stroke="#000" stroke-width="0.9" />
<text x="323.00" y="426.75" font-size="6.86" font-style="italic" text-anchor="middle">π</text>
<line x1="320.40" y1="428.75" x2="325.60" y2="428.75" stroke="#000" stroke-width="0.7" />
<text x="323.00" y="434.55" font-size="6.86" text-anchor="middle">2</text>
<line x1="313.10" y1="464.03" x2="319.90" y2="464.03" stroke="#000" stroke-width="0.9" />
<text x="320.6" y="467.33" font-size="10.76" font-style="italic" textLength="6.2" lengthAdjust="spacingAndGlyphs">π</text>
<line x1="313.10" y1="501.22" x2="319.90" y2="501.22" stroke="#000" stroke-width="0.9" />
<text x="325.65" y="499.22" font-size="6.86" text-anchor="middle" textLength="9.6" lengthAdjust="spacingAndGlyphs">3<tspan font-style="italic">π</tspan></text>
<line x1="320.80" y1="501.82" x2="330.50" y2="501.82" stroke="#000" stroke-width="0.7" />
<text x="325.65" y="508.32" font-size="6.86" text-anchor="middle">2</text>
<line x1="313.10" y1="536.10" x2="319.90" y2="536.10" stroke="#000" stroke-width="0.9" />
<text x="320.4" y="539.00" font-size="10.76" textLength="13.2" lengthAdjust="spacingAndGlyphs">2<tspan font-style="italic">π</tspan></text>
<text x="161.36" y="571.20" font-size="12.17" textLength="38.58" lengthAdjust="spacingAndGlyphs">λ (nm)</text>
<text x="25.40" y="300.00" font-size="11.56" textLength="5.93" lengthAdjust="spacingAndGlyphs" font-weight="bold">c</text>
<g transform="translate(9.40,427.00) rotate(-90)"><text x="-36.94" y="0" font-size="12.17" textLength="11.33" lengthAdjust="spacingAndGlyphs" xml:space="preserve">|E</text><text x="-25.61" y="2.1" font-size="8.52" textLength="18.75" lengthAdjust="spacingAndGlyphs" xml:space="preserve">r, TE</text><text x="-6.86" y="0" font-size="12.17" textLength="19.22" lengthAdjust="spacingAndGlyphs" xml:space="preserve">|/|E</text><text x="12.36" y="2.1" font-size="8.52" textLength="20.64" lengthAdjust="spacingAndGlyphs" xml:space="preserve">r, TM</text><text x="33.00" y="0" font-size="12.17" textLength="3.94" lengthAdjust="spacingAndGlyphs" xml:space="preserve">|</text></g>
<g transform="translate(349.00,427.50) rotate(-90)"><text x="-79.17" y="0" font-size="12.17" textLength="30.89" lengthAdjust="spacingAndGlyphs" xml:space="preserve">arg(E</text><text x="-48.27" y="2.1" font-size="8.52" textLength="18.47" lengthAdjust="spacingAndGlyphs" xml:space="preserve">r, TE</text><text x="-29.80" y="0" font-size="12.17" textLength="52.37" lengthAdjust="spacingAndGlyphs" xml:space="preserve">) − arg(E</text><text x="22.57" y="2.1" font-size="8.52" textLength="20.33" lengthAdjust="spacingAndGlyphs" xml:space="preserve">r, TM</text><text x="42.90" y="0" font-size="12.17" textLength="36.27" lengthAdjust="spacingAndGlyphs" xml:space="preserve">) (rad)</text></g>
<rect x="62.20" y="509.60" width="236.60" height="20.40" rx="2.2" ry="2.2" fill="#fff" stroke="#cccccc" stroke-width="1.1"/>
<line x1="66.50" y1="519.40" x2="79.30" y2="519.40" stroke="#1f77b4" stroke-width="2.5" stroke-linecap="butt"/>
<text x="81.40" y="523.50" font-size="12.06" textLength="89.88" lengthAdjust="spacingAndGlyphs">Amplitude ratio</text>
<line x1="181.10" y1="519.40" x2="193.90" y2="519.40" stroke="#d62728" stroke-width="2.5" stroke-linecap="butt"/>
<text x="196.30" y="523.50" font-size="12.06" textLength="96.99" lengthAdjust="spacingAndGlyphs">Phase difference</text>
</g>
<g>
<line x1="433.20" y1="317.50" x2="433.20" y2="536.40" stroke="#b0b0b0" stroke-width="1.1" />
<line x1="467.84" y1="317.50" x2="467.84" y2="536.40" stroke="#b0b0b0" stroke-width="1.1" />
<line x1="502.49" y1="317.50" x2="502.49" y2="536.40" stroke="#b0b0b0" stroke-width="1.1" />
<line x1="537.13" y1="317.50" x2="537.13" y2="536.40" stroke="#b0b0b0" stroke-width="1.1" />
<line x1="571.77" y1="317.50" x2="571.77" y2="536.40" stroke="#b0b0b0" stroke-width="1.1" />
<line x1="606.41" y1="317.50" x2="606.41" y2="536.40" stroke="#b0b0b0" stroke-width="1.1" />
<line x1="641.06" y1="317.50" x2="641.06" y2="536.40" stroke="#b0b0b0" stroke-width="1.1" />
<line x1="675.70" y1="317.50" x2="675.70" y2="536.40" stroke="#b0b0b0" stroke-width="1.1" />
<line x1="433.20" y1="321.70" x2="675.70" y2="321.70" stroke="#b0b0b0" stroke-width="1.1" />
<line x1="433.20" y1="357.44" x2="675.70" y2="357.44" stroke="#b0b0b0" stroke-width="1.1" />
<line x1="433.20" y1="393.18" x2="675.70" y2="393.18" stroke="#b0b0b0" stroke-width="1.1" />
<line x1="433.20" y1="428.92" x2="675.70" y2="428.92" stroke="#b0b0b0" stroke-width="1.1" />
<line x1="433.20" y1="464.66" x2="675.70" y2="464.66" stroke="#b0b0b0" stroke-width="1.1" />
<line x1="433.20" y1="500.40" x2="675.70" y2="500.40" stroke="#b0b0b0" stroke-width="1.1" />
<line x1="433.20" y1="536.14" x2="675.70" y2="536.14" stroke="#b0b0b0" stroke-width="1.1" />
<path d="M433.2,357.3L433.6,357.3L434.0,357.4L434.4,357.4L434.8,357.4L435.2,357.5L435.6,357.5L436.0,357.5L436.4,357.6L436.8,357.6L437.2,357.6L437.6,357.7L438.0,357.7L438.4,357.7L438.8,357.8L439.2,357.8L439.6,357.8L440.0,357.9L440.4,357.9L440.8,357.9L441.2,357.9L441.6,357.9L442.0,357.9L442.4,358.0L442.8,358.0L443.2,358.0L443.6,358.0L444.0,358.0L444.4,358.0L444.8,358.0L445.2,358.0L445.6,358.0L446.0,358.0L446.4,358.0L446.8,358.0L447.2,358.0L447.6,358.0L448.0,358.0L448.4,357.9L448.8,357.9L449.2,357.9L449.6,357.9L450.0,357.9L450.4,357.9L450.8,357.8L451.2,357.8L451.6,357.8L452.0,357.7L452.4,357.7L452.8,357.7L453.1,357.6L453.5,357.6L453.9,357.6L454.3,357.5L454.7,357.5L455.1,357.4L455.5,357.4L455.9,357.4L456.3,357.3L456.7,357.3L457.1,357.2L457.5,357.2L457.9,357.1L458.3,357.1L458.7,357.0L459.1,357.0L459.5,356.9L459.9,356.8L460.3,356.8L460.7,356.7L461.1,356.6L461.5,356.5L461.9,356.4L462.2,356.4L462.6,356.3L463.0,356.2L463.4,356.1L463.8,356.0L464.2,355.9L464.6,355.8L465.0,355.6L465.3,355.5L465.7,355.4L466.1,355.3L466.5,355.1L466.9,355.0L467.2,354.9L467.6,354.7L468.0,354.6L468.3,354.5L468.7,354.3L469.1,354.2L469.5,354.0L469.8,353.8L470.2,353.7L470.6,353.5L470.9,353.4L471.3,353.2L471.7,353.0L472.0,352.9L472.4,352.7L472.8,352.6L473.1,352.4L473.5,352.2L473.9,352.1L474.2,351.9L474.6,351.7L475.0,351.6L475.3,351.4L475.7,351.2L476.1,351.1L476.4,350.9L476.8,350.8L477.2,350.7L477.5,350.5L477.9,350.4L478.3,350.3L478.7,350.2L479.1,350.1L479.5,350.0L479.9,349.9L480.2,349.8L480.6,349.7L481.0,349.6L481.4,349.5L481.8,349.5L482.2,349.4L482.6,349.4L483.0,349.4L483.4,349.3L483.8,349.3L484.2,349.3L484.6,349.2L485.0,349.2L485.4,349.2L485.8,349.1L486.2,349.1L486.6,349.1L487.0,349.1L487.4,349.1L487.8,349.1L488.2,349.1L488.6,349.1L489.0,349.2L489.4,349.2L489.8,349.2L490.2,349.3L490.6,349.3L491.0,349.4L491.4,349.4L491.8,349.5L492.2,349.5L492.6,349.6L493.0,349.7L493.3,349.7L493.7,349.8L494.1,349.9L494.5,350.0L494.9,350.1L495.3,350.2L495.7,350.3L496.1,350.4L496.5,350.5L496.8,350.6L497.2,350.7L497.6,350.8L498.0,350.9L498.4,351.0L498.8,351.1L499.2,351.2L499.6,351.3L499.9,351.4L500.3,351.5L500.7,351.6L501.1,351.7L501.5,351.8L501.9,351.9L502.3,352.0L502.7,352.1L503.0,352.2L503.4,352.3L503.8,352.4L504.2,352.5L504.6,352.6L505.0,352.7L505.4,352.7L505.8,352.8L506.2,352.9L506.5,353.0L506.9,353.1L507.3,353.2L507.7,353.3L508.1,353.4L508.5,353.5L508.9,353.6L509.3,353.6L509.7,353.7L510.1,353.8L510.5,353.9L510.8,353.9L511.2,354.0L511.6,354.1L512.0,354.2L512.4,354.3L512.8,354.3L513.2,354.4L513.6,354.5L514.0,354.5L514.4,354.6L514.8,354.7L515.2,354.7L515.6,354.8L516.0,354.8L516.4,354.8L516.8,354.9L517.2,354.9L517.6,354.9L518.0,355.0L518.4,355.0L518.8,355.0L519.2,355.1L519.6,355.1L520.0,355.1L520.4,355.2L520.8,355.2L521.2,355.2L521.6,355.2L522.0,355.2L522.3,355.2L522.7,355.2L523.1,355.2L523.5,355.2L523.9,355.1L524.3,355.1L524.7,355.1L525.1,355.1L525.5,355.0L525.9,355.0L526.3,355.0L526.7,354.9L527.1,354.9L527.5,354.8L527.9,354.8L528.3,354.8L528.7,354.7L529.1,354.7L529.5,354.6L529.9,354.5L530.3,354.5L530.7,354.4L531.1,354.3L531.5,354.2L531.9,354.2L532.3,354.1L532.7,354.0L533.1,353.9L533.4,353.8L533.8,353.8L534.2,353.7L534.6,353.6L535.0,353.5L535.4,353.4L535.8,353.3L536.2,353.2L536.6,353.2L537.0,353.1L537.3,353.0L537.7,352.9L538.1,352.8L538.5,352.7L538.9,352.6L539.3,352.5L539.7,352.4L540.1,352.3L540.5,352.3L540.9,352.2L541.2,352.1L541.6,352.0L542.0,351.9L542.4,351.8L542.8,351.7L543.2,351.6L543.6,351.5L544.0,351.4L544.3,351.3L544.7,351.2L545.1,351.1L545.5,351.0L545.9,350.9L546.3,350.8L546.7,350.7L547.1,350.6L547.5,350.5L547.8,350.5L548.2,350.4L548.6,350.3L549.0,350.2L549.4,350.1L549.8,350.0L550.2,349.9L550.5,349.8L550.9,349.6L551.3,349.5L551.7,349.4L552.1,349.3L552.5,349.2L552.9,349.1L553.2,349.0L553.6,348.9L554.0,348.8L554.4,348.7L554.8,348.6L555.2,348.5L555.6,348.4L555.9,348.3L556.3,348.2L556.7,348.1L557.1,348.0L557.5,347.9L557.9,347.8L558.3,347.7L558.7,347.6L559.1,347.6L559.5,347.5L559.9,347.4L560.2,347.4L560.6,347.3L561.0,347.2L561.4,347.2L561.8,347.1L562.2,347.0L562.6,346.9L563.0,346.9L563.4,346.8L563.8,346.8L564.2,346.7L564.6,346.7L565.0,346.6L565.4,346.6L565.8,346.5L566.2,346.5L566.6,346.5L567.0,346.5L567.4,346.5L567.8,346.5L568.2,346.5L568.6,346.5L569.0,346.5L569.4,346.5L569.8,346.5L570.2,346.5L570.6,346.5L571.0,346.5L571.4,346.5L571.8,346.5L572.2,346.5L572.6,346.5L573.0,346.5L573.4,346.6L573.8,346.6L574.2,346.6L574.6,346.6L575.0,346.6L575.4,346.6L575.8,346.6L576.2,346.6L576.6,346.7L576.9,346.8L577.3,346.9L577.7,347.0L578.1,347.2L578.5,347.3L578.9,347.5L579.2,347.6L579.6,347.8L580.0,347.9L580.4,348.0L580.7,348.2L581.1,348.3L581.5,348.4L581.9,348.6L582.2,348.7L582.6,348.9L583.0,349.0L583.4,349.2L583.7,349.3L584.1,349.5L584.5,349.6L584.8,349.8L585.2,350.0L585.6,350.1L585.9,350.3L586.3,350.5L586.6,350.7L587.0,350.9L587.3,351.1L587.7,351.3L588.0,351.5L588.3,351.7L588.7,351.9L589.0,352.1L589.3,352.3L589.7,352.6L590.0,352.8L590.3,353.0L590.7,353.3L591.0,353.5L591.3,353.7L591.6,354.0L591.9,354.2L592.3,354.5L592.6,354.7L592.9,354.9L593.2,355.2L593.5,355.4L593.8,355.7L594.2,355.9L594.5,356.2L594.8,356.4L595.1,356.7L595.4,357.0L595.7,357.2L596.0,357.5L596.3,357.7L596.6,358.0L596.9,358.3L597.2,358.5L597.5,358.8L597.8,359.1L598.1,359.3L598.4,359.6L598.7,359.8L599.0,360.1L599.3,360.3L599.6,360.6L600.0,360.8L600.3,361.1L600.6,361.3L600.9,361.6L601.2,361.8L601.5,362.1L601.8,362.3L602.1,362.6L602.4,362.8L602.8,363.1L603.1,363.4L603.4,363.6L603.7,363.9L604.0,364.1L604.3,364.4L604.6,364.6L604.9,364.9L605.2,365.2L605.5,365.4L605.8,365.7L606.1,366.0L606.3,366.3L606.6,366.6L606.9,366.8L607.2,367.1L607.5,367.4L607.7,367.7L608.0,368.0L608.3,368.3L608.6,368.6L608.8,368.9L609.1,369.2L609.4,369.4L609.7,369.7L610.0,370.0L610.2,370.3L610.5,370.6L610.8,370.9L611.1,371.1L611.4,371.4L611.7,371.7L612.0,371.9L612.3,372.2L612.6,372.4L612.9,372.7L613.2,373.0L613.5,373.2L613.8,373.5L614.1,373.7L614.4,374.0L614.8,374.2L615.1,374.5L615.4,374.7L615.7,375.0L616.0,375.2L616.3,375.5L616.6,375.7L616.9,376.0L617.3,376.2L617.6,376.5L617.9,376.7L618.2,377.0L618.5,377.3L618.8,377.5L619.1,377.8L619.4,378.1L619.7,378.3L620.0,378.6L620.3,378.9L620.6,379.1L620.9,379.4L621.2,379.7L621.5,379.9L621.8,380.2L622.1,380.5L622.4,380.7L622.7,381.0L623.0,381.2L623.3,381.4L623.7,381.7L624.0,381.9L624.3,382.1L624.6,382.3L625.0,382.6L625.3,382.8L625.7,383.0L626.0,383.2L626.3,383.4L626.7,383.7L627.0,383.9L627.4,384.0L627.8,384.2L628.1,384.4L628.5,384.5L628.9,384.7L629.2,384.8L629.6,384.9L630.0,385.0L630.4,385.2L630.8,385.3L631.2,385.4L631.6,385.4L631.9,385.5L632.3,385.5L632.7,385.5L633.1,385.5L633.5,385.5L633.9,385.5L634.3,385.5L634.7,385.5L635.1,385.5L635.5,385.5L635.9,385.5L636.3,385.5L636.7,385.5L637.1,385.5L637.6,385.4L638.0,385.4L638.4,385.3L638.8,385.2L639.2,385.1L639.5,385.0L639.9,384.9L640.2,384.8L640.6,384.6L640.9,384.3L641.2,384.1L641.5,383.8L641.8,383.5L642.1,383.2L642.4,383.0L642.7,382.7L643.1,382.5L643.4,382.3L643.7,382.1L644.0,381.8L644.4,381.6L644.7,381.4L645.0,381.2L645.4,380.9L645.7,380.7L646.1,380.5L646.4,380.3L646.7,380.1L647.1,379.9L647.4,379.7L647.7,379.4L648.1,379.2L648.4,379.0L648.8,378.8L649.1,378.6L649.5,378.4L649.8,378.2L650.1,378.0L650.5,377.8L650.8,377.6L651.2,377.4L651.5,377.2L651.9,377.0L652.2,376.8L652.6,376.6L652.9,376.4L653.3,376.2L653.6,376.0L654.0,375.8L654.3,375.6L654.7,375.5L655.0,375.3L655.4,375.1L655.7,374.9L656.1,374.7L656.4,374.5L656.8,374.3L657.1,374.1L657.5,374.0L657.9,373.8L658.2,373.6L658.6,373.4L658.9,373.3L659.3,373.1" fill="none" stroke="#1f77b4" stroke-width="2.5" stroke-linejoin="round" stroke-linecap="square" clip-path="url(#cd)"/>
<path d="M433.2,347.2L433.6,347.3L434.0,347.3L434.4,347.4L434.8,347.4L435.2,347.5L435.6,347.6L436.0,347.6L436.4,347.7L436.8,347.7L437.2,347.7L437.6,347.8L438.0,347.8L438.4,347.9L438.8,347.9L439.2,347.9L439.6,347.9L440.0,347.9L440.4,348.0L440.8,348.0L441.2,348.0L441.6,348.0L442.0,348.0L442.4,348.0L442.8,348.1L443.2,348.1L443.5,348.1L443.9,348.2L444.3,348.3L444.7,348.4L445.1,348.6L445.4,348.7L445.8,348.9L446.2,349.1L446.5,349.3L446.9,349.5L447.3,349.6L447.6,349.8L448.0,349.9L448.4,350.1L448.7,350.3L449.1,350.4L449.4,350.6L449.8,350.8L450.1,351.0L450.5,351.2L450.8,351.4L451.2,351.6L451.5,351.9L451.8,352.1L452.1,352.3L452.5,352.6L452.7,352.9L453.0,353.1L453.3,353.4L453.6,353.7L453.8,354.0L454.1,354.3L454.3,354.6L454.6,355.0L454.8,355.3L455.1,355.6L455.3,355.9L455.6,356.2L455.8,356.6L456.0,356.9L456.2,357.2L456.5,357.5L456.7,357.9L456.9,358.2L457.1,358.6L457.3,358.9L457.5,359.2L457.7,359.6L458.0,359.9L458.2,360.3L458.4,360.6L458.6,360.9L458.8,361.3L459.0,361.6L459.3,361.9L459.5,362.3L459.7,362.6L459.9,362.9L460.2,363.2L460.4,363.6L460.7,363.9L460.9,364.2L461.2,364.5L461.4,364.8L461.7,365.1L462.0,365.4L462.3,365.7L462.6,365.9L462.9,366.2L463.2,366.5L463.5,366.7L463.8,366.9L464.2,367.1L464.5,367.3L464.9,367.5L465.2,367.7L465.6,367.9L466.0,368.0L466.4,368.1L466.8,368.1L467.2,368.2L467.5,368.2L467.9,368.1L468.3,368.0L468.7,367.8L469.1,367.7L469.4,367.5L469.7,367.2L470.1,367.0L470.4,366.8L470.7,366.5L470.9,366.2L471.2,365.9L471.5,365.6L471.7,365.3L472.0,365.0L472.2,364.7L472.5,364.3L472.7,364.0L472.9,363.7L473.2,363.4L473.4,363.0L473.6,362.7L473.9,362.4L474.1,362.0L474.3,361.7L474.6,361.4L474.8,361.1L475.0,360.7L475.2,360.4L475.4,360.0L475.6,359.7L475.8,359.4L476.1,359.0L476.3,358.7L476.5,358.3L476.7,358.0L476.9,357.6L477.1,357.3L477.3,357.0L477.5,356.6L477.6,356.3L477.8,355.9L478.0,355.5L478.2,355.2L478.4,354.8L478.6,354.5L478.7,354.1L478.9,353.8L479.1,353.4L479.3,353.1L479.5,352.7L479.6,352.3L479.8,352.0L480.0,351.6L480.2,351.3L480.3,350.9L480.5,350.5L480.7,350.2L480.8,349.8L481.0,349.4L481.2,349.1L481.3,348.7L481.5,348.4L481.7,348.0L481.8,347.6L482.0,347.3L482.2,346.9L482.4,346.5L482.5,346.2L482.7,345.8L482.9,345.5L483.1,345.1L483.2,344.7L483.4,344.4L483.6,344.0L483.8,343.7L483.9,343.3L484.1,343.0L484.3,342.6L484.5,342.2L484.7,341.9L484.8,341.5L485.0,341.2L485.2,340.8L485.4,340.5L485.6,340.1L485.8,339.8L486.0,339.4L486.2,339.1L486.4,338.7L486.6,338.4L486.8,338.0L487.0,337.7L487.2,337.3L487.4,337.0L487.6,336.6L487.8,336.3L488.0,336.0L488.2,335.6L488.4,335.3L488.6,335.0L488.9,334.6L489.1,334.3L489.3,334.0L489.6,333.6L489.8,333.3L490.0,333.0L490.3,332.7L490.5,332.4L490.8,332.1L491.0,331.8L491.3,331.4L491.6,331.2L491.9,330.9L492.2,330.6L492.5,330.3L492.8,330.1L493.1,329.8L493.4,329.5L493.8,329.3L494.1,329.2L494.5,329.2L494.9,329.2L495.3,329.3L495.7,329.3L496.1,329.4L496.5,329.4L496.8,329.6L497.2,329.8L497.5,330.1L497.8,330.4L498.1,330.7L498.4,330.9L498.7,331.2L499.0,331.5L499.3,331.8L499.6,332.0L499.8,332.3L500.1,332.6L500.4,332.9L500.6,333.2L500.9,333.5L501.2,333.8L501.5,334.1L501.8,334.4L502.1,334.6L502.3,334.9L502.6,335.2L502.9,335.5L503.2,335.8L503.5,336.0L503.8,336.3L504.1,336.6L504.4,336.8L504.7,337.1L505.0,337.4L505.3,337.6L505.6,337.9L505.9,338.1L506.2,338.4L506.5,338.6L506.9,338.9L507.2,339.1L507.5,339.4L507.8,339.6L508.1,339.8L508.5,340.1L508.8,340.3L509.1,340.5L509.5,340.7L509.8,340.9L510.2,341.1L510.5,341.3L510.8,341.5L511.2,341.7L511.5,341.9L511.9,342.1L512.3,342.3L512.6,342.5L513.0,342.7L513.3,342.8L513.7,343.0L514.1,343.2L514.5,343.3L514.8,343.4L515.2,343.6L515.6,343.7L516.0,343.8L516.3,343.9L516.7,344.0L517.1,344.1L517.5,344.2L517.9,344.3L518.3,344.3L518.7,344.4L519.1,344.5L519.5,344.6L519.9,344.6L520.3,344.7L520.7,344.7L521.1,344.8L521.5,344.8L521.9,344.8L522.3,344.8L522.7,344.8L523.1,344.8L523.5,344.8L523.9,344.7L524.3,344.7L524.7,344.7L525.1,344.6L525.5,344.6L525.9,344.6L526.3,344.5L526.7,344.5L527.1,344.4L527.5,344.4L527.9,344.3L528.2,344.3L528.6,344.2L529.0,344.1L529.4,344.0L529.8,343.9L530.2,343.8L530.6,343.7L530.9,343.6L531.3,343.4L531.7,343.3L532.1,343.2L532.5,343.0L532.8,342.9L533.2,342.7L533.6,342.6L534.0,342.5L534.3,342.3L534.7,342.2L535.1,342.0L535.5,341.9L535.8,341.7L536.2,341.6L536.6,341.4L536.9,341.2L537.3,341.1L537.6,340.9L538.0,340.7L538.4,340.5L538.7,340.4L539.1,340.2L539.5,340.0L539.8,339.8L540.2,339.7L540.5,339.5L540.9,339.3L541.2,339.1L541.6,338.9L541.9,338.7L542.3,338.5L542.6,338.4L543.0,338.2L543.3,338.0L543.7,337.8L544.0,337.6L544.4,337.4L544.7,337.2L545.1,337.0L545.4,336.8L545.8,336.6L546.1,336.4L546.5,336.2L546.8,336.0L547.1,335.8L547.5,335.5L547.8,335.3L548.2,335.1L548.5,334.9L548.8,334.7L549.2,334.5L549.5,334.3L549.9,334.1L550.2,333.9L550.5,333.7L550.9,333.4L551.2,333.2L551.6,333.0L551.9,332.8L552.2,332.5L552.6,332.3L552.9,332.2L553.3,332.0L553.6,331.8L554.0,331.7L554.4,331.5L554.8,331.4L555.2,331.3L555.6,331.2L555.9,331.1L556.3,331.0L556.7,331.0L557.1,331.0L557.5,331.0L558.0,331.1L558.4,331.1L558.8,331.2L559.2,331.2L559.6,331.3L559.9,331.4L560.2,331.5L560.6,331.6L560.9,331.8L561.2,332.0L561.5,332.2L561.8,332.5L562.0,332.7L562.3,333.0L562.6,333.4L562.8,333.7L563.1,334.1L563.4,334.4L563.6,334.8L563.9,335.2L564.1,335.5L564.4,335.9L564.6,336.2L564.9,336.6L565.1,336.9L565.4,337.2L565.6,337.5L565.8,337.8L566.1,338.1L566.3,338.5L566.6,338.8L566.8,339.1L567.0,339.4L567.2,339.8L567.5,340.1L567.7,340.4L567.9,340.8L568.1,341.1L568.4,341.4L568.6,341.8L568.8,342.1L569.0,342.4L569.3,342.8L569.5,343.1L569.7,343.4L569.9,343.8L570.2,344.1L570.4,344.4L570.7,344.7L570.9,345.0L571.2,345.3L571.4,345.7L571.7,346.0L571.9,346.3L572.2,346.6L572.4,346.9L572.7,347.2L572.9,347.5L573.2,347.8L573.5,348.1L573.7,348.4L574.0,348.7L574.2,349.0L574.5,349.3L574.7,349.6L575.0,349.9L575.3,350.3L575.5,350.6L575.8,350.9L576.0,351.2L576.3,351.5L576.5,351.8L576.8,352.1L577.0,352.4L577.3,352.7L577.5,353.0L577.8,353.4L578.0,353.7L578.3,354.0L578.5,354.3L578.8,354.6L579.0,354.9L579.3,355.2L579.5,355.6L579.7,355.9L580.0,356.2L580.2,356.5L580.5,356.8L580.7,357.1L581.0,357.5L581.2,357.8L581.4,358.1L581.7,358.4L581.9,358.7L582.2,359.1L582.4,359.4L582.6,359.7L582.9,360.0L583.1,360.3L583.3,360.7L583.6,361.0L583.8,361.3L584.0,361.6L584.3,362.0L584.5,362.3L584.8,362.6L585.0,362.9L585.2,363.2L585.5,363.6L585.7,363.9L585.9,364.2L586.2,364.5L586.4,364.9L586.7,365.2L586.9,365.5L587.1,365.8L587.4,366.1L587.6,366.5L587.8,366.8L588.1,367.1L588.3,367.4L588.6,367.8L588.8,368.1L589.0,368.4L589.3,368.7L589.5,369.0L589.7,369.4L590.0,369.7L590.2,370.0L590.5,370.3L590.7,370.6L590.9,371.0L591.2,371.3L591.4,371.6L591.6,371.9L591.9,372.2L592.1,372.6L592.4,372.9L592.6,373.2L592.8,373.5L593.1,373.8L593.3,374.2L593.6,374.5L593.8,374.8L594.1,375.1L594.3,375.4L594.5,375.8L594.8,376.1L595.0,376.4L595.3,376.7L595.5,377.0L595.8,377.3L596.0,377.6L596.3,378.0L596.5,378.3L596.7,378.6L597.0,378.9L597.2,379.2L597.5,379.6L597.7,379.9L598.0,380.2L598.2,380.5L598.4,380.8L598.7,381.1L598.9,381.5L599.2,381.8L599.4,382.1L599.6,382.4L599.9,382.7L600.1,383.1L600.4,383.4L600.6,383.7L600.9,384.0L601.1,384.3L601.4,384.6L601.6,385.0L601.8,385.3L602.1,385.6L602.3,385.9L602.5,386.2L602.8,386.6L603.0,386.9L603.2,387.2L603.5,387.6L603.7,387.9L603.9,388.2L604.1,388.5L604.3,388.9L604.6,389.2L604.8,389.6L605.0,389.9L605.2,390.2L605.4,390.6L605.6,390.9L605.8,391.3L606.0,391.6L606.2,392.0L606.4,392.3L606.6,392.7L606.8,393.0L607.0,393.4L607.2,393.7L607.3,394.1L607.5,394.4L607.7,394.8L607.9,395.1L608.1,395.5L608.3,395.8L608.5,396.2L608.6,396.6L608.8,396.9L609.0,397.3L609.2,397.6L609.4,398.0L609.5,398.3L609.7,398.7L609.9,399.1L610.1,399.4L610.2,399.8L610.4,400.2L610.5,400.5L610.7,400.9L610.9,401.3L611.0,401.6L611.2,402.0L611.3,402.4L611.5,402.7L611.6,403.1L611.8,403.5L611.9,403.8L612.1,404.2L612.2,404.6L612.4,405.0L612.5,405.3L612.6,405.7L612.8,406.1L612.9,406.5L613.1,406.8L613.2,407.2L613.4,407.6L613.5,407.9L613.6,408.3L613.8,408.7L613.9,409.1L614.1,409.4L614.2,409.8L614.4,410.2L614.5,410.6L614.7,410.9L614.8,411.3L614.9,411.7L615.1,412.1L615.2,412.4L615.4,412.8L615.5,413.2L615.6,413.6L615.8,413.9L615.9,414.3L616.1,414.7L616.2,415.1L616.3,415.4L616.5,415.8L616.6,416.2L616.8,416.5L616.9,416.9L617.1,417.3L617.2,417.6L617.4,418.0L617.5,418.4L617.7,418.8L617.9,419.1L618.0,419.5L618.2,419.9L618.3,420.3L618.5,420.6L618.7,421.0L618.8,421.4L619.0,421.7L619.2,422.0L619.4,422.3L619.7,422.6L620.0,422.9L620.3,423.2L620.6,423.4L620.9,423.7L621.3,424.0L621.6,424.3L621.9,424.4L622.3,424.5L622.6,424.4L622.9,424.1L623.2,423.7L623.5,423.4L623.7,423.1L623.9,422.7L624.1,422.4L624.2,422.0L624.4,421.6L624.6,421.3L624.7,420.9L624.8,420.5L625.0,420.1L625.1,419.8L625.3,419.4L625.4,419.0L625.5,418.6L625.7,418.3L625.8,417.9L625.9,417.5L626.1,417.1L626.2,416.7L626.3,416.4L626.4,416.0L626.6,415.6L626.7,415.2L626.8,414.8L626.9,414.4L627.0,414.1L627.1,413.7L627.3,413.3L627.4,412.9L627.5,412.5L627.6,412.1L627.7,411.8L627.8,411.4L627.9,411.0L628.0,410.6L628.1,410.2L628.2,409.8L628.4,409.5L628.5,409.1L628.6,408.7L628.7,408.3L628.8,407.9L629.0,407.5L629.1,407.2L629.2,406.8L629.3,406.4L629.5,406.0L629.6,405.6L629.7,405.3L629.8,404.9L630.0,404.5L630.1,404.1L630.2,403.8L630.4,403.4L630.5,403.0L630.7,402.6L630.8,402.3L630.9,401.9L631.1,401.5L631.2,401.2L631.4,400.8L631.5,400.4L631.7,400.0L631.9,399.7L632.0,399.3L632.2,398.9L632.3,398.6L632.5,398.2L632.6,397.8L632.8,397.5L633.0,397.1L633.1,396.7L633.3,396.4L633.4,396.0L633.6,395.6L633.8,395.3L633.9,394.9L634.1,394.5L634.3,394.2L634.4,393.8L634.6,393.4L634.8,393.1L634.9,392.7L635.1,392.4L635.3,392.0L635.4,391.6L635.6,391.3L635.8,390.9L636.0,390.6L636.2,390.2L636.3,389.9L636.5,389.5L636.7,389.1L636.9,388.8L637.1,388.4L637.3,388.1L637.5,387.7L637.7,387.4L637.9,387.0L638.1,386.7L638.3,386.4L638.5,386.0L638.7,385.7L638.9,385.3L639.1,385.0L639.3,384.6L639.5,384.3L639.7,384.0L639.9,383.6L640.1,383.3L640.4,382.9L640.6,382.6L640.8,382.3L641.0,381.9L641.2,381.6L641.5,381.3L641.7,380.9L641.9,380.6L642.1,380.3L642.4,380.0L642.6,379.6L642.9,379.3L643.1,379.0L643.4,378.7L643.6,378.4L643.9,378.1L644.1,377.8L644.4,377.5L644.7,377.2L644.9,376.9L645.2,376.6L645.5,376.3L645.8,376.0L646.1,375.7L646.3,375.5L646.6,375.2L646.9,374.9L647.2,374.6L647.5,374.4L647.8,374.1L648.1,373.8L648.4,373.6L648.7,373.3L649.0,373.1L649.3,372.8L649.6,372.5L649.9,372.2L650.2,372.0L650.5,371.7L650.8,371.4L651.1,371.1L651.3,370.9L651.6,370.6L651.9,370.3L652.2,370.1L652.5,369.8L652.8,369.5L653.1,369.3L653.5,369.0L653.8,368.8L654.1,368.5L654.4,368.3L654.7,368.0L655.0,367.7L655.2,367.4L655.5,367.2L655.8,366.9L656.1,366.6L656.3,366.3L656.6,366.0L656.9,365.7L657.1,365.4L657.4,365.0L657.6,364.7L657.9,364.4L658.1,364.1L658.4,363.8L658.6,363.5L658.8,363.2L659.1,362.8L659.3,362.5" fill="none" stroke="#ff7f0e" stroke-width="2.5" stroke-linejoin="round" stroke-linecap="square" clip-path="url(#cd)"/>
<path d="M433.2,351.2L433.4,351.6L433.6,351.9L433.7,352.3L433.9,352.6L434.1,353.0L434.2,353.4L434.4,353.7L434.6,354.1L434.7,354.5L434.9,354.8L435.0,355.2L435.2,355.6L435.3,355.9L435.5,356.3L435.6,356.7L435.8,357.0L435.9,357.4L436.1,357.8L436.2,358.2L436.4,358.5L436.5,358.9L436.7,359.3L436.8,359.6L437.0,360.0L437.2,360.4L437.3,360.7L437.5,361.1L437.6,361.5L437.8,361.8L438.0,362.2L438.1,362.6L438.3,362.9L438.5,363.3L438.6,363.7L438.8,364.0L439.0,364.4L439.1,364.7L439.3,365.1L439.5,365.5L439.6,365.8L439.8,366.2L440.0,366.6L440.1,366.9L440.3,367.3L440.5,367.6L440.7,368.0L440.8,368.4L441.0,368.7L441.2,369.1L441.4,369.4L441.7,369.7L441.9,370.1L442.1,370.4L442.4,370.7L442.7,371.0L443.0,371.3L443.3,371.5L443.6,371.7L444.0,371.9L444.4,372.0L444.8,372.1L445.2,372.1L445.5,372.0L445.9,371.9L446.3,371.7L446.7,371.5L447.0,371.3L447.4,371.2L447.7,371.0L448.1,370.8L448.4,370.6L448.8,370.4L449.1,370.1L449.4,369.9L449.8,369.7L450.1,369.5L450.5,369.3L450.8,369.1L451.2,368.9L451.5,368.7L451.9,368.5L452.2,368.3L452.6,368.1L452.9,367.9L453.3,367.8L453.6,367.5L453.9,367.3L454.3,367.1L454.6,366.9L455.0,366.7L455.3,366.5L455.7,366.3L456.0,366.1L456.4,365.9L456.7,365.7L457.1,365.5L457.4,365.3L457.7,365.1L458.1,364.9L458.4,364.7L458.7,364.4L459.1,364.2L459.4,364.0L459.7,363.7L460.0,363.5L460.3,363.3L460.6,363.0L460.9,362.7L461.2,362.5L461.5,362.2L461.8,361.9L462.1,361.6L462.4,361.4L462.7,361.1L463.0,360.8L463.2,360.5L463.5,360.2L463.8,359.9L464.1,359.6L464.4,359.3L464.6,359.1L464.9,358.8L465.1,358.5L465.4,358.2L465.7,357.8L465.9,357.5L466.2,357.2L466.4,356.9L466.7,356.6L466.9,356.3L467.2,356.0L467.4,355.7L467.7,355.4L467.9,355.1L468.2,354.8L468.5,354.4L468.7,354.2L469.0,353.9L469.3,353.6L469.5,353.3L469.8,353.0L470.1,352.7L470.4,352.4L470.6,352.1L470.9,351.8L471.2,351.5L471.5,351.2L471.7,350.9L472.0,350.6L472.3,350.4L472.6,350.1L472.8,349.8L473.1,349.5L473.4,349.2L473.6,348.9L473.9,348.6L474.2,348.3L474.4,348.0L474.7,347.7L475.0,347.4L475.2,347.1L475.5,346.8L475.8,346.5L476.0,346.2L476.3,345.9L476.5,345.6L476.8,345.3L477.0,345.0L477.3,344.7L477.6,344.3L477.8,344.0L478.1,343.7L478.3,343.4L478.6,343.1L478.8,342.8L479.0,342.5L479.3,342.1L479.5,341.8L479.8,341.5L480.0,341.2L480.2,340.9L480.5,340.5L480.7,340.2L480.9,339.9L481.2,339.6L481.4,339.2L481.6,338.9L481.8,338.6L482.0,338.2L482.3,337.9L482.5,337.6L482.7,337.2L482.9,336.9L483.1,336.5L483.3,336.2L483.5,335.9L483.7,335.5L483.9,335.2L484.2,334.8L484.4,334.5L484.6,334.1L484.8,333.8L485.0,333.5L485.2,333.1L485.4,332.8L485.7,332.5L485.9,332.1L486.1,331.8L486.3,331.4L486.5,331.1L486.7,330.8L487.0,330.5L487.2,330.1L487.4,329.8L487.7,329.5L487.9,329.2L488.2,328.9L488.4,328.6L488.7,328.2L488.9,327.9L489.2,327.6L489.5,327.3L489.8,327.1L490.0,326.8L490.3,326.5L490.6,326.2L490.9,325.9L491.2,325.6L491.5,325.3L491.8,325.0L492.1,324.8L492.4,324.5L492.7,324.3L493.1,324.2L493.4,324.0L493.8,323.9L494.2,323.8L494.6,323.7L495.0,323.6L495.4,323.6L495.8,323.7L496.2,323.8L496.6,323.9L496.9,324.1L497.3,324.3L497.6,324.5L497.9,324.7L498.2,324.9L498.5,325.2L498.8,325.5L499.1,325.8L499.4,326.1L499.6,326.4L499.9,326.7L500.2,327.0L500.5,327.3L500.7,327.6L501.0,327.9L501.3,328.2L501.6,328.5L501.8,328.8L502.1,329.1L502.4,329.4L502.6,329.6L502.9,329.9L503.2,330.2L503.5,330.5L503.8,330.8L504.1,331.0L504.4,331.3L504.7,331.6L504.9,331.9L505.2,332.2L505.5,332.4L505.8,332.7L506.1,332.9L506.5,333.2L506.8,333.4L507.1,333.7L507.4,333.9L507.7,334.2L508.0,334.4L508.4,334.6L508.7,334.8L509.0,335.0L509.4,335.3L509.7,335.5L510.1,335.7L510.4,335.9L510.8,336.1L511.1,336.3L511.5,336.4L511.9,336.6L512.2,336.8L512.6,336.9L512.9,337.1L513.3,337.2L513.7,337.4L514.1,337.6L514.4,337.7L514.8,337.8L515.2,338.0L515.6,338.1L516.0,338.2L516.4,338.3L516.7,338.4L517.1,338.4L517.5,338.5L517.9,338.5L518.3,338.6L518.7,338.6L519.1,338.6L519.5,338.7L519.9,338.7L520.3,338.7L520.7,338.8L521.1,338.8L521.5,338.8L521.9,338.8L522.3,338.8L522.7,338.8L523.1,338.7L523.5,338.7L523.9,338.6L524.3,338.5L524.7,338.5L525.1,338.4L525.5,338.3L525.9,338.2L526.3,338.0L526.6,337.9L527.0,337.8L527.4,337.7L527.8,337.6L528.2,337.4L528.5,337.3L528.9,337.2L529.3,337.0L529.7,336.9L530.0,336.7L530.4,336.6L530.8,336.4L531.1,336.2L531.5,336.0L531.8,335.9L532.2,335.7L532.5,335.5L532.9,335.3L533.3,335.1L533.6,334.9L533.9,334.7L534.3,334.5L534.6,334.3L535.0,334.1L535.3,333.9L535.6,333.6L536.0,333.4L536.3,333.2L536.6,333.0L536.9,332.7L537.3,332.5L537.6,332.3L537.9,332.0L538.2,331.8L538.6,331.5L538.9,331.3L539.2,331.1L539.5,330.8L539.9,330.6L540.2,330.4L540.5,330.1L540.8,329.9L541.1,329.6L541.4,329.4L541.8,329.1L542.1,328.9L542.4,328.6L542.7,328.4L543.0,328.1L543.3,327.9L543.6,327.6L543.9,327.4L544.3,327.1L544.6,326.9L544.9,326.6L545.2,326.3L545.5,326.1L545.8,325.8L546.1,325.6L546.4,325.4L546.8,325.1L547.1,324.9L547.4,324.7L547.8,324.5L548.1,324.3L548.5,324.1L548.9,323.9L549.2,323.7L549.6,323.6L550.0,323.6L550.4,323.6L550.8,323.6L551.2,323.6L551.6,323.6L552.0,323.6L552.4,323.6L552.8,323.6L553.1,323.8L553.4,324.0L553.8,324.2L554.1,324.5L554.4,324.9L554.7,325.2L555.0,325.5L555.3,325.7L555.5,326.0L555.8,326.3L556.1,326.6L556.4,326.9L556.6,327.2L556.9,327.5L557.2,327.8L557.4,328.1L557.7,328.4L557.9,328.8L558.1,329.1L558.4,329.4L558.6,329.7L558.8,330.0L559.1,330.4L559.3,330.7L559.5,331.0L559.7,331.4L559.9,331.7L560.2,332.0L560.4,332.4L560.6,332.7L560.8,333.1L561.0,333.4L561.3,333.7L561.5,334.1L561.7,334.4L561.9,334.7L562.1,335.1L562.3,335.4L562.5,335.8L562.7,336.1L562.9,336.4L563.1,336.8L563.4,337.1L563.6,337.5L563.8,337.8L564.0,338.1L564.2,338.5L564.4,338.8L564.6,339.2L564.8,339.5L565.0,339.9L565.2,340.2L565.4,340.5L565.7,340.9L565.9,341.2L566.1,341.6L566.3,341.9L566.5,342.2L566.7,342.6L566.9,342.9L567.2,343.2L567.4,343.6L567.6,343.9L567.8,344.2L568.0,344.6L568.3,344.9L568.5,345.2L568.7,345.6L568.9,345.9L569.1,346.2L569.4,346.6L569.6,346.9L569.8,347.2L570.0,347.6L570.3,347.9L570.5,348.2L570.7,348.5L570.9,348.9L571.2,349.2L571.4,349.5L571.6,349.9L571.8,350.2L572.1,350.5L572.3,350.9L572.5,351.2L572.7,351.5L572.9,351.9L573.2,352.2L573.4,352.5L573.6,352.9L573.8,353.2L574.0,353.5L574.2,353.9L574.5,354.2L574.7,354.6L574.9,354.9L575.1,355.2L575.3,355.6L575.5,355.9L575.7,356.3L575.9,356.6L576.1,356.9L576.3,357.3L576.5,357.6L576.8,358.0L577.0,358.3L577.2,358.7L577.4,359.0L577.6,359.3L577.8,359.7L578.0,360.0L578.2,360.4L578.4,360.7L578.6,361.0L578.9,361.4L579.1,361.7L579.3,362.0L579.5,362.4L579.7,362.7L579.9,363.1L580.2,363.4L580.4,363.7L580.6,364.1L580.8,364.4L581.0,364.7L581.2,365.1L581.4,365.4L581.7,365.8L581.9,366.1L582.1,366.4L582.3,366.8L582.5,367.1L582.7,367.5L582.9,367.8L583.1,368.2L583.3,368.5L583.5,368.9L583.6,369.2L583.8,369.6L584.0,369.9L584.2,370.3L584.4,370.6L584.6,371.0L584.8,371.3L584.9,371.7L585.1,372.1L585.3,372.4L585.5,372.8L585.7,373.1L585.8,373.5L586.0,373.8L586.2,374.2L586.4,374.6L586.6,374.9L586.7,375.3L586.9,375.6L587.1,376.0L587.3,376.3L587.5,376.7L587.6,377.1L587.8,377.4L588.0,377.8L588.2,378.1L588.4,378.5L588.5,378.8L588.7,379.2L588.9,379.5L589.1,379.9L589.3,380.3L589.4,380.6L589.6,381.0L589.8,381.3L590.0,381.7L590.2,382.1L590.3,382.4L590.5,382.8L590.7,383.1L590.8,383.5L591.0,383.9L591.2,384.2L591.4,384.6L591.5,384.9L591.7,385.3L591.8,385.7L592.0,386.0L592.2,386.4L592.3,386.8L592.5,387.1L592.7,387.5L592.8,387.9L593.0,388.2L593.1,388.6L593.3,389.0L593.5,389.3L593.6,389.7L593.8,390.1L593.9,390.4L594.1,390.8L594.2,391.2L594.3,391.6L594.5,391.9L594.6,392.3L594.8,392.7L594.9,393.1L595.0,393.4L595.1,393.8L595.3,394.2L595.4,394.6L595.5,395.0L595.6,395.3L595.8,395.7L595.9,396.1L596.0,396.5L596.1,396.9L596.3,397.2L596.4,397.6L596.5,398.0L596.6,398.4L596.7,398.8L596.8,399.2L597.0,399.5L597.1,399.9L597.2,400.3L597.3,400.7L597.4,401.1L597.5,401.4L597.7,401.8L597.8,402.2L597.9,402.6L598.0,403.0L598.1,403.4L598.3,403.7L598.4,404.1L598.5,404.5L598.6,404.9L598.7,405.3L598.8,405.7L598.9,406.0L599.1,406.4L599.2,406.8L599.3,407.2L599.4,407.6L599.5,408.0L599.6,408.3L599.7,408.7L599.8,409.1L599.9,409.5L600.0,409.9L600.1,410.3L600.2,410.7L600.4,411.0L600.5,411.4L600.6,411.8L600.7,412.2L600.8,412.6L600.8,413.0L600.9,413.4L601.0,413.8L601.1,414.1L601.2,414.5L601.3,414.9L601.4,415.3L601.5,415.7L601.6,416.1L601.7,416.5L601.8,416.9L601.9,417.2L602.0,417.6L602.1,418.0L602.2,418.4L602.3,418.8L602.3,419.2L602.4,419.6L602.5,420.0L602.6,420.4L602.7,420.8L602.8,421.2L602.9,421.5L602.9,421.9L603.0,422.3L603.1,422.7L603.2,423.1L603.3,423.5L603.3,423.9L603.4,424.3L603.5,424.7L603.6,425.1L603.6,425.5L603.7,425.9L603.8,426.2L603.9,426.6L603.9,427.0L604.0,427.4L604.1,427.8L604.2,428.2L604.2,428.6L604.3,429.0L604.4,429.4L604.4,429.8L604.5,430.2L604.6,430.6L604.6,431.0L604.7,431.4L604.8,431.8L604.8,432.2L604.9,432.6L604.9,432.9L605.0,433.3L605.0,433.7L605.1,434.1L605.1,434.5L605.2,434.9L605.2,435.3L605.3,435.7L605.3,436.1L605.4,436.5L605.4,436.9L605.5,437.3L605.5,437.7L605.6,438.1L605.6,438.5L605.6,438.9L605.7,439.3L605.7,439.7L605.8,440.1L605.8,440.5L605.8,440.9L605.9,441.3L605.9,441.7L606.0,442.1L606.0,442.5L606.0,442.9L606.1,443.3L606.1,443.7L606.1,444.1L606.2,444.5L606.2,444.9L606.3,445.3L606.3,445.7L606.3,446.1L606.4,446.5L606.4,446.9L606.4,447.3L606.5,447.7L606.5,448.1L606.5,448.5L606.6,448.9L606.6,449.3L606.6,449.7L606.6,450.0L606.7,450.4L606.7,450.8L606.7,451.2L606.8,451.6L606.8,452.0L606.8,452.4L606.9,452.8L606.9,453.2L606.9,453.6L606.9,454.0L607.0,454.4L607.0,454.8L607.0,455.2L607.1,455.6L607.1,456.0L607.1,456.4L607.1,456.8L607.2,457.2L607.2,457.6L607.2,458.0L607.2,458.4L607.3,458.8L607.3,459.2L607.3,459.6L607.3,460.0L607.4,460.4L607.4,460.8L607.4,461.2L607.4,461.6L607.5,462.0L607.5,462.4L607.5,462.8L607.5,463.2L607.6,463.6L607.6,464.0L607.6,464.4L607.6,464.8L607.7,465.2L607.7,465.6L607.7,466.0L607.7,466.4L607.8,466.8L607.8,467.2L607.8,467.6L607.8,468.0L607.9,468.4L607.9,468.8L607.9,469.2L607.9,469.6L608.0,470.0L608.0,470.4L608.0,470.8L608.0,471.2L608.1,471.6L608.1,472.0L608.1,472.4L608.1,472.8L608.1,473.2L608.2,473.6L608.2,474.0L608.2,474.4L608.2,474.8L608.3,475.2L608.3,475.6L608.3,476.0L608.3,476.4L608.3,476.8L608.4,477.2L608.4,477.6L608.4,478.0L608.4,478.4L608.4,478.8L608.5,479.2L608.5,479.6L608.5,480.0L608.5,480.4L608.5,480.8L608.6,481.2L608.6,481.6L608.6,482.0L608.6,482.4L608.6,482.8L608.6,483.2L608.7,483.6L608.7,484.0L608.7,484.4L608.7,484.8L608.7,485.2L608.7,485.6L608.8,486.0L608.8,486.4L608.8,486.8L608.8,487.2L608.8,487.6L608.8,488.0L608.9,488.4L608.9,488.8L608.9,489.2L608.9,489.6L608.9,490.0L608.9,490.4L609.0,490.8L609.0,491.2L609.0,491.6L609.0,492.0L609.0,492.4L609.0,492.8L609.0,493.2L609.1,493.6L609.1,494.0L609.1,494.4L609.1,494.8L609.1,495.2L609.1,495.6L609.1,496.0L609.2,496.3L609.2,496.7L609.2,497.1L609.2,497.5L609.2,497.9L609.2,498.3L609.2,498.7L609.2,499.1L609.3,499.5L609.3,499.9L609.3,500.3L609.3,500.7L609.3,501.1L609.3,501.5L609.3,501.9L609.3,502.3L609.4,502.7L609.4,503.1L609.4,503.5L609.4,503.9L609.4,504.3L609.4,504.7L609.4,505.1L609.4,505.5L609.4,505.9L609.5,506.3L609.5,506.7L609.5,507.1L609.5,507.5L609.5,507.9L609.5,508.3L609.5,508.7L609.5,509.1L609.5,509.5L609.6,509.9L609.6,510.3L609.6,510.7L609.6,511.1L609.6,511.5L609.6,511.9L609.6,512.3L609.6,512.8L609.6,513.2L609.6,513.7L609.6,514.1L609.6,514.6L609.7,515.1L609.7,515.6L609.7,516.1L609.7,516.6L609.7,517.2L609.7,517.7L609.7,518.2L609.7,518.8L609.7,519.3L609.7,519.8L609.7,520.4L609.7,520.9L609.7,521.4L609.7,521.9L609.8,522.4L609.8,522.9L609.8,523.4L609.8,523.8L609.8,524.3L609.8,524.7L609.8,525.1L609.8,525.5L609.8,525.9L609.8,526.3L609.8,526.6L609.8,526.9L609.8,527.2L609.8,527.4L609.9,527.7L609.9,527.8L609.9,528.0L609.9,528.1L609.9,528.2L609.9,528.3L609.9,528.3L609.9,528.3L609.9,528.2L609.9,528.1L609.9,528.0L609.9,527.8L610.0,527.6L610.0,527.4L610.0,527.2L610.0,526.9L610.0,526.6L610.0,526.2L610.0,525.9L610.0,525.5L610.0,525.1L610.0,524.7L610.0,524.2L610.1,523.8L610.1,523.3L610.1,522.8L610.1,522.4L610.1,521.9L610.1,521.3L610.1,520.8L610.1,520.3L610.1,519.8L610.2,519.2L610.2,518.7L610.2,518.2L610.2,517.7L610.2,517.1L610.2,516.6L610.2,516.1L610.2,515.6L610.2,515.1L610.2,514.6L610.3,514.1L610.3,513.6L610.3,513.2L610.3,512.7L610.3,512.3L610.3,511.9L610.3,511.5L610.3,511.1L610.3,510.7L610.3,510.3L610.4,509.9L610.4,509.5L610.4,509.1L610.4,508.7L610.4,508.3L610.4,507.9L610.4,507.5L610.4,507.1L610.4,506.7L610.4,506.3L610.4,505.9L610.5,505.5L610.5,505.1L610.5,504.7L610.5,504.3L610.5,503.9L610.5,503.5L610.5,503.1L610.5,502.7L610.5,502.3L610.5,501.9L610.5,501.5L610.6,501.1L610.6,500.7L610.6,500.3L610.6,499.9L610.6,499.5L610.6,499.1L610.6,498.7L610.6,498.3L610.6,497.9L610.6,497.5L610.7,497.1L610.7,496.7L610.7,496.3L610.7,495.9L610.7,495.5L610.7,495.1L610.7,494.7L610.7,494.3L610.7,493.9L610.8,493.5L610.8,493.1L610.8,492.7L610.8,492.3L610.8,491.9L610.8,491.5L610.8,491.1L610.8,490.7L610.9,490.3L610.9,489.9L610.9,489.5L610.9,489.1L610.9,488.7L610.9,488.3L610.9,487.9L611.0,487.5L611.0,487.1L611.0,486.7L611.0,486.3L611.0,485.9L611.0,485.5L611.1,485.1L611.1,484.7L611.1,484.3L611.1,483.9L611.1,483.5L611.1,483.1L611.2,482.7L611.2,482.3L611.2,481.9L611.2,481.5L611.2,481.1L611.2,480.7L611.3,480.3L611.3,479.9L611.3,479.5L611.3,479.1L611.3,478.7L611.4,478.3L611.4,477.9L611.4,477.5L611.4,477.1L611.4,476.7L611.5,476.3L611.5,475.9L611.5,475.5L611.5,475.1L611.5,474.7L611.5,474.3L611.6,473.9L611.6,473.5L611.6,473.1L611.6,472.7L611.6,472.3L611.7,471.9L611.7,471.5L611.7,471.1L611.7,470.7L611.7,470.3L611.8,469.9L611.8,469.5L611.8,469.2L611.8,468.8L611.8,468.4L611.9,468.0L611.9,467.6L611.9,467.2L611.9,466.8L611.9,466.4L612.0,466.0L612.0,465.6L612.0,465.2L612.0,464.8L612.0,464.4L612.1,464.0L612.1,463.6L612.1,463.2L612.1,462.8L612.2,462.4L612.2,462.0L612.2,461.6L612.2,461.2L612.2,460.8L612.3,460.4L612.3,460.0L612.3,459.6L612.3,459.2L612.4,458.8L612.4,458.4L612.4,458.0L612.4,457.6L612.5,457.2L612.5,456.8L612.5,456.4L612.5,456.0L612.6,455.6L612.6,455.2L612.6,454.8L612.6,454.4L612.7,454.0L612.7,453.6L612.7,453.2L612.8,452.8L612.8,452.4L612.8,452.0L612.8,451.6L612.9,451.2L612.9,450.8L612.9,450.4L613.0,450.0L613.0,449.6L613.0,449.2L613.1,448.8L613.1,448.4L613.1,448.0L613.2,447.6L613.2,447.2L613.2,446.8L613.3,446.4L613.3,446.0L613.3,445.6L613.4,445.2L613.4,444.8L613.5,444.4L613.5,444.0L613.5,443.6L613.6,443.2L613.6,442.8L613.7,442.4L613.7,442.0L613.7,441.6L613.8,441.2L613.8,440.8L613.9,440.4L613.9,440.0L613.9,439.7L614.0,439.3L614.0,438.9L614.1,438.5L614.1,438.1L614.2,437.7L614.2,437.3L614.2,436.9L614.3,436.5L614.3,436.1L614.4,435.7L614.4,435.3L614.5,434.9L614.5,434.5L614.6,434.1L614.6,433.7L614.7,433.3L614.8,432.9L614.8,432.5L614.9,432.1L614.9,431.7L615.0,431.3L615.0,430.9L615.1,430.5L615.2,430.1L615.2,429.7L615.3,429.3L615.3,428.9L615.4,428.6L615.5,428.2L615.5,427.8L615.6,427.4L615.6,427.0L615.7,426.6L615.8,426.2L615.8,425.8L615.9,425.4L616.0,425.0L616.1,424.6L616.1,424.2L616.2,423.8L616.3,423.4L616.4,423.0L616.4,422.6L616.5,422.2L616.6,421.9L616.7,421.5L616.8,421.1L616.8,420.7L616.9,420.3L617.0,419.9L617.1,419.5L617.2,419.1L617.3,418.7L617.4,418.4L617.5,418.0L617.6,417.6L617.7,417.2L617.8,416.8L617.9,416.4L618.0,416.0L618.1,415.7L618.3,415.3L618.4,414.9L618.5,414.5L618.6,414.1L618.8,413.8L618.9,413.4L619.0,413.0L619.1,412.6L619.3,412.2L619.4,411.9L619.6,411.5L619.7,411.1L619.8,410.7L620.0,410.4L620.1,410.0L620.2,409.6L620.4,409.2L620.5,408.9L620.7,408.5L620.8,408.1L621.0,407.8L621.2,407.4L621.3,407.0L621.5,406.7L621.6,406.3L621.8,405.9L622.0,405.6L622.1,405.2L622.3,404.8L622.5,404.5L622.6,404.1L622.8,403.7L623.0,403.4L623.1,403.0L623.3,402.7L623.5,402.3L623.6,401.9L623.8,401.6L624.0,401.2L624.2,400.8L624.3,400.5L624.5,400.1L624.7,399.8L624.9,399.4L625.1,399.1L625.3,398.7L625.5,398.4L625.7,398.0L625.9,397.7L626.1,397.4L626.3,397.0L626.6,396.7L626.8,396.4L627.0,396.1L627.3,395.8L627.6,395.5L627.8,395.2L628.1,394.9L628.4,394.6L628.6,394.3L628.9,394.0L629.2,393.7L629.4,393.4L629.7,393.1L629.9,392.8L630.2,392.4L630.4,392.1L630.7,391.8L630.9,391.5L631.1,391.2L631.4,390.8L631.6,390.5L631.9,390.2L632.1,389.9L632.3,389.6L632.6,389.2L632.8,388.9L633.1,388.6L633.3,388.3L633.5,388.0L633.8,387.6L634.0,387.3L634.3,387.0L634.5,386.7L634.8,386.4L635.0,386.1L635.3,385.8L635.5,385.4L635.8,385.1L636.0,384.8L636.3,384.5L636.5,384.2L636.8,383.9L637.0,383.6L637.3,383.3L637.5,383.0L637.8,382.7L638.1,382.4L638.4,382.1L638.7,381.8L639.0,381.5L639.2,381.2L639.5,380.9L639.7,380.5L640.0,380.2L640.2,379.9L640.4,379.6L640.5,379.2L640.7,378.8L640.8,378.4L640.9,377.9L641.1,377.4L641.2,376.9L641.3,376.4L641.4,375.9L641.5,375.4L641.6,375.0L641.7,374.6L641.8,374.4L641.9,374.1L642.0,374.0L642.0,374.0L642.1,374.2L642.2,374.6L642.2,375.1L642.3,375.7L642.3,376.3L642.4,376.8L642.4,377.3L642.5,377.5L642.6,377.6L642.8,377.5L643.0,377.4L643.3,377.2L643.6,376.9L643.9,376.6L644.2,376.3L644.6,375.9L644.9,375.5L645.3,375.2L645.6,374.9L645.9,374.6L646.2,374.3L646.5,374.0L646.8,373.7L647.1,373.4L647.4,373.1L647.6,372.9L647.9,372.6L648.2,372.3L648.5,372.0L648.8,371.7L649.0,371.4L649.3,371.2L649.6,370.9L649.9,370.6L650.2,370.3L650.5,370.1L650.8,369.8L651.1,369.6L651.4,369.3L651.7,369.0L652.0,368.8L652.3,368.5L652.6,368.3L652.9,368.0L653.2,367.7L653.5,367.5L653.8,367.2L654.1,366.9L654.4,366.6L654.7,366.3L654.9,366.1L655.2,365.8L655.5,365.5L655.8,365.2L656.1,364.9L656.4,364.6L656.7,364.4L656.9,364.1L657.2,363.8L657.5,363.6L657.8,363.3L658.1,363.0L658.4,362.7L658.7,362.5L659.0,362.2" fill="none" stroke="#2ca02c" stroke-width="2.5" stroke-linejoin="round" stroke-linecap="square" clip-path="url(#cd)"/>
<path d="M433.2,377.8L433.3,377.4L433.4,377.0L433.4,376.6L433.5,376.2L433.6,375.8L433.7,375.5L433.8,375.1L433.9,374.7L434.0,374.3L434.1,373.9L434.2,373.5L434.3,373.1L434.5,372.8L434.6,372.4L434.7,372.0L434.8,371.6L435.0,371.2L435.1,370.8L435.2,370.5L435.4,370.1L435.6,369.8L435.8,369.4L436.0,369.1L436.2,368.7L436.4,368.4L436.7,368.1L436.9,367.8L437.2,367.5L437.4,367.1L437.7,366.8L437.9,366.5L438.2,366.3L438.5,366.0L438.8,365.7L439.1,365.4L439.4,365.2L439.7,364.9L440.0,364.6L440.3,364.4L440.6,364.2L441.0,363.9L441.3,363.7L441.6,363.5L442.0,363.3L442.3,363.1L442.7,362.9L443.0,362.7L443.4,362.6L443.8,362.4L444.1,362.2L444.5,362.1L444.9,361.9L445.3,361.8L445.6,361.7L446.0,361.5L446.4,361.4L446.8,361.3L447.2,361.2L447.5,361.1L447.9,361.0L448.3,360.9L448.7,360.8L449.1,360.7L449.5,360.6L449.9,360.5L450.3,360.4L450.7,360.4L451.1,360.3L451.4,360.2L451.8,360.1L452.2,360.1L452.6,360.0L453.0,359.9L453.4,359.8L453.8,359.7L454.2,359.6L454.6,359.6L455.0,359.5L455.4,359.4L455.7,359.3L456.1,359.1L456.5,359.0L456.9,358.8L457.2,358.7L457.6,358.5L458.0,358.4L458.3,358.2L458.7,358.1L459.1,358.0L459.5,357.8L459.9,357.7L460.2,357.5L460.6,357.4L461.0,357.2L461.3,357.0L461.7,356.9L462.0,356.7L462.4,356.5L462.7,356.3L463.1,356.1L463.4,355.9L463.8,355.8L464.2,355.6L464.5,355.4L464.9,355.2L465.2,355.1L465.6,354.9L466.0,354.7L466.3,354.5L466.7,354.3L467.0,354.1L467.4,353.9L467.7,353.7L468.0,353.5L468.4,353.3L468.7,353.1L469.0,352.8L469.3,352.6L469.7,352.3L470.0,352.1L470.3,351.9L470.6,351.6L470.9,351.4L471.2,351.1L471.5,350.9L471.9,350.6L472.2,350.3L472.5,350.1L472.8,349.8L473.1,349.5L473.4,349.3L473.6,349.0L473.9,348.7L474.2,348.5L474.5,348.2L474.8,347.9L475.1,347.6L475.4,347.3L475.7,347.1L475.9,346.8L476.2,346.5L476.5,346.2L476.8,345.9L477.0,345.6L477.3,345.3L477.6,345.0L477.8,344.7L478.1,344.4L478.4,344.1L478.6,343.8L478.9,343.5L479.1,343.2L479.4,342.9L479.6,342.6L479.8,342.2L480.1,341.9L480.3,341.6L480.6,341.3L480.8,340.9L481.0,340.6L481.3,340.3L481.5,340.0L481.7,339.6L481.9,339.3L482.2,339.0L482.4,338.6L482.6,338.3L482.8,338.0L483.0,337.6L483.3,337.3L483.5,337.0L483.7,336.6L483.9,336.3L484.1,335.9L484.3,335.6L484.5,335.3L484.7,334.9L484.9,334.6L485.1,334.2L485.3,333.9L485.5,333.5L485.7,333.2L485.9,332.8L486.1,332.5L486.3,332.1L486.5,331.8L486.7,331.4L486.9,331.1L487.1,330.8L487.3,330.4L487.5,330.1L487.8,329.7L488.0,329.4L488.2,329.1L488.4,328.7L488.6,328.4L488.9,328.1L489.1,327.7L489.3,327.4L489.6,327.1L489.8,326.8L490.0,326.4L490.3,326.1L490.6,325.8L490.8,325.5L491.1,325.2L491.4,324.9L491.6,324.6L491.9,324.3L492.2,324.0L492.5,323.8L492.8,323.6L493.2,323.4L493.6,323.3L493.9,323.1L494.3,323.0L494.8,322.9L495.1,322.9L495.5,322.9L495.9,323.0L496.3,323.2L496.7,323.4L497.0,323.6L497.4,323.8L497.7,324.0L498.0,324.3L498.3,324.5L498.6,324.8L498.8,325.1L499.1,325.4L499.4,325.7L499.7,326.0L499.9,326.3L500.2,326.6L500.5,326.9L500.7,327.2L501.0,327.5L501.2,327.8L501.5,328.1L501.7,328.5L502.0,328.8L502.2,329.1L502.5,329.4L502.8,329.7L503.0,330.0L503.3,330.2L503.6,330.5L503.9,330.8L504.2,331.1L504.5,331.4L504.8,331.7L505.1,331.9L505.4,332.2L505.7,332.5L506.0,332.7L506.3,333.0L506.6,333.2L506.9,333.5L507.2,333.7L507.5,333.9L507.9,334.1L508.2,334.4L508.5,334.6L508.9,334.8L509.2,335.0L509.6,335.2L509.9,335.4L510.3,335.6L510.6,335.8L511.0,336.0L511.4,336.1L511.7,336.3L512.1,336.4L512.5,336.6L512.8,336.7L513.2,336.9L513.6,337.0L514.0,337.1L514.4,337.2L514.8,337.3L515.1,337.5L515.5,337.6L515.9,337.6L516.3,337.7L516.7,337.8L517.1,337.8L517.5,337.8L517.9,337.9L518.3,337.9L518.7,338.0L519.1,338.0L519.5,338.0L519.9,338.0L520.3,338.1L520.7,338.1L521.1,338.1L521.5,338.1L521.9,338.1L522.3,338.1L522.7,338.1L523.1,338.0L523.5,338.0L523.9,337.9L524.3,337.8L524.7,337.7L525.0,337.6L525.4,337.5L525.8,337.4L526.2,337.3L526.6,337.2L527.0,337.0L527.4,336.9L527.7,336.8L528.1,336.7L528.5,336.5L528.9,336.4L529.2,336.3L529.6,336.1L530.0,336.0L530.4,335.8L530.7,335.6L531.1,335.5L531.5,335.3L531.8,335.1L532.2,334.9L532.5,334.8L532.9,334.6L533.2,334.4L533.6,334.2L533.9,334.0L534.3,333.8L534.6,333.6L535.0,333.4L535.3,333.2L535.6,332.9L536.0,332.7L536.3,332.5L536.6,332.3L536.9,332.0L537.3,331.8L537.6,331.5L537.9,331.3L538.2,331.1L538.6,330.8L538.9,330.6L539.2,330.4L539.5,330.1L539.9,329.9L540.2,329.7L540.5,329.4L540.8,329.2L541.2,329.0L541.5,328.7L541.8,328.5L542.1,328.2L542.4,328.0L542.7,327.7L543.1,327.5L543.4,327.3L543.7,327.0L544.0,326.8L544.3,326.5L544.6,326.2L544.9,326.0L545.2,325.7L545.5,325.4L545.8,325.2L546.2,325.0L546.5,324.7L546.8,324.5L547.2,324.3L547.5,324.1L547.9,323.9L548.2,323.7L548.6,323.5L548.9,323.3L549.3,323.1L549.7,323.0L550.1,323.0L550.5,323.0L550.9,322.9L551.3,322.9L551.7,322.9L552.1,322.9L552.5,322.9L552.8,322.9L553.2,323.1L553.5,323.3L553.8,323.6L554.1,323.9L554.4,324.2L554.7,324.6L555.0,324.9L555.2,325.2L555.5,325.5L555.7,325.8L555.9,326.1L556.2,326.5L556.4,326.8L556.6,327.1L556.8,327.5L557.0,327.8L557.2,328.2L557.4,328.6L557.6,328.9L557.8,329.2L558.0,329.6L558.2,329.9L558.4,330.3L558.6,330.6L558.8,331.0L559.0,331.3L559.2,331.7L559.4,332.0L559.6,332.4L559.7,332.7L559.9,333.1L560.1,333.4L560.3,333.8L560.5,334.1L560.7,334.5L560.9,334.9L561.1,335.2L561.2,335.6L561.4,335.9L561.6,336.3L561.8,336.6L562.0,337.0L562.1,337.4L562.3,337.7L562.5,338.1L562.7,338.4L562.8,338.8L563.0,339.1L563.2,339.5L563.4,339.9L563.5,340.2L563.7,340.6L563.9,340.9L564.1,341.3L564.2,341.7L564.4,342.0L564.6,342.4L564.8,342.7L564.9,343.1L565.1,343.5L565.3,343.8L565.5,344.2L565.7,344.5L565.8,344.9L566.0,345.3L566.2,345.6L566.4,346.0L566.5,346.3L566.7,346.7L566.9,347.0L567.1,347.4L567.3,347.7L567.5,348.1L567.7,348.5L567.8,348.8L568.0,349.2L568.2,349.5L568.4,349.9L568.6,350.2L568.8,350.6L569.0,350.9L569.1,351.3L569.3,351.6L569.5,352.0L569.7,352.3L569.9,352.7L570.1,353.0L570.3,353.4L570.5,353.7L570.7,354.1L570.9,354.4L571.0,354.8L571.2,355.2L571.4,355.5L571.6,355.9L571.8,356.2L572.0,356.6L572.2,356.9L572.4,357.3L572.6,357.6L572.8,358.0L572.9,358.3L573.1,358.7L573.3,359.0L573.5,359.4L573.7,359.7L573.9,360.1L574.1,360.4L574.3,360.8L574.4,361.1L574.6,361.5L574.8,361.9L575.0,362.2L575.2,362.6L575.4,362.9L575.6,363.3L575.8,363.6L575.9,364.0L576.1,364.3L576.3,364.7L576.5,365.0L576.7,365.4L576.9,365.7L577.1,366.1L577.2,366.5L577.4,366.8L577.6,367.2L577.8,367.5L578.0,367.9L578.2,368.2L578.4,368.6L578.5,368.9L578.7,369.3L578.9,369.6L579.1,370.0L579.3,370.3L579.5,370.7L579.7,371.1L579.8,371.4L580.0,371.8L580.2,372.1L580.4,372.5L580.6,372.8L580.8,373.2L581.0,373.5L581.2,373.9L581.3,374.2L581.5,374.6L581.7,374.9L581.9,375.3L582.1,375.6L582.3,376.0L582.5,376.3L582.7,376.7L582.9,377.0L583.1,377.4L583.2,377.7L583.4,378.1L583.6,378.5L583.8,378.8L584.0,379.2L584.2,379.5L584.4,379.9L584.6,380.2L584.8,380.6L585.0,380.9L585.2,381.3L585.4,381.6L585.5,382.0L585.7,382.3L585.9,382.7L586.1,383.0L586.3,383.4L586.5,383.7L586.7,384.1L586.9,384.4L587.1,384.8L587.2,385.1L587.4,385.5L587.6,385.8L587.8,386.2L588.0,386.6L588.2,386.9L588.4,387.3L588.5,387.6L588.7,388.0L588.9,388.3L589.1,388.7L589.3,389.0L589.5,389.4L589.7,389.7L589.8,390.1L590.0,390.5L590.2,390.8L590.4,391.2L590.6,391.5L590.8,391.9L590.9,392.2L591.1,392.6L591.3,392.9L591.5,393.3L591.7,393.7L591.8,394.0L592.0,394.4L592.2,394.7L592.4,395.1L592.5,395.5L592.7,395.8L592.9,396.2L593.0,396.5L593.2,396.9L593.4,397.3L593.5,397.6L593.7,398.0L593.9,398.4L594.0,398.7L594.2,399.1L594.3,399.5L594.5,399.8L594.7,400.2L594.8,400.6L595.0,400.9L595.1,401.3L595.3,401.7L595.5,402.0L595.6,402.4L595.8,402.8L595.9,403.2L596.1,403.5L596.2,403.9L596.4,404.3L596.5,404.6L596.6,405.0L596.8,405.4L596.9,405.8L597.1,406.1L597.2,406.5L597.3,406.9L597.5,407.3L597.6,407.6L597.7,408.0L597.8,408.4L598.0,408.8L598.1,409.2L598.2,409.5L598.3,409.9L598.4,410.3L598.6,410.7L598.7,411.1L598.8,411.5L598.9,411.8L599.0,412.2L599.1,412.6L599.2,413.0L599.4,413.4L599.5,413.8L599.6,414.2L599.7,414.5L599.8,414.9L599.9,415.3L600.0,415.7L600.1,416.1L600.2,416.5L600.3,416.9L600.4,417.3L600.4,417.6L600.5,418.0L600.6,418.4L600.7,418.8L600.8,419.2L600.9,419.6L600.9,420.0L601.0,420.4L601.1,420.8L601.2,421.2L601.3,421.5L601.3,421.9L601.4,422.3L601.5,422.7L601.6,423.1L601.6,423.5L601.7,423.9L601.8,424.3L601.8,424.7L601.9,425.1L602.0,425.5L602.0,425.9L602.1,426.3L602.2,426.7L602.2,427.1L602.3,427.5L602.4,427.9L602.4,428.3L602.5,428.6L602.6,429.0L602.6,429.4L602.7,429.8L602.7,430.2L602.8,430.6L602.9,431.0L602.9,431.4L603.0,431.8L603.0,432.2L603.1,432.6L603.2,433.0L603.2,433.4L603.3,433.8L603.3,434.2L603.4,434.6L603.5,435.0L603.5,435.4L603.6,435.8L603.6,436.2L603.7,436.6L603.7,437.0L603.8,437.4L603.8,437.7L603.9,438.1L603.9,438.5L604.0,438.9L604.0,439.3L604.1,439.7L604.1,440.1L604.2,440.5L604.2,440.9L604.3,441.3L604.3,441.7L604.4,442.1L604.4,442.5L604.5,442.9L604.5,443.3L604.6,443.7L604.6,444.1L604.7,444.5L604.7,444.9L604.8,445.3L604.8,445.7L604.9,446.1L604.9,446.5L605.0,446.9L605.0,447.3L605.0,447.7L605.1,448.1L605.1,448.5L605.2,448.9L605.2,449.3L605.2,449.7L605.3,450.1L605.3,450.5L605.4,450.9L605.4,451.3L605.4,451.7L605.5,452.1L605.5,452.5L605.5,452.8L605.5,453.2L605.6,453.6L605.6,454.0L605.6,454.4L605.7,454.8L605.7,455.2L605.7,455.6L605.7,456.0L605.8,456.4L605.8,456.8L605.8,457.2L605.8,457.6L605.9,458.0L605.9,458.4L605.9,458.8L605.9,459.2L606.0,459.6L606.0,460.0L606.0,460.4L606.0,460.8L606.1,461.2L606.1,461.6L606.1,462.0L606.1,462.4L606.1,462.8L606.2,463.2L606.2,463.6L606.2,464.0L606.2,464.4L606.2,464.8L606.3,465.2L606.3,465.6L606.3,466.0L606.3,466.4L606.3,466.8L606.3,467.2L606.4,467.6L606.4,468.0L606.4,468.4L606.4,468.8L606.4,469.2L606.4,469.6L606.5,470.0L606.5,470.4L606.5,470.8L606.5,471.2L606.5,471.6L606.5,472.0L606.5,472.4L606.5,472.8L606.6,473.2L606.6,473.6L606.6,474.0L606.6,474.4L606.6,474.8L606.6,475.2L606.6,475.6L606.6,476.0L606.7,476.4L606.7,476.8L606.7,477.2L606.7,477.6L606.7,478.0L606.7,478.4L606.7,478.8L606.7,479.2L606.7,479.6L606.8,480.0L606.8,480.4L606.8,480.8L606.8,481.2L606.8,481.6L606.8,482.0L606.8,482.4L606.8,482.8L606.8,483.2L606.8,483.6L606.9,484.0L606.9,484.4L606.9,484.8L606.9,485.2L606.9,485.6L606.9,486.0L606.9,486.4L606.9,486.8L606.9,487.2L606.9,487.6L606.9,488.0L607.0,488.4L607.0,488.8L607.0,489.2L607.0,489.6L607.0,490.0L607.0,490.4L607.0,490.8L607.0,491.2L607.0,491.6L607.0,492.1L607.0,492.5L607.0,493.0L607.0,493.4L607.0,493.9L607.1,494.4L607.1,494.9L607.1,495.4L607.1,495.9L607.1,496.4L607.1,496.9L607.1,497.4L607.1,497.9L607.1,498.4L607.1,499.0L607.1,499.5L607.1,500.0L607.1,500.6L607.1,501.1L607.1,501.6L607.1,502.1L607.1,502.7L607.1,503.2L607.1,503.7L607.1,504.3L607.1,504.8L607.1,505.3L607.1,505.8L607.1,506.3L607.1,506.8L607.1,507.3L607.1,507.8L607.1,508.3L607.1,508.8L607.1,509.3L607.1,509.8L607.1,510.2L607.1,510.7L607.1,511.1L607.2,511.5L607.2,511.9L607.2,512.3L607.2,512.7L607.2,513.1L607.2,513.5L607.2,513.8L607.2,514.2L607.2,514.5L607.2,514.8L607.2,515.1L607.2,515.4L607.2,515.6L607.2,515.9L607.3,516.1L607.3,516.3L607.3,516.5L607.3,516.6L607.3,516.8L607.3,516.9L607.3,517.0L607.4,517.1L607.4,517.2L607.4,517.2L607.4,517.2L607.6,517.2L607.6,517.1L607.7,517.0L607.7,516.8L607.7,516.6L607.7,516.3L607.8,516.0L607.8,515.6L607.8,515.2L607.8,514.8L607.8,514.3L607.8,513.9L607.8,513.4L607.8,512.8L607.8,512.3L607.8,511.8L607.8,511.3L607.8,510.7L607.9,510.2L607.9,509.7L607.9,509.2L607.9,508.7L607.9,508.3L607.9,507.8L607.9,507.4L607.9,507.0L607.9,506.6L607.9,506.2L608.0,505.8L608.0,505.4L608.0,505.0L608.0,504.6L608.0,504.2L608.0,503.8L608.0,503.4L608.0,503.0L608.0,502.6L608.1,502.2L608.1,501.8L608.1,501.4L608.1,501.0L608.1,500.6L608.1,500.2L608.1,499.8L608.1,499.4L608.1,499.0L608.2,498.6L608.2,498.2L608.2,497.8L608.2,497.4L608.2,497.0L608.2,496.6L608.2,496.2L608.2,495.8L608.2,495.4L608.3,495.0L608.3,494.6L608.3,494.2L608.3,493.8L608.3,493.4L608.3,493.0L608.3,492.6L608.3,492.2L608.4,491.8L608.4,491.4L608.4,491.0L608.4,490.6L608.4,490.2L608.4,489.8L608.4,489.4L608.5,489.0L608.5,488.6L608.5,488.2L608.5,487.8L608.5,487.4L608.5,487.0L608.6,486.6L608.6,486.2L608.6,485.8L608.6,485.4L608.6,485.0L608.7,484.6L608.7,484.2L608.7,483.8L608.7,483.4L608.7,483.0L608.8,482.6L608.8,482.2L608.8,481.8L608.8,481.4L608.8,481.0L608.9,480.6L608.9,480.2L608.9,479.8L608.9,479.4L608.9,479.0L609.0,478.6L609.0,478.2L609.0,477.8L609.0,477.4L609.0,477.0L609.1,476.6L609.1,476.2L609.1,475.8L609.1,475.4L609.1,475.0L609.2,474.6L609.2,474.3L609.2,473.9L609.2,473.5L609.2,473.1L609.3,472.7L609.3,472.3L609.3,471.9L609.3,471.5L609.3,471.1L609.4,470.7L609.4,470.3L609.4,469.9L609.4,469.5L609.4,469.1L609.5,468.7L609.5,468.3L609.5,467.9L609.5,467.5L609.5,467.1L609.6,466.7L609.6,466.3L609.6,465.9L609.6,465.5L609.6,465.1L609.7,464.7L609.7,464.3L609.7,463.9L609.7,463.5L609.7,463.1L609.8,462.7L609.8,462.3L609.8,461.9L609.8,461.5L609.8,461.1L609.9,460.7L609.9,460.3L609.9,459.9L609.9,459.5L610.0,459.1L610.0,458.7L610.0,458.3L610.0,457.9L610.1,457.5L610.1,457.1L610.1,456.7L610.2,456.3L610.2,455.9L610.2,455.5L610.2,455.1L610.3,454.7L610.3,454.3L610.3,453.9L610.4,453.5L610.4,453.1L610.4,452.7L610.5,452.3L610.5,451.9L610.6,451.5L610.6,451.1L610.6,450.7L610.7,450.3L610.7,449.9L610.8,449.5L610.8,449.1L610.8,448.7L610.9,448.3L610.9,447.9L611.0,447.5L611.0,447.1L611.1,446.7L611.1,446.3L611.2,445.9L611.2,445.5L611.3,445.1L611.3,444.7L611.3,444.3L611.4,443.9L611.4,443.6L611.5,443.2L611.5,442.8L611.6,442.4L611.6,442.0L611.7,441.6L611.7,441.2L611.8,440.8L611.8,440.4L611.9,440.0L611.9,439.6L612.0,439.2L612.0,438.8L612.1,438.4L612.1,438.0L612.2,437.6L612.2,437.2L612.3,436.8L612.3,436.4L612.4,436.0L612.4,435.6L612.5,435.2L612.5,434.8L612.6,434.4L612.6,434.0L612.7,433.6L612.7,433.2L612.8,432.8L612.8,432.4L612.9,432.0L612.9,431.6L613.0,431.2L613.1,430.9L613.1,430.5L613.2,430.1L613.2,429.7L613.3,429.3L613.4,428.9L613.4,428.5L613.5,428.1L613.6,427.7L613.6,427.3L613.7,426.9L613.8,426.5L613.8,426.1L613.9,425.7L614.0,425.3L614.1,424.9L614.1,424.5L614.2,424.2L614.3,423.8L614.4,423.4L614.4,423.0L614.5,422.6L614.6,422.2L614.7,421.8L614.8,421.4L614.9,421.0L615.0,420.6L615.0,420.2L615.1,419.8L615.2,419.5L615.3,419.1L615.4,418.7L615.5,418.3L615.6,417.9L615.7,417.5L615.8,417.1L615.9,416.8L616.0,416.4L616.1,416.0L616.3,415.6L616.4,415.2L616.5,414.8L616.6,414.5L616.8,414.1L616.9,413.7L617.1,413.3L617.2,413.0L617.3,412.6L617.5,412.2L617.6,411.8L617.8,411.5L618.0,411.1L618.1,410.7L618.3,410.4L618.4,410.0L618.6,409.7L618.8,409.3L619.0,408.9L619.2,408.6L619.3,408.2L619.5,407.9L619.7,407.5L619.9,407.2L620.1,406.8L620.2,406.4L620.4,406.1L620.6,405.7L620.7,405.4L620.9,405.0L621.1,404.6L621.3,404.3L621.4,403.9L621.6,403.5L621.8,403.2L622.0,402.8L622.1,402.5L622.3,402.1L622.5,401.7L622.7,401.4L622.8,401.0L623.0,400.7L623.2,400.3L623.4,400.0L623.5,399.6L623.7,399.2L623.9,398.9L624.1,398.5L624.3,398.2L624.4,397.8L624.6,397.5L624.8,397.1L625.0,396.7L625.2,396.4L625.4,396.0L625.6,395.7L625.8,395.4L626.0,395.0L626.2,394.7L626.4,394.3L626.6,394.0L626.8,393.6L627.0,393.3L627.3,393.0L627.5,392.6L627.7,392.3L627.9,392.0L628.1,391.6L628.4,391.3L628.6,391.0L628.8,390.6L629.1,390.3L629.3,390.0L629.5,389.7L629.8,389.4L630.0,389.0L630.2,388.7L630.5,388.4L630.7,388.1L631.0,387.8L631.2,387.5L631.5,387.1L631.7,386.8L632.0,386.5L632.3,386.2L632.5,385.9L632.8,385.6L633.0,385.3L633.3,385.0L633.6,384.7L633.8,384.4L634.1,384.1L634.4,383.8L634.7,383.6L634.9,383.3L635.2,383.0L635.5,382.7L635.8,382.4L636.1,382.1L636.4,381.8L636.6,381.6L636.9,381.3L637.2,381.0L637.5,380.7L637.8,380.5L638.1,380.2L638.4,379.9L638.7,379.6L639.0,379.4L639.3,379.1L639.5,378.8L639.8,378.6L640.1,378.3L640.4,378.0L640.7,377.7L641.0,377.5L641.3,377.2L641.6,376.9L641.9,376.6L642.2,376.4L642.5,376.1L642.8,375.8L643.0,375.5L643.3,375.3L643.6,375.0L643.9,374.7L644.2,374.4L644.5,374.2L644.8,373.9L645.1,373.6L645.4,373.4L645.7,373.1L646.0,372.8L646.3,372.6L646.6,372.3L646.9,372.1L647.2,371.8L647.5,371.6L647.9,371.3L648.2,371.1L648.5,370.8L648.8,370.6L649.1,370.4L649.4,370.1L649.8,369.9L650.1,369.6L650.4,369.4L650.7,369.1L651.0,368.9L651.3,368.7L651.7,368.4L652.0,368.2L652.3,367.9L652.6,367.7L652.9,367.4L653.3,367.2L653.6,366.9L653.9,366.7L654.2,366.5L654.5,366.2L654.8,366.0L655.2,365.7L655.5,365.5L655.8,365.2L656.1,365.0L656.4,364.7L656.7,364.5L657.0,364.2L657.3,364.0L657.6,363.7L658.0,363.5L658.3,363.2L658.6,363.0L659.0,362.8L659.3,362.6" fill="none" stroke="#d62728" stroke-width="2.5" stroke-linejoin="round" stroke-linecap="square" clip-path="url(#cd)"/>
<path d="M433.2,364.0L433.5,363.7L433.8,363.4L434.1,363.2L434.4,362.9L434.7,362.7L435.0,362.4L435.4,362.2L435.7,362.0L436.0,361.8L436.4,361.6L436.7,361.4L437.1,361.3L437.5,361.1L437.9,361.0L438.3,360.9L438.6,360.8L439.0,360.7L439.4,360.6L439.8,360.5L440.2,360.4L440.6,360.3L441.0,360.2L441.4,360.2L441.8,360.1L442.2,360.0L442.6,360.0L442.9,359.9L443.3,359.8L443.7,359.8L444.1,359.7L444.5,359.7L444.9,359.6L445.3,359.6L445.7,359.5L446.1,359.4L446.5,359.4L446.9,359.3L447.3,359.3L447.7,359.2L448.1,359.2L448.5,359.1L448.9,359.1L449.3,359.0L449.7,359.0L450.1,358.9L450.5,358.9L450.9,358.8L451.3,358.8L451.7,358.7L452.1,358.7L452.5,358.6L452.9,358.6L453.3,358.5L453.7,358.5L454.0,358.4L454.4,358.3L454.8,358.2L455.2,358.1L455.6,358.0L456.0,357.9L456.4,357.8L456.8,357.7L457.1,357.6L457.5,357.5L457.9,357.4L458.3,357.3L458.7,357.2L459.1,357.0L459.4,356.9L459.8,356.8L460.2,356.7L460.6,356.5L461.0,356.4L461.3,356.3L461.7,356.1L462.1,356.0L462.5,355.8L462.8,355.7L463.2,355.5L463.6,355.3L463.9,355.2L464.3,355.0L464.6,354.8L465.0,354.6L465.4,354.5L465.7,354.3L466.1,354.1L466.4,353.9L466.8,353.7L467.1,353.5L467.4,353.3L467.8,353.1L468.1,352.8L468.4,352.6L468.8,352.4L469.1,352.2L469.4,351.9L469.7,351.7L470.1,351.4L470.4,351.2L470.7,351.0L471.0,350.7L471.3,350.5L471.6,350.2L471.9,349.9L472.2,349.7L472.5,349.4L472.8,349.1L473.1,348.9L473.4,348.6L473.7,348.3L474.0,348.1L474.3,347.8L474.6,347.5L474.9,347.2L475.2,347.0L475.4,346.7L475.7,346.4L476.0,346.1L476.3,345.8L476.6,345.5L476.8,345.2L477.1,344.9L477.4,344.6L477.6,344.3L477.9,344.0L478.2,343.7L478.4,343.4L478.7,343.1L478.9,342.8L479.2,342.5L479.4,342.2L479.7,341.9L479.9,341.6L480.2,341.2L480.4,340.9L480.6,340.6L480.9,340.3L481.1,339.9L481.3,339.6L481.5,339.3L481.8,338.9L482.0,338.6L482.2,338.3L482.4,337.9L482.7,337.6L482.9,337.3L483.1,336.9L483.3,336.6L483.5,336.3L483.7,335.9L483.9,335.6L484.2,335.2L484.4,334.9L484.6,334.6L484.8,334.2L485.0,333.9L485.2,333.5L485.4,333.2L485.6,332.8L485.8,332.5L486.0,332.1L486.2,331.8L486.4,331.4L486.6,331.1L486.8,330.8L487.0,330.4L487.2,330.1L487.4,329.7L487.6,329.4L487.8,329.1L488.0,328.7L488.3,328.4L488.5,328.0L488.7,327.7L488.9,327.4L489.2,327.0L489.4,326.7L489.6,326.4L489.9,326.1L490.1,325.8L490.4,325.5L490.6,325.2L490.9,324.8L491.2,324.5L491.4,324.2L491.7,323.9L492.0,323.6L492.3,323.3L492.6,323.1L492.9,322.9L493.3,322.8L493.7,322.6L494.1,322.5L494.5,322.4L494.9,322.3L495.3,322.3L495.6,322.3L496.0,322.4L496.4,322.6L496.8,322.8L497.1,323.0L497.4,323.3L497.8,323.5L498.1,323.7L498.4,324.0L498.6,324.3L498.9,324.6L499.2,324.9L499.5,325.2L499.7,325.5L500.0,325.8L500.3,326.1L500.5,326.4L500.8,326.7L501.0,327.0L501.3,327.3L501.5,327.6L501.8,327.9L502.1,328.3L502.3,328.6L502.6,328.9L502.9,329.1L503.1,329.4L503.4,329.7L503.7,330.0L504.0,330.3L504.3,330.6L504.6,330.9L504.8,331.1L505.1,331.4L505.4,331.7L505.7,331.9L506.1,332.2L506.4,332.5L506.7,332.7L507.0,332.9L507.3,333.2L507.6,333.4L508.0,333.6L508.3,333.8L508.6,334.0L509.0,334.3L509.3,334.5L509.7,334.7L510.0,334.9L510.4,335.1L510.7,335.2L511.1,335.4L511.5,335.6L511.8,335.7L512.2,335.9L512.6,336.0L512.9,336.2L513.3,336.3L513.7,336.4L514.1,336.5L514.5,336.7L514.9,336.8L515.3,336.9L515.6,337.0L516.0,337.1L516.4,337.1L516.8,337.2L517.2,337.2L517.6,337.3L518.0,337.3L518.4,337.3L518.8,337.4L519.2,337.4L519.6,337.4L520.0,337.4L520.4,337.5L520.8,337.5L521.2,337.5L521.6,337.5L522.0,337.5L522.4,337.5L522.8,337.5L523.2,337.4L523.6,337.4L524.0,337.3L524.4,337.2L524.8,337.1L525.2,337.0L525.6,336.9L525.9,336.8L526.3,336.6L526.7,336.5L527.1,336.4L527.5,336.3L527.9,336.1L528.2,336.0L528.6,335.9L529.0,335.8L529.4,335.6L529.7,335.5L530.1,335.3L530.5,335.2L530.8,335.0L531.2,334.8L531.6,334.6L531.9,334.5L532.3,334.3L532.6,334.1L533.0,333.9L533.4,333.7L533.7,333.5L534.0,333.3L534.4,333.1L534.7,332.9L535.1,332.7L535.4,332.5L535.7,332.3L536.1,332.0L536.4,331.8L536.7,331.6L537.0,331.3L537.4,331.1L537.7,330.9L538.0,330.6L538.3,330.4L538.7,330.2L539.0,329.9L539.3,329.7L539.6,329.5L540.0,329.2L540.3,329.0L540.6,328.8L540.9,328.5L541.2,328.3L541.6,328.0L541.9,327.8L542.2,327.6L542.5,327.3L542.8,327.1L543.2,326.8L543.5,326.6L543.8,326.3L544.1,326.1L544.4,325.8L544.7,325.5L545.0,325.3L545.3,325.0L545.6,324.8L545.9,324.5L546.3,324.3L546.6,324.1L546.9,323.8L547.3,323.6L547.6,323.4L548.0,323.2L548.3,323.0L548.7,322.8L549.1,322.6L549.4,322.5L549.8,322.4L550.2,322.4L550.6,322.4L551.0,322.3L551.4,322.3L551.8,322.3L552.2,322.3L552.6,322.3L552.9,322.4L553.3,322.6L553.6,322.8L553.9,323.1L554.2,323.4L554.5,323.7L554.8,324.1L555.1,324.4L555.3,324.7L555.5,325.0L555.8,325.3L556.0,325.6L556.2,326.0L556.4,326.3L556.6,326.7L556.8,327.0L557.0,327.4L557.2,327.7L557.4,328.1L557.6,328.4L557.9,328.8L558.1,329.1L558.3,329.4L558.5,329.8L558.7,330.1L558.8,330.5L559.0,330.8L559.2,331.2L559.4,331.5L559.6,331.9L559.8,332.2L560.0,332.6L560.2,332.9L560.4,333.3L560.6,333.7L560.7,334.0L560.9,334.4L561.1,334.7L561.3,335.1L561.5,335.4L561.7,335.8L561.8,336.1L562.0,336.5L562.2,336.9L562.4,337.2L562.5,337.6L562.7,337.9L562.9,338.3L563.1,338.7L563.2,339.0L563.4,339.4L563.6,339.7L563.8,340.1L563.9,340.5L564.1,340.8L564.3,341.2L564.5,341.5L564.6,341.9L564.8,342.3L565.0,342.6L565.2,343.0L565.4,343.3L565.5,343.7L565.7,344.1L565.9,344.4L566.1,344.8L566.2,345.1L566.4,345.5L566.6,345.8L566.8,346.2L567.0,346.5L567.2,346.9L567.3,347.3L567.5,347.6L567.7,348.0L567.9,348.3L568.1,348.7L568.3,349.0L568.5,349.4L568.6,349.7L568.8,350.1L569.0,350.4L569.2,350.8L569.4,351.1L569.6,351.5L569.8,351.9L570.0,352.2L570.2,352.6L570.3,352.9L570.5,353.3L570.7,353.6L570.9,354.0L571.1,354.3L571.3,354.7L571.5,355.0L571.7,355.4L571.9,355.7L572.1,356.1L572.2,356.4L572.4,356.8L572.6,357.1L572.8,357.5L573.0,357.8L573.2,358.2L573.4,358.5L573.6,358.9L573.8,359.2L573.9,359.6L574.1,360.0L574.3,360.3L574.5,360.7L574.7,361.0L574.9,361.4L575.1,361.7L575.3,362.1L575.4,362.4L575.6,362.8L575.8,363.1L576.0,363.5L576.2,363.8L576.4,364.2L576.6,364.6L576.7,364.9L576.9,365.3L577.1,365.6L577.3,366.0L577.5,366.3L577.7,366.7L577.9,367.0L578.0,367.4L578.2,367.7L578.4,368.1L578.6,368.5L578.8,368.8L579.0,369.2L579.2,369.5L579.3,369.9L579.5,370.2L579.7,370.6L579.9,370.9L580.1,371.3L580.3,371.6L580.5,372.0L580.7,372.3L580.8,372.7L581.0,373.0L581.2,373.4L581.4,373.8L581.6,374.1L581.8,374.5L582.0,374.8L582.2,375.2L582.4,375.5L582.5,375.9L582.7,376.2L582.9,376.6L583.1,376.9L583.3,377.3L583.5,377.6L583.7,378.0L583.9,378.3L584.1,378.7L584.3,379.0L584.5,379.4L584.7,379.7L584.8,380.1L585.0,380.4L585.2,380.8L585.4,381.1L585.6,381.5L585.8,381.8L586.0,382.2L586.2,382.5L586.4,382.9L586.6,383.2L586.7,383.6L586.9,384.0L587.1,384.3L587.3,384.7L587.5,385.0L587.7,385.4L587.9,385.7L588.0,386.1L588.2,386.4L588.4,386.8L588.6,387.1L588.8,387.5L589.0,387.9L589.2,388.2L589.3,388.6L589.5,388.9L589.7,389.3L589.9,389.6L590.1,390.0L590.3,390.3L590.5,390.7L590.6,391.0L590.8,391.4L591.0,391.8L591.2,392.1L591.4,392.5L591.5,392.8L591.7,393.2L591.9,393.5L592.1,393.9L592.2,394.3L592.4,394.6L592.6,395.0L592.8,395.3L592.9,395.7L593.1,396.1L593.3,396.4L593.4,396.8L593.6,397.2L593.8,397.5L593.9,397.9L594.1,398.3L594.2,398.6L594.4,399.0L594.6,399.4L594.7,399.7L594.9,400.1L595.0,400.5L595.2,400.8L595.4,401.2L595.5,401.6L595.7,401.9L595.8,402.3L596.0,402.7L596.1,403.1L596.3,403.4L596.4,403.8L596.6,404.2L596.7,404.5L596.8,404.9L597.0,405.3L597.1,405.7L597.2,406.1L597.4,406.4L597.5,406.8L597.6,407.2L597.8,407.6L597.9,407.9L598.0,408.3L598.1,408.7L598.2,409.1L598.4,409.5L598.5,409.8L598.6,410.2L598.7,410.6L598.8,411.0L599.0,411.4L599.1,411.8L599.2,412.1L599.3,412.5L599.4,412.9L599.5,413.3L599.6,413.7L599.7,414.1L599.8,414.5L599.9,414.9L600.0,415.2L600.1,415.6L600.2,416.0L600.3,416.4L600.4,416.8L600.5,417.2L600.6,417.6L600.6,418.0L600.7,418.4L600.8,418.7L600.9,419.1L601.0,419.5L601.1,419.9L601.1,420.3L601.2,420.7L601.3,421.1L601.4,421.5L601.4,421.9L601.5,422.3L601.6,422.7L601.7,423.1L601.7,423.5L601.8,423.9L601.9,424.2L601.9,424.6L602.0,425.0L602.1,425.4L602.1,425.8L602.2,426.2L602.3,426.6L602.3,427.0L602.4,427.4L602.5,427.8L602.5,428.2L602.6,428.6L602.6,429.0L602.7,429.4L602.8,429.8L602.8,430.2L602.9,430.6L602.9,431.0L603.0,431.4L603.1,431.8L603.1,432.1L603.2,432.5L603.2,432.9L603.3,433.3L603.4,433.7L603.4,434.1L603.5,434.5L603.5,434.9L603.6,435.3L603.6,435.7L603.7,436.1L603.8,436.5L603.8,436.9L603.9,437.3L603.9,437.7L604.0,438.1L604.0,438.5L604.1,438.9L604.1,439.3L604.2,439.7L604.2,440.1L604.3,440.5L604.3,440.9L604.4,441.3L604.4,441.7L604.5,442.1L604.5,442.5L604.6,442.9L604.6,443.3L604.6,443.6L604.7,444.0L604.7,444.4L604.8,444.8L604.8,445.2L604.9,445.6L604.9,446.0L605.0,446.4L605.0,446.8L605.1,447.2L605.1,447.6L605.1,448.0L605.2,448.4L605.2,448.8L605.3,449.2L605.3,449.6L605.3,450.0L605.4,450.4L605.4,450.8L605.4,451.2L605.5,451.6L605.5,452.0L605.5,452.4L605.6,452.8L605.6,453.2L605.6,453.6L605.6,454.0L605.7,454.4L605.7,454.8L605.7,455.2L605.8,455.6L605.8,456.0L605.8,456.4L605.8,456.8L605.9,457.2L605.9,457.6L605.9,458.0L605.9,458.4L606.0,458.8L606.0,459.2L606.0,459.6L606.0,460.0L606.0,460.4L606.1,460.8L606.1,461.2L606.1,461.6L606.1,462.0L606.2,462.4L606.2,462.8L606.2,463.2L606.2,463.6L606.2,464.0L606.2,464.4L606.3,464.8L606.3,465.2L606.3,465.6L606.3,466.0L606.3,466.4L606.4,466.8L606.4,467.2L606.4,467.6L606.4,468.0L606.4,468.4L606.4,468.8L606.4,469.2L606.5,469.6L606.5,470.0L606.5,470.4L606.5,470.8L606.5,471.2L606.5,471.6L606.5,472.0L606.5,472.4L606.6,472.8L606.6,473.2L606.6,473.6L606.6,474.0L606.6,474.4L606.6,474.8L606.6,475.2L606.6,475.6L606.7,476.0L606.7,476.4L606.7,476.8L606.7,477.2L606.7,477.6L606.7,478.0L606.7,478.4L606.7,478.8L606.7,479.2L606.7,479.6L606.8,480.0L606.8,480.4L606.8,480.8L606.8,481.2L606.8,481.6L606.8,482.0L606.8,482.4L606.8,482.8L606.8,483.2L606.8,483.6L606.9,484.0L606.9,484.4L606.9,484.8L606.9,485.2L606.9,485.6L606.9,486.0L606.9,486.4L606.9,486.8L606.9,487.2L606.9,487.6L606.9,488.0L607.0,488.4L607.0,488.8L607.0,489.2L607.0,489.6L607.0,490.0L607.0,490.4L607.0,490.8L607.0,491.2L607.0,491.6L607.0,492.0L607.1,492.4L607.1,492.8L607.1,493.2L607.1,493.6L607.1,494.0L607.1,494.4L607.1,494.8L607.1,495.2L607.1,495.6L607.1,496.0L607.2,496.4L607.2,496.8L607.2,497.2L607.2,497.6L607.2,498.0L607.2,498.4L607.2,498.8L607.2,499.2L607.2,499.6L607.2,500.0L607.2,500.4L607.3,500.8L607.3,501.2L607.3,501.6L607.3,502.0L607.3,502.4L607.3,502.8L607.3,503.2L607.3,503.6L607.3,504.0L607.3,504.4L607.3,504.8L607.4,505.2L607.4,505.6L607.4,506.0L607.4,506.4L607.4,506.8L607.4,507.2L607.4,507.6L607.4,508.1L607.4,508.5L607.4,509.0L607.4,509.6L607.5,510.1L607.5,510.6L607.5,511.2L607.5,511.7L607.5,512.2L607.5,512.7L607.5,513.2L607.5,513.6L607.5,514.1L607.5,514.5L607.5,514.8L607.6,515.1L607.6,515.4L607.6,515.6L607.6,515.7L607.6,515.8L607.6,515.8L607.6,515.7L607.6,515.6L607.6,515.4L607.7,515.2L607.7,514.9L607.7,514.5L607.7,514.1L607.7,513.7L607.7,513.3L607.7,512.8L607.8,512.3L607.8,511.8L607.8,511.3L607.8,510.7L607.8,510.2L607.8,509.7L607.8,509.2L607.9,508.6L607.9,508.2L607.9,507.7L607.9,507.3L607.9,506.8L607.9,506.4L607.9,506.0L607.9,505.6L608.0,505.2L608.0,504.8L608.0,504.4L608.0,504.0L608.0,503.6L608.0,503.2L608.0,502.8L608.0,502.5L608.0,502.1L608.1,501.7L608.1,501.3L608.1,500.9L608.1,500.5L608.1,500.1L608.1,499.7L608.1,499.3L608.1,498.9L608.1,498.5L608.2,498.1L608.2,497.7L608.2,497.3L608.2,496.9L608.2,496.5L608.2,496.1L608.2,495.7L608.2,495.3L608.2,494.9L608.3,494.5L608.3,494.1L608.3,493.7L608.3,493.3L608.3,492.9L608.3,492.5L608.3,492.1L608.3,491.7L608.4,491.3L608.4,490.9L608.4,490.5L608.4,490.1L608.4,489.7L608.4,489.3L608.4,488.9L608.5,488.5L608.5,488.1L608.5,487.7L608.5,487.3L608.5,486.9L608.5,486.5L608.6,486.1L608.6,485.7L608.6,485.3L608.6,484.9L608.6,484.5L608.7,484.1L608.7,483.7L608.7,483.3L608.7,482.9L608.7,482.5L608.7,482.1L608.8,481.7L608.8,481.3L608.8,480.9L608.8,480.5L608.8,480.1L608.9,479.7L608.9,479.3L608.9,478.9L608.9,478.5L609.0,478.1L609.0,477.7L609.0,477.3L609.0,476.9L609.0,476.5L609.1,476.1L609.1,475.7L609.1,475.3L609.1,474.9L609.1,474.5L609.2,474.1L609.2,473.7L609.2,473.3L609.2,472.9L609.2,472.5L609.3,472.1L609.3,471.7L609.3,471.3L609.3,470.9L609.3,470.5L609.4,470.1L609.4,469.7L609.4,469.3L609.4,468.9L609.4,468.5L609.5,468.1L609.5,467.7L609.5,467.3L609.5,466.9L609.5,466.5L609.6,466.1L609.6,465.7L609.6,465.3L609.6,464.9L609.6,464.5L609.7,464.1L609.7,463.7L609.7,463.3L609.7,462.9L609.7,462.5L609.8,462.1L609.8,461.7L609.8,461.3L609.8,460.9L609.8,460.5L609.9,460.1L609.9,459.7L609.9,459.3L609.9,458.9L610.0,458.5L610.0,458.1L610.0,457.7L610.0,457.3L610.1,456.9L610.1,456.5L610.1,456.1L610.1,455.7L610.2,455.3L610.2,454.9L610.2,454.5L610.3,454.1L610.3,453.7L610.3,453.3L610.4,452.9L610.4,452.5L610.4,452.1L610.5,451.7L610.5,451.3L610.6,450.9L610.6,450.5L610.6,450.1L610.7,449.7L610.7,449.3L610.8,448.9L610.8,448.5L610.8,448.1L610.9,447.7L610.9,447.3L611.0,446.9L611.0,446.5L611.1,446.2L611.1,445.8L611.2,445.4L611.2,445.0L611.3,444.6L611.3,444.2L611.3,443.8L611.4,443.4L611.4,443.0L611.5,442.6L611.5,442.2L611.6,441.8L611.6,441.4L611.7,441.0L611.7,440.6L611.8,440.2L611.8,439.8L611.9,439.4L611.9,439.0L612.0,438.6L612.0,438.2L612.1,437.8L612.1,437.4L612.2,437.0L612.2,436.6L612.3,436.2L612.3,435.8L612.4,435.4L612.4,435.0L612.5,434.6L612.5,434.2L612.6,433.8L612.6,433.4L612.7,433.0L612.7,432.6L612.8,432.3L612.8,431.9L612.9,431.5L612.9,431.1L613.0,430.7L613.1,430.3L613.1,429.9L613.2,429.5L613.2,429.1L613.3,428.7L613.4,428.3L613.4,427.9L613.5,427.5L613.6,427.1L613.6,426.7L613.7,426.3L613.8,425.9L613.8,425.5L613.9,425.1L614.0,424.8L614.1,424.4L614.1,424.0L614.2,423.6L614.3,423.2L614.4,422.8L614.4,422.4L614.5,422.0L614.6,421.6L614.7,421.2L614.8,420.8L614.9,420.4L615.0,420.0L615.0,419.6L615.1,419.3L615.2,418.9L615.3,418.5L615.4,418.1L615.5,417.7L615.6,417.3L615.7,416.9L615.8,416.5L615.9,416.2L616.0,415.8L616.1,415.4L616.3,415.0L616.4,414.6L616.5,414.3L616.6,413.9L616.8,413.5L616.9,413.1L617.1,412.7L617.2,412.4L617.3,412.0L617.5,411.6L617.6,411.3L617.8,410.9L617.9,410.5L618.1,410.2L618.3,409.8L618.4,409.4L618.6,409.1L618.8,408.7L619.0,408.3L619.1,408.0L619.3,407.6L619.5,407.3L619.7,406.9L619.9,406.6L620.0,406.2L620.2,405.8L620.4,405.5L620.6,405.1L620.7,404.8L620.9,404.4L621.1,404.0L621.3,403.7L621.4,403.3L621.6,403.0L621.8,402.6L621.9,402.2L622.1,401.9L622.3,401.5L622.5,401.2L622.7,400.8L622.8,400.4L623.0,400.1L623.2,399.7L623.4,399.4L623.5,399.0L623.7,398.6L623.9,398.3L624.1,397.9L624.3,397.6L624.4,397.2L624.6,396.9L624.8,396.5L625.0,396.2L625.2,395.8L625.4,395.5L625.6,395.1L625.8,394.8L626.0,394.4L626.2,394.1L626.4,393.7L626.6,393.4L626.8,393.1L627.0,392.7L627.2,392.4L627.5,392.0L627.7,391.7L627.9,391.4L628.1,391.0L628.4,390.7L628.6,390.4L628.8,390.1L629.0,389.7L629.3,389.4L629.5,389.1L629.8,388.8L630.0,388.4L630.2,388.1L630.5,387.8L630.7,387.5L631.0,387.2L631.2,386.9L631.5,386.6L631.7,386.2L632.0,385.9L632.2,385.6L632.5,385.3L632.8,385.0L633.0,384.7L633.3,384.4L633.6,384.1L633.8,383.8L634.1,383.5L634.4,383.3L634.7,383.0L634.9,382.7L635.2,382.4L635.5,382.1L635.8,381.8L636.1,381.5L636.3,381.2L636.6,381.0L636.9,380.7L637.2,380.4L637.5,380.1L637.8,379.9L638.1,379.6L638.4,379.3L638.7,379.0L639.0,378.8L639.2,378.5L639.5,378.2L639.8,378.0L640.1,377.7L640.4,377.4L640.7,377.1L641.0,376.9L641.3,376.6L641.6,376.3L641.9,376.1L642.2,375.8L642.5,375.5L642.8,375.2L643.0,374.9L643.3,374.7L643.6,374.4L643.9,374.1L644.2,373.8L644.5,373.6L644.8,373.3L645.1,373.0L645.4,372.8L645.7,372.5L646.0,372.2L646.3,372.0L646.6,371.7L646.9,371.5L647.2,371.2L647.5,371.0L647.9,370.7L648.2,370.5L648.5,370.2L648.8,370.0L649.1,369.8L649.4,369.5L649.8,369.3L650.1,369.0L650.4,368.8L650.7,368.5L651.0,368.3L651.3,368.1L651.7,367.8L652.0,367.6L652.3,367.3L652.6,367.1L652.9,366.8L653.3,366.6L653.6,366.3L653.9,366.1L654.2,365.9L654.5,365.6L654.8,365.4L655.1,365.1L655.5,364.9L655.8,364.6L656.1,364.4L656.4,364.1L656.7,363.9L657.0,363.6L657.3,363.4L657.6,363.1L658.0,362.9L658.3,362.6L658.6,362.4L659.0,362.2L659.3,362.0" fill="none" stroke="#9467bd" stroke-width="2.5" stroke-linejoin="round" stroke-linecap="square" clip-path="url(#cd)"/>
<rect x="433.20" y="317.50" width="242.50" height="218.90" fill="none" stroke="#000" stroke-width="1.1" stroke-linejoin="miter"/>
<line x1="433.20" y1="536.40" x2="433.20" y2="541.40" stroke="#000" stroke-width="1.1" />
<text x="423.32" y="554.90" font-size="10.76" textLength="19.75" lengthAdjust="spacingAndGlyphs">700</text>
<line x1="467.84" y1="536.40" x2="467.84" y2="541.40" stroke="#000" stroke-width="1.1" />
<text x="457.97" y="554.90" font-size="10.76" textLength="19.75" lengthAdjust="spacingAndGlyphs">720</text>
<line x1="502.49" y1="536.40" x2="502.49" y2="541.40" stroke="#000" stroke-width="1.1" />
<text x="492.61" y="554.90" font-size="10.76" textLength="19.75" lengthAdjust="spacingAndGlyphs">740</text>
<line x1="537.13" y1="536.40" x2="537.13" y2="541.40" stroke="#000" stroke-width="1.1" />
<text x="527.25" y="554.90" font-size="10.76" textLength="19.75" lengthAdjust="spacingAndGlyphs">760</text>
<line x1="571.77" y1="536.40" x2="571.77" y2="541.40" stroke="#000" stroke-width="1.1" />
<text x="561.89" y="554.90" font-size="10.76" textLength="19.75" lengthAdjust="spacingAndGlyphs">780</text>
<line x1="606.41" y1="536.40" x2="606.41" y2="541.40" stroke="#000" stroke-width="1.1" />
<text x="596.54" y="554.90" font-size="10.76" textLength="19.75" lengthAdjust="spacingAndGlyphs">800</text>
<line x1="641.06" y1="536.40" x2="641.06" y2="541.40" stroke="#000" stroke-width="1.1" />
<text x="631.18" y="554.90" font-size="10.76" textLength="19.75" lengthAdjust="spacingAndGlyphs">820</text>
<line x1="675.70" y1="536.40" x2="675.70" y2="541.40" stroke="#000" stroke-width="1.1" />
<text x="665.82" y="554.90" font-size="10.76" textLength="19.75" lengthAdjust="spacingAndGlyphs">840</text>
<line x1="428.20" y1="321.70" x2="433.20" y2="321.70" stroke="#000" stroke-width="1.1" />
<text x="416.02" y="326.00" font-size="10.76" textLength="6.58" lengthAdjust="spacingAndGlyphs">0</text>
<line x1="428.20" y1="357.44" x2="433.20" y2="357.44" stroke="#000" stroke-width="1.1" />
<rect x="401.85" y="358.07" width="6.48" height="0.86" fill="#000"/>
<text x="409.43" y="361.74" font-size="10.76" textLength="13.17" lengthAdjust="spacingAndGlyphs">10</text>
<line x1="428.20" y1="393.18" x2="433.20" y2="393.18" stroke="#000" stroke-width="1.1" />
<rect x="401.85" y="393.81" width="6.48" height="0.86" fill="#000"/>
<text x="409.43" y="397.48" font-size="10.76" textLength="13.17" lengthAdjust="spacingAndGlyphs">20</text>
<line x1="428.20" y1="428.92" x2="433.20" y2="428.92" stroke="#000" stroke-width="1.1" />
<rect x="401.85" y="429.55" width="6.48" height="0.86" fill="#000"/>
<text x="409.43" y="433.22" font-size="10.76" textLength="13.17" lengthAdjust="spacingAndGlyphs">30</text>
<line x1="428.20" y1="464.66" x2="433.20" y2="464.66" stroke="#000" stroke-width="1.1" />
<rect x="401.85" y="465.29" width="6.48" height="0.86" fill="#000"/>
<text x="409.43" y="468.96" font-size="10.76" textLength="13.17" lengthAdjust="spacingAndGlyphs">40</text>
<line x1="428.20" y1="500.40" x2="433.20" y2="500.40" stroke="#000" stroke-width="1.1" />
<rect x="401.85" y="501.03" width="6.48" height="0.86" fill="#000"/>
<text x="409.43" y="504.70" font-size="10.76" textLength="13.17" lengthAdjust="spacingAndGlyphs">50</text>
<line x1="428.20" y1="536.14" x2="433.20" y2="536.14" stroke="#000" stroke-width="1.1" />
<rect x="401.85" y="536.77" width="6.48" height="0.86" fill="#000"/>
<text x="409.43" y="540.44" font-size="10.76" textLength="13.17" lengthAdjust="spacingAndGlyphs">60</text>
<text x="535.16" y="571.20" font-size="12.17" textLength="38.58" lengthAdjust="spacingAndGlyphs">λ (nm)</text>
<text transform="translate(390.90,426.95) rotate(-90)" x="-18.22" y="0" font-size="12.17" textLength="36.43" lengthAdjust="spacingAndGlyphs">R (dB)</text>
<text x="399.40" y="300.00" font-size="11.56" textLength="7.16" lengthAdjust="spacingAndGlyphs" font-weight="bold">d</text>
<rect x="438.60" y="423.20" width="44.00" height="106.60" rx="2.2" ry="2.2" fill="#fff" stroke="#cccccc" stroke-width="1.1"/>
<text x="443.44" y="436.20" font-size="10.87" textLength="34.13" lengthAdjust="spacingAndGlyphs">L (µm)</text>
<line x1="445.20" y1="450.40" x2="458.20" y2="450.40" stroke="#1f77b4" stroke-width="2.5" stroke-linecap="butt"/>
<text x="460.00" y="454.45" font-size="12.06" textLength="7.38" lengthAdjust="spacingAndGlyphs">5</text>
<line x1="445.20" y1="467.50" x2="458.20" y2="467.50" stroke="#ff7f0e" stroke-width="2.5" stroke-linecap="butt"/>
<text x="460.00" y="471.55" font-size="12.06" textLength="14.76" lengthAdjust="spacingAndGlyphs">10</text>
<line x1="445.20" y1="484.60" x2="458.20" y2="484.60" stroke="#2ca02c" stroke-width="2.5" stroke-linecap="butt"/>
<text x="460.00" y="488.65" font-size="12.06" textLength="14.76" lengthAdjust="spacingAndGlyphs">22</text>
<line x1="445.20" y1="501.70" x2="458.20" y2="501.70" stroke="#d62728" stroke-width="2.5" stroke-linecap="butt"/>
<text x="460.00" y="505.75" font-size="12.06" textLength="14.76" lengthAdjust="spacingAndGlyphs">44</text>
<line x1="445.20" y1="518.80" x2="458.20" y2="518.80" stroke="#9467bd" stroke-width="2.5" stroke-linecap="butt"/>
<text x="460.00" y="522.85" font-size="12.06" textLength="14.76" lengthAdjust="spacingAndGlyphs">88</text>
</g>
</svg>
</body></html>
